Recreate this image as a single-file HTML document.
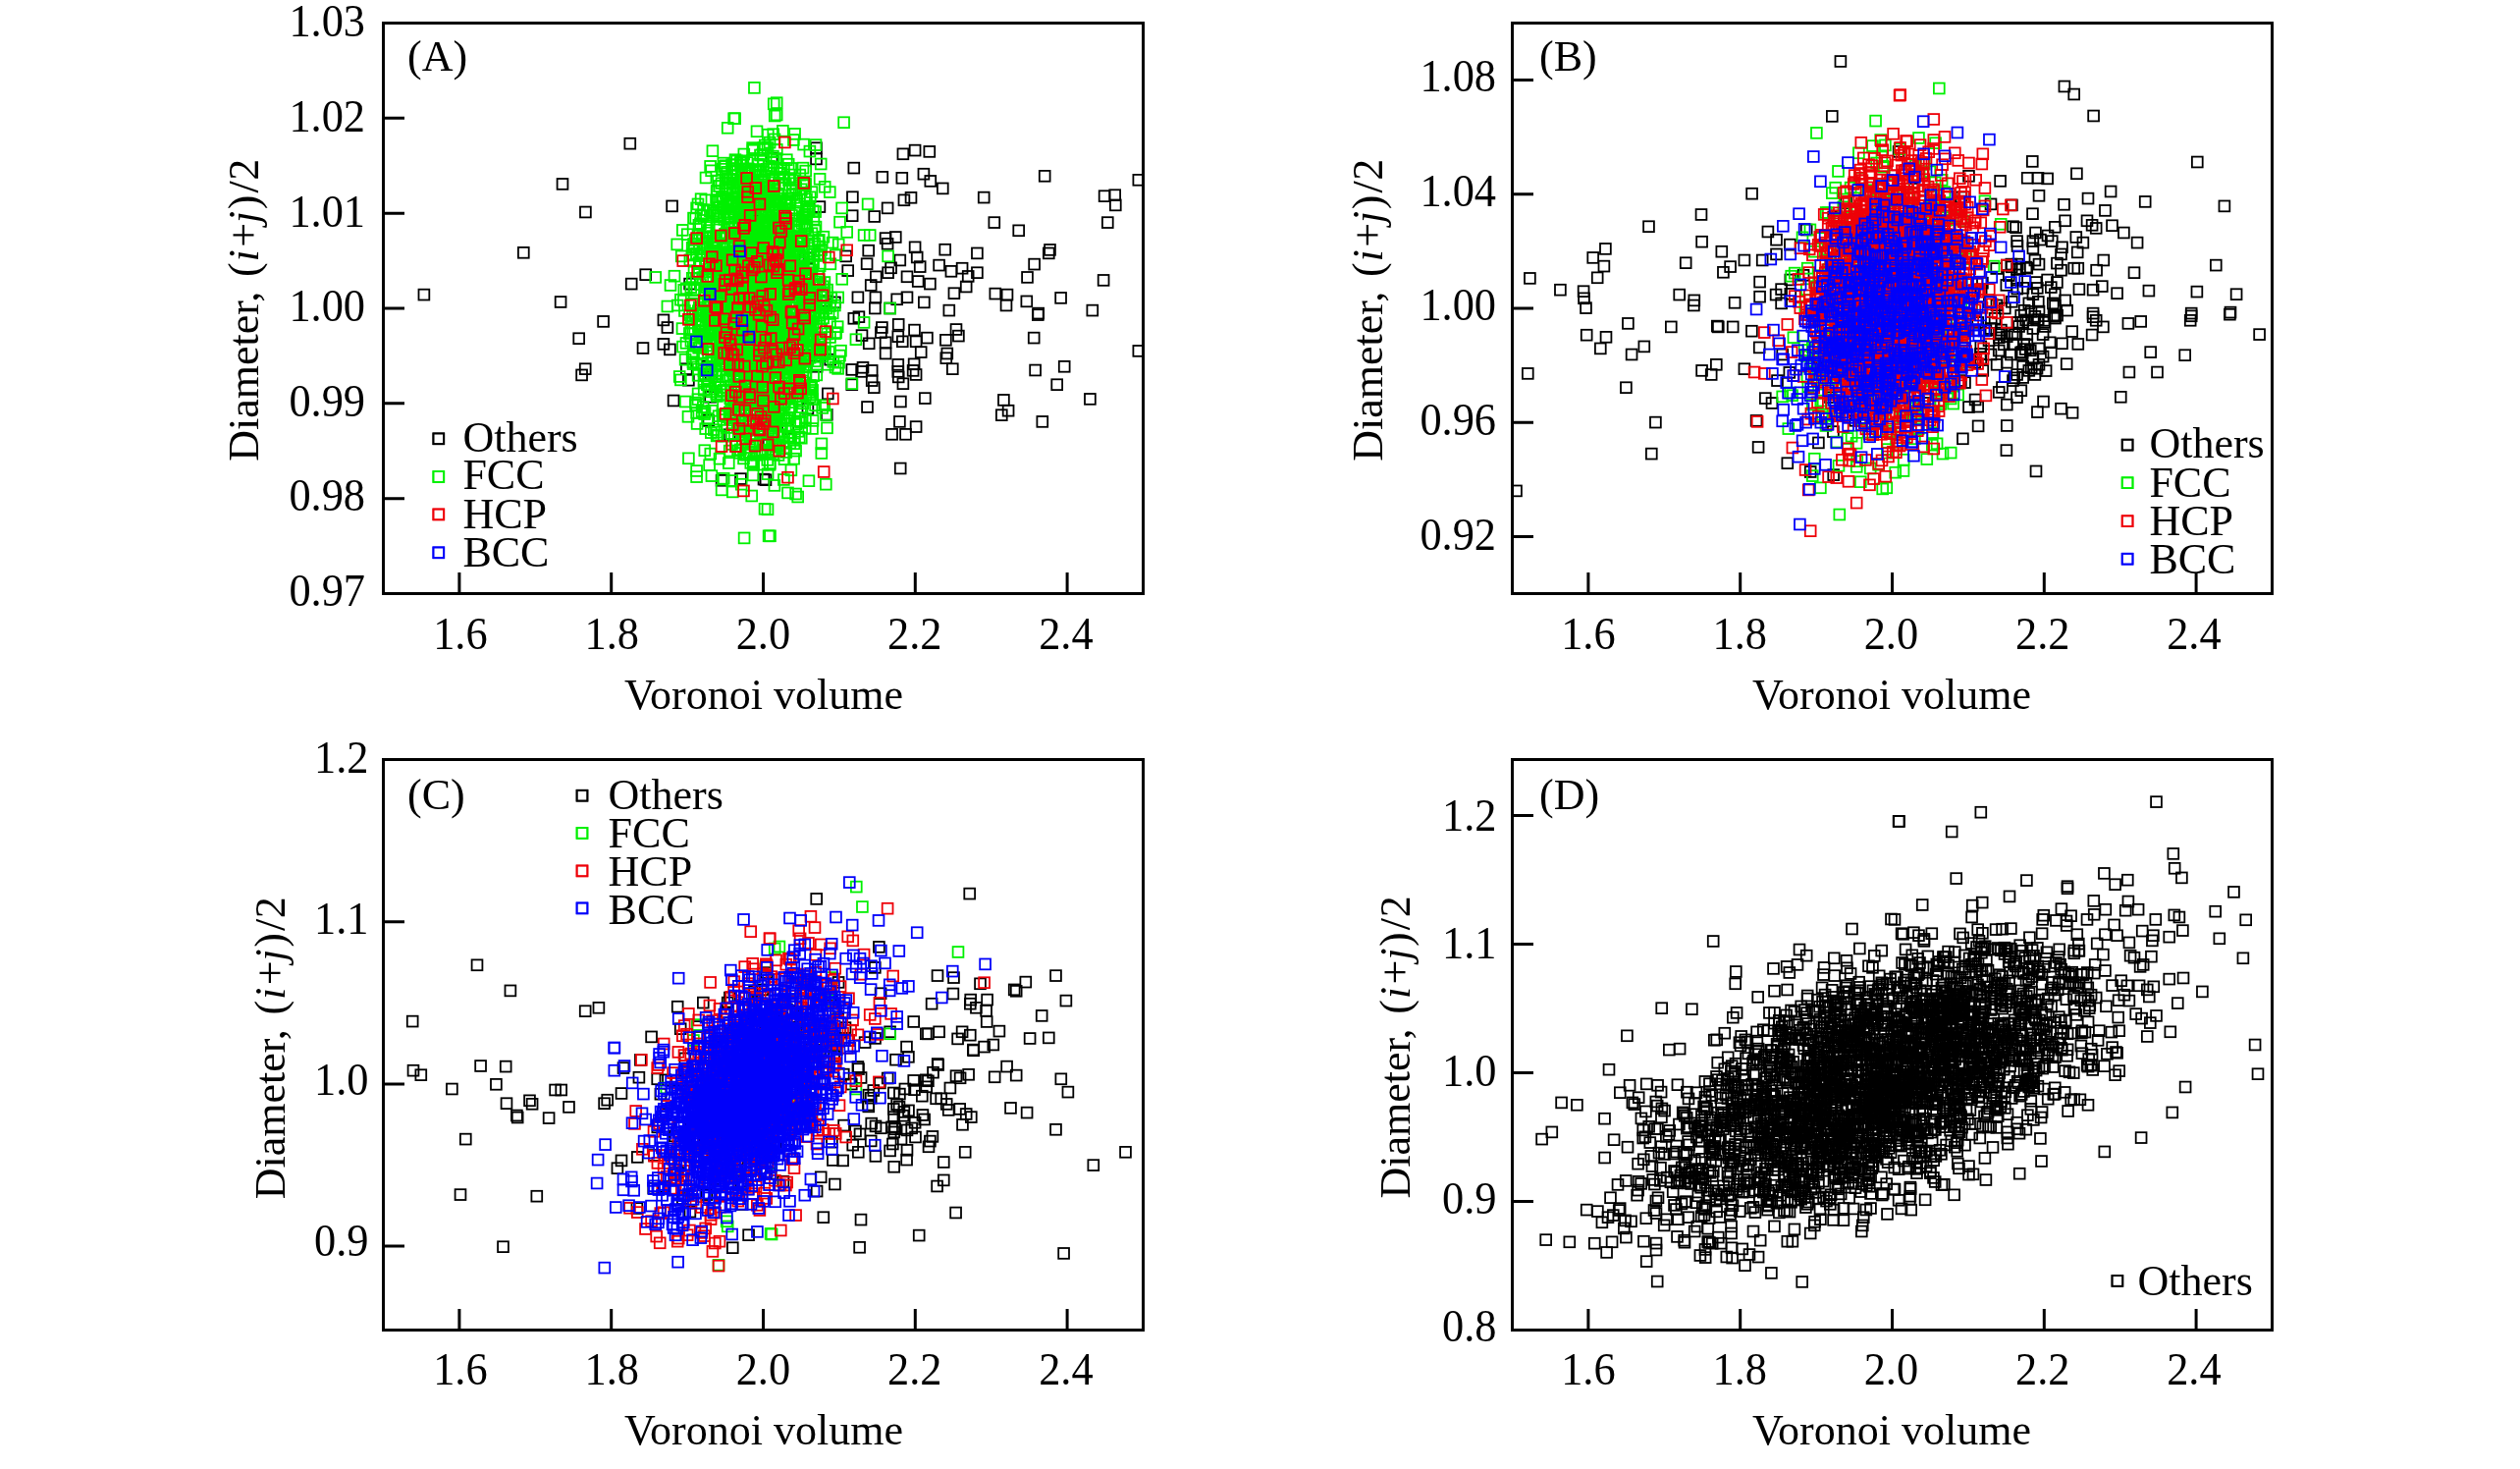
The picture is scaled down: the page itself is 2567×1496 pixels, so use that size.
<!DOCTYPE html>
<html lang="en">
<head>
<meta charset="utf-8">
<title>Diameter vs Voronoi volume</title>
<style>
html,body{margin:0;padding:0;background:#fff;}
body{width:2567px;height:1496px;overflow:hidden;}
svg{display:block;will-change:transform;}
svg text{font-family:"Liberation Serif", "Times New Roman", serif;font-size:44px;fill:#000;}
.s{fill:none;stroke:none;}
</style>
</head>
<body>
<svg width="2567" height="1496" viewBox="0 0 2567 1496">
<rect width="2567" height="1496" fill="#fff"/>
<defs><marker id="k" markerUnits="userSpaceOnUse" markerWidth="13.6" markerHeight="13.6" refX="6.8" refY="6.8" orient="0"><rect x="1.4" y="1.4" width="10.8" height="10.8" fill="none" stroke="#000000" stroke-width="1.8"/></marker><marker id="g" markerUnits="userSpaceOnUse" markerWidth="13.6" markerHeight="13.6" refX="6.8" refY="6.8" orient="0"><rect x="1.4" y="1.4" width="10.8" height="10.8" fill="none" stroke="#00f000" stroke-width="1.8"/></marker><marker id="r" markerUnits="userSpaceOnUse" markerWidth="13.6" markerHeight="13.6" refX="6.8" refY="6.8" orient="0"><rect x="1.4" y="1.4" width="10.8" height="10.8" fill="none" stroke="#ee0008" stroke-width="1.8"/></marker><marker id="b" markerUnits="userSpaceOnUse" markerWidth="13.6" markerHeight="13.6" refX="6.8" refY="6.8" orient="0"><rect x="1.4" y="1.4" width="10.8" height="10.8" fill="none" stroke="#0000fa" stroke-width="1.8"/></marker></defs>
<clipPath id="cA"><rect x="390.5" y="23.5" width="774.0" height="581.0"/></clipPath><g clip-path="url(#cA)">
<polyline class="s" marker-start="url(#k)" marker-mid="url(#k)" marker-end="url(#k)" points="817.3,344 739.8,264.9 723.6,404.3 780.1,253.7 797.2,322.9 806.6,283.5 802.3,255 749.2,334.3 734.6,312.6 834.9,210.6 779.4,216 808.9,259 724.2,381.1 760.6,318.2 727.5,267.3 747.5,330.4 812.4,361.3 720.2,373.3 756.8,363 783.8,366 751.6,348.9 767.7,225.2 768.9,376 793.7,245.3 760.8,281.7 788,303.2 779.7,378.1 793.9,349.4 786.2,161.1 841.7,306.3 751.8,272.3 823.9,262.6 761.9,232.2 740.4,332.4 824.4,361.3 760.5,318.6 641.8,146.2 573,187.4 596.4,216 684.6,209.9 533.3,257.3 657.7,279.7 643.2,289.1 702.6,289.1 431.9,300.1 571.1,307.5 831.5,150.7 831.5,161.9 869.8,171.1 919.9,156.8 932.1,153.1 946.8,154.4 898.8,180.3 918.8,181.3 940.9,177.2 947.8,184.4 960.3,191.9 1064.2,179.3 1159.8,183.3 868.4,200.7 920.9,203.8 928,201.3 1002.2,201.1 1125.1,199.7 1135.7,198.7 1136.3,208.9 904.1,211.9 868.2,219.7 890.7,220.5 1012.8,226.6 1037.7,234.8 1128.3,226.6 902.1,242.6 912.3,241.5 904.1,248.3 884.7,255.2 932.1,251.8 962.7,254.2 995.4,257.9 1069.5,254.4 1068.3,257.9 861.7,260.9 883.1,268.7 916.8,265 934.2,262 937.2,271.6 907.6,272.8 956.6,270.1 968.9,276.3 980.1,273.2 995.4,277.7 1053.6,269.1 1046.5,282.4 1124.1,285.4 863.7,275.6 892.3,281.8 904.6,277.7 924,281.8 935.2,286.5 947.4,289.1 986.2,281.4 984.2,292 887.2,290.5 971.9,298.7 1013.8,299.1 1026,300.1 1025,311 1045.8,306.9 1080.6,303.4 873.9,302.8 891.9,302.8 913.7,304.8 924,302.8 941.3,307.9 891.3,314 906.6,314 966.8,316.1 1057.7,319.1 1112.8,316.1 850.4,307.9 1057.3,320.6 869.8,324.3 874.9,322.7 898.4,333.5 897.4,338.6 915.2,330.4 931.5,336.1 974,335.5 976.4,342.1 944.4,344.1 1053.2,344.1 878,341.6 885.2,349.8 902.1,348.8 914.8,342.7 919.3,347.8 933.1,347.8 963.4,346.3 938.2,358.6 902.1,360 964.8,360 963.8,364.7 1159.8,357.4 845.7,366.2 832.1,373.3 867.8,376.4 879,374.3 877.6,378.4 888.2,377.4 914.8,371.3 914.8,378.4 931.1,370.8 930.1,377.4 933.1,381.5 970.3,375.7 1054.6,377 1084.2,373.3 915.2,383.9 888.2,387.6 890.3,394.7 919.9,390.7 867.8,391.7 1076.7,391.7 843.3,400.9 942.3,405.6 917.4,409 883.5,414.5 1022.4,407.4 1027.1,418.2 1020.3,422.7 1110.4,406.4 1061.8,429.4 916.4,429.4 933.1,434.6 908.6,442.3 922.5,442.3 822.9,416.2 842.3,422.3 802.5,436.6 917.2,477 780,488.7 783.1,452.9 614.6,327.4 589.7,344.7 655,354.5 675.9,325.9 679.9,333.5 675.9,350.4 682.4,355.9 596.2,375.7 592.6,381.9 699.3,375.7 701.4,387.2 686.1,408 735.1,489.3 754.5,487.6 778,488.1 721.8,428.4 743.2,442.7"/>
<polyline class="s" marker-start="url(#g)" marker-mid="url(#g)" marker-end="url(#g)" points="763.3,344.5 804.4,309.8 780.9,401.7 783.2,307.3 779.1,218.2 819.6,336.2 752.5,359.7 755.5,398.3 805.9,414.5 769.5,378.2 787.7,368.9 745.2,288 774.6,303.7 789.4,433.8 726.4,214.9 747,375.4 790.3,275.9 790.5,431.2 771.4,233.9 741.1,276.4 789.2,309.6 771.7,250.7 761,391.4 754.4,418.2 851.4,259.7 772.8,227.1 776.4,295.7 792,344.3 715.8,282.6 755.1,315.6 718.9,319.7 768.9,190.4 781.4,274 780.2,279.4 766,392.5 780.8,240.3 780.6,255.7 789.5,362.7 774.6,357.6 711.9,229.3 742,320 785.8,459.8 740.6,203.5 743,358.3 778.1,264 771.9,234.5 807.7,261.3 793.8,334.7 756.7,373.5 777.9,204.9 743.1,256.7 767.8,265.1 693.4,305.2 761.1,377.5 783.2,220.7 812.9,275 789.6,335 839.9,287.5 827.6,397.4 717.6,421.6 764.6,308.8 767.4,324.4 777.2,252.5 751.3,264.9 796.7,394.4 802.4,269.7 717.9,306.9 809.5,364.2 748.5,266.2 813.8,291.8 795.9,312.8 768.6,384.4 842.8,340 805.1,182.3 774.9,341 783.2,387.1 825.9,320.9 807.3,186.7 781.7,411.5 795.5,363 779.2,202.2 718.4,268.6 807.5,356.6 788.8,430.8 724.5,376.3 750.1,200.8 764.5,191.1 786.5,341.8 834.6,251 774.3,301.3 706.6,248.4 798.9,351.5 767,265.6 711.4,332.4 733.1,330 788.1,226 747.1,168 796,411 762.6,259.4 781,292.2 800.5,375.2 795,202.2 736,422.7 705.3,260 766.3,382.7 734.8,344.9 817.5,244.3 724.8,325.3 736.8,427.5 731.1,364.7 722.6,317.4 753.6,461.3 780.5,404 737.9,223.4 712.8,315.4 763.2,199.1 771.8,296.4 800.7,270.7 765.6,273.4 807.4,373.7 736.1,383.3 769.4,212 759.7,204 720.2,292.6 768.4,302.9 814.3,229.8 848.8,368.4 807.7,396.3 815.5,319.3 817.4,395.6 756,322.2 784.1,145.1 749.7,256.6 795.1,260.4 814.8,178.1 764,412 782.1,297.3 805.9,374.9 748.3,228.8 818.6,147.1 792.3,265.2 779.1,418.7 774.8,191.4 799.9,386.4 811.8,243.3 726.7,255.8 739.8,314.9 713.5,227.8 791.1,309.5 788.7,265.9 733.3,394.3 822.2,342.2 830.9,363.2 830.9,319.2 775.6,348.5 778.8,189.8 778.9,394.7 768.3,242.9 728.3,251.4 750.1,259.4 804.4,384.3 773.5,239.3 754.8,323 764.2,207.8 835.4,260.4 827.2,248.3 815.3,341.5 780.7,292.7 730,219.7 781.4,309.6 761.4,400.5 811.5,389 746.9,315 820.8,401.9 775.7,459.8 777.1,383.3 752,255.7 766.8,186.4 776.9,157.4 765.8,259.9 762.3,171.8 759.1,427 843.4,371.3 766.4,163.3 802.2,234.9 776.7,341.5 773.7,246.2 753.7,186 822.7,306.8 827.7,270.2 751.1,307.7 742.4,231.6 740.4,237.1 787.4,355 779.9,227.6 800.8,460.5 769.1,295 753.6,352.7 778,436.4 751.9,392.7 798.4,398.7 790.1,342.2 795.5,291.5 791.3,365.7 757.1,277.3 714,220 820.2,373.6 813.1,403.3 808.3,299.5 779.8,351.4 770.7,360.4 773.4,281.1 744.1,182.9 768.6,224.1 775.7,271.2 781.7,319.6 749.6,376.7 788.3,393.4 751,260.2 753.7,332.3 776.8,271.8 756,224.6 736.5,201.8 752.8,343.2 747.9,422.8 778.2,183.3 798.8,402.7 796.5,306.5 747.2,325.6 759.8,224.3 783.7,230.2 716,241.6 806.4,332.4 819.3,312.1 799.8,248.4 699,349.4 783.8,274.3 707.9,294.7 808.2,250.6 721.9,374.9 787.3,269 722.3,396.1 732.5,372.4 790.2,369.9 729.4,377.4 731.5,278.4 779.9,311.6 772.9,235.7 819.7,301.9 806.1,293.8 761.1,165.5 747.1,196.2 814,332.5 746.3,305.1 732.9,223.1 789.6,451 749.1,327.3 716.6,339.8 796,410.6 807.9,320.8 731.4,442.9 754.2,318 766.5,310.4 756.8,429.5 718,296.7 774.5,158 760,332.1 778.5,232.9 798.3,222.2 790.2,347.9 734.5,371.4 776.7,428.4 804.8,375.8 737.4,444.2 743,285.3 835.1,270.7 689.7,248.9 760.1,338.6 747.6,383.5 758,208.1 759,327.4 798.7,283.2 808.9,224.9 837.6,300.5 771.4,222.6 783.9,297.3 814.1,325.7 766.8,382.6 789.5,388.5 766.8,286.1 817.7,387.8 723.3,318.1 779.8,364.3 724.6,341.2 784.9,249.9 805.1,273.1 758.2,342.5 764.8,331.4 817.3,312.9 769.9,308.9 796.4,334.1 764.6,340.6 741,182.2 757.5,319.7 846.7,303.1 763.7,431 776.5,371.5 787.4,165.5 795.7,329.9 809,235.7 743.8,382.2 799.7,207.3 751,325 760.7,354.8 815.2,328.7 777,227 762.7,339 752.9,399.4 779.7,420.2 763.5,324.3 811.5,337.2 782.4,305.7 768.1,344.2 787,344.8 747.3,216.2 727.6,335.6 731.6,267.6 723.2,295 770.5,379 772.9,427.7 797.1,258.3 735.1,314.4 756.6,194.8 751.1,345.9 832.6,258.7 779.2,392.7 791.2,343.3 815.4,369.8 782.9,332.4 771.4,308.5 756.8,358.7 762.1,311.9 772.3,255.8 764.9,412.4 764.5,315.7 840.2,360.2 724.8,362.7 702.9,264.8 788.8,305.4 823.8,245.5 763.1,332.1 806.3,309.1 832.9,360.3 764.7,284.4 782.4,316.9 742.2,341.3 749.7,237.6 759.3,434.1 801.5,395.1 826.5,402 801,310.3 740.6,320.9 743.7,294.3 759.5,321.2 774.7,308.9 795.9,204.5 719.4,323.2 734.3,321.3 837.2,363 790.9,161.5 790.6,394.8 722.9,307.1 813.4,364.5 794.6,433.2 721.5,358.7 730.4,403.5 799.3,379.8 725.9,298.4 798.3,249.5 754,292.6 800.2,227.6 810.1,271.2 837.7,415.4 712.3,267.5 721,308.5 771,239 835.5,289.3 795.2,349.1 725.4,378.5 810.1,319.9 772,260.8 823,305.5 731.2,274.2 810.4,278.1 824.2,399.5 737.3,361.4 780,452.8 792.7,343.8 782.8,399.7 741.6,282.4 812.9,241.9 740.2,361.2 778.8,339.1 794.6,269.4 789.4,374 798.4,254.4 784.1,302.3 786.9,449.9 824.2,214.5 765.8,357.8 768.2,322.8 719.6,321.9 790.4,317.9 827.1,341.5 759.6,412.4 793,278.9 819.3,290.5 819.2,327.8 810.1,368.4 813.2,367.6 708.4,320.2 789.5,308.5 715.1,242.6 809,183.7 720.6,426.5 808.4,276.5 750.8,201.2 737,330.5 803.1,249.8 766.2,409 729.3,273.7 733,326.4 719,181 831.8,381.9 819.9,188.8 775.9,271.7 747.8,377.6 792.6,383.9 766.1,282.7 801.3,162.7 796.2,171.4 776.1,438.9 763,299.2 796.8,225 774.1,300 714.2,330.3 785.2,362.7 759.2,312.4 783.8,195.6 760.8,284.1 785,244.4 762.1,320.4 853.7,302.9 792.3,253.6 775.3,179.6 787,295.7 778.4,263.8 828.3,296.5 747.1,278.9 745.9,171.5 796.3,308.5 766.1,334.3 749.9,362.8 709.1,370.2 773.7,307.9 753.2,437.8 815,265.9 736.8,166.1 790.7,277.8 772.5,248.3 747.9,323 819.6,199.6 826.9,237.7 762.9,354.3 767.5,151.9 702.4,339.5 810.7,295.2 769.4,279 816.2,192.8 758.9,368.8 797.3,261 793.1,401.4 795.3,395.5 759.8,422.5 752.1,194.1 733.1,323.3 783.7,366.3 744.8,410.9 793.9,176.3 825.7,313.2 796.5,287 778.6,253.2 745.1,293 746.4,179.1 757.6,239.6 798.7,180.2 783.9,288.5 790.7,205.4 810.2,370.5 799.1,412.1 807.8,320.1 773.7,315.7 736.1,343.4 825.4,392.5 821.5,202.7 716,219.5 766.8,364.1 821.9,230.5 815.7,319.2 698.1,366.2 761.3,361.9 745.8,296.4 771.6,266.2 772.3,167.2 813.5,397.1 755.4,238.5 767.3,232.2 739.5,290 720.6,323.3 789.6,272.4 816.3,339.6 773.6,311.6 826.6,340.4 758,295.2 793,463.5 703.8,292.6 788.3,390.4 836.7,335.3 748.2,413 793.4,378.2 788.3,165.3 762.4,231.8 782.6,441.5 766.3,323.6 748.6,172.1 773.1,258.8 762.1,327.8 777.5,231.9 697.4,316.5 758.1,245.2 814.3,367.7 800.2,316.2 817.2,414.7 771.5,341.4 812.7,245.5 833.1,290 755.6,313.4 770.3,394.4 756.3,373.4 708,351.7 827.5,436.5 780.5,202.7 721.1,237.1 726.8,309.7 789.3,283.3 722.3,301.8 743.7,376.3 724.3,440.6 777.9,343.4 772.3,364.4 711.1,382.3 736.2,365.9 757.1,344.7 845.9,268.8 765.9,366.6 752.9,377.8 752.1,407.6 804.8,239.9 751.3,382.3 703.9,347.3 724.9,358.8 749.3,414.1 766.8,369.5 715,342.8 778.6,287.4 753.4,301.6 736.1,172.2 762,248.5 838.9,241.2 758.6,335.2 766.7,348.8 803.5,183.6 764.6,324 790.2,419.6 789,402.3 724.2,299.8 793.9,371.9 747.3,337.2 757.2,324.2 770.7,343.1 728.5,344.7 803.7,396.1 752.3,300.2 758.8,304.4 834.6,353.6 711.3,316.7 748.8,289.9 826.3,393.6 741,350.9 755,217 733,230.3 774.5,369.9 773.5,249.5 753.2,226.8 754.1,295.1 777.9,339.1 756.9,163.8 737.5,422.2 773.1,332.2 768.2,257.4 715.1,260.6 785,349 768.1,273 822.9,366.4 753.7,352.9 732,293.6 742.1,387.6 818.8,310.3 793.9,379.2 770.1,218.3 730.4,350.3 751.8,373.9 774.1,301.2 795.8,349.8 757.5,442 822.2,297.6 763.2,389.9 818.9,331.5 724.6,173.8 798.1,306.1 702.5,321.1 799.2,408.8 814,287 728.9,328.2 770.2,273.7 787,276.6 715,320.7 761.9,182.4 795.8,291.6 806.3,309.6 748.5,309.4 791.9,385.7 749.8,408.7 828.6,382.8 752,229.5 783,290.5 818.6,368.3 733.4,281.3 796.4,302 764.2,446.9 712.3,329.8 750.3,259.2 773.7,289.7 752,285.9 807.4,282.3 759.4,279.8 781.2,425.8 792.3,331.4 799.9,345.9 744.3,337.7 830.2,367.8 779.8,313.9 784.5,304.6 730,399.2 762.5,427.7 782.8,420.5 722.6,473.7 759.6,284.1 774.3,352.3 744.6,299.6 825,364.2 832.8,259.6 723.2,335.9 705.6,322 722,284.7 764.7,386.2 825.1,305.9 800.4,370.9 810.8,277.4 777.3,379.5 757,229.8 728.5,267.5 778.4,369.2 831.8,306.1 763.6,250.2 715.8,360.6 776.3,382.1 794.1,258.7 798.2,342.7 769.7,381.1 736.6,413 752.7,284.7 789.9,361.6 825.8,315.9 813.3,276 764.8,189.7 765.2,313.4 818.4,270.8 815,277.1 792.8,403.9 696.8,295.3 722,293.8 802.2,266.1 817.3,308.1 792.3,260.1 778.3,293 773.5,204.5 787.3,183.4 721.1,251.7 746.4,341.4 796.4,352.3 763.1,172.9 767.2,338.1 772.4,386.9 788,307.4 752.1,322.9 732.7,323.1 785.9,293 712.3,268.7 766.8,322.3 814.4,280.5 731.4,219.1 805.7,171.4 755.1,216.4 749.8,363.8 755.5,352.4 788.2,320.8 796.2,439 746.2,298.3 748.9,327.6 822.8,213.3 733.3,295.6 760.7,324.5 811.7,377 842.5,435.8 783.4,353.9 791.3,172.7 739.6,338.2 812.6,371.3 793.5,307.5 759.9,351.8 774.4,349.3 827.7,406.6 741.3,207.1 731.5,184.1 717.4,253.9 796.9,444.8 730.1,270.8 734.2,282.5 815.6,430.4 709,351.9 792.7,453.4 729.7,231.6 778.9,247.4 788.2,272.2 764,285.9 765.6,291.1 765.4,266.6 754.4,422.4 716.3,414.5 824.9,344.3 821.2,300.1 799.4,313.9 772.9,206.5 799,259 784.9,292 798.5,330.7 828.9,223.2 821.2,347.5 761.3,343 742,229.1 749,162.7 771.1,314.6 769.4,324.1 791.4,319.5 812.4,246.4 720.3,231.5 739.2,197.2 736.9,301.3 801.4,276.8 782.9,235.3 791.3,428.2 755.5,376.6 738.6,241.4 749.2,262.7 832.1,358.8 773.5,326.3 766.9,346 798.7,218.4 779,325 815.9,344.9 775.3,351.3 795.5,280.6 752.8,222.1 759.6,255.6 799.9,273.5 780.6,312.5 753.7,382.9 775,268.2 768.6,209.8 745.1,272.6 791.8,300 834.4,343.8 767.8,283.4 759.1,204.9 730.1,443.9 771,248.1 815.7,267.5 790.5,208.2 779.2,351 714.3,260.4 761.8,437.3 733.8,398.1 750.9,315.7 796.3,431.8 738.5,238.4 743.2,419.9 800,389.5 820.4,233.7 823.4,331 797.6,450.1 772.1,312.2 792.6,348.3 827.8,330.2 783.4,169.3 780.2,275 782.2,236.3 808.6,382.4 754.1,278.5 834.6,318.1 809.5,223 750.2,196.8 836.6,254.5 717.8,458.7 744.6,376.6 750.3,398.3 794.7,302.8 815.4,296.7 850.4,311 792,205.5 746.1,359 796.2,232.1 761,265.8 752.3,248.9 819.9,218.8 812.1,381.2 779.6,304.8 792.7,197.4 735.1,296.6 732.7,266 753.9,369.5 793.7,268.9 766.6,150.6 757.6,282.8 807.3,265.8 787.7,136.7 730.1,194.7 778.7,336.5 808.4,142.5 738.2,329.7 748.5,304.9 720.9,355.6 767.9,303.1 741.3,248.7 760.6,233.2 724.7,398.9 778.7,411.7 743,305 706.1,370.6 820.9,374.1 786.5,446.5 774.8,387.6 740.1,316 705.3,283.3 804.6,313.6 743.8,209.3 834.3,244.4 741.7,274.2 755.5,335.1 763.8,245.1 760.6,188 786.3,270.9 766.8,246.5 775.2,261.8 746.9,288.4 823.4,209.9 773.3,277.4 757.2,346.5 773.8,461.1 733.6,308.8 755.5,178.3 779.1,458.1 780.7,399.3 833.3,245.5 768.6,359.8 784.3,418.4 737.7,169.5 817.9,311.5 761.2,236.8 711.1,400.9 820.5,188.3 762.7,288.7 762.4,310.4 793.7,186.5 814.2,197 723.4,255.8 780.3,397.9 743.7,269.7 782.8,310.2 782.1,409.7 725.1,299 710.1,431.5 764.5,194.4 800.6,236.4 726.8,262.9 769.5,411.2 795.4,300.1 746.3,373.6 726.5,273.3 755.4,309.7 801.3,344.8 770.1,236.6 819.1,338.3 726.3,218.7 851.6,338.7 783.4,361 744.9,206.7 822.9,283.5 754.5,190 745,397.1 755.2,493.2 687,281.2 799.1,293 764.4,442.2 753,247.3 730.4,262.2 823.4,215.7 767.9,353.5 754.2,273.4 800.3,405.5 749.7,212.7 748.9,322.4 803.8,240.3 798.3,278.3 794.2,289.3 793.3,211.5 770.7,409.2 735.8,242 767.8,223.6 834.1,279.1 759.8,385.8 810.3,271.8 744.5,296.6 782.1,482.7 744.5,369.9 780,406.3 752.2,225.4 711.3,376 759.1,246.9 807.5,263.9 746.2,306.8 750.8,345 755.3,208 753.6,311.6 801.8,206.2 778,292 761.8,327.7 730,381.4 820.7,174.1 766.1,271.8 759.9,427.4 727.5,216.9 795,310.5 780.9,341.8 772.2,280.1 714.8,339.8 717,388.5 759.5,298.5 848.1,247.1 767.9,374.2 802.7,342.6 840.1,297.8 823.4,214.9 780.6,276.7 784,331.9 800.7,297.9 790.5,316.5 755.3,371.6 724.8,299 796.8,339.8 816.6,278.1 773.8,279.1 766.4,175.7 787,389.1 722.2,316 750.4,454.4 770.2,361.2 722,338 800.4,374.6 775.1,258.5 799,245 719.8,250.5 784.4,207.9 738.3,368.2 785.7,368.4 735.3,280 783.8,211.5 853.6,375.4 747.6,120.7 786.1,430.8 790.4,281.3 814.8,242.3 802.6,339.3 803.9,216.5 725.5,248.3 756.4,222.3 723.7,292.4 733.6,317.6 824.3,291.5 765.5,282.4 730.6,338.9 762.4,378.8 812,251.4 743.7,183.2 760.9,351.5 741,204.5 737.3,309.2 791.2,225.6 820.4,426.4 748.3,249.9 833,281.7 742.2,222.2 836.9,451.9 783.2,398.5 842.6,295.1 736.2,209.9 806.8,374.7 810.1,384.9 737.2,310.7 733.8,401.9 768,441.7 744.8,324.3 814.4,283.1 753.9,238.3 767,259.4 776.7,185.7 838.4,311.4 814.3,400.7 803.6,420.5 776.6,473.1 788.3,240.1 705.9,321.7 767.2,469.7 734.2,274.3 776.5,273.5 770.9,387.8 751.8,192.4 777.8,353.9 780.6,232.1 731.6,320.4 801.3,246.4 788.8,271.1 767.9,360.5 789.5,375.9 818.2,185.3 815.8,403.7 810.6,341.7 784.5,372 850.9,339.6 836.6,334.9 705.3,309.7 804.3,181.6 700.2,238.7 811.4,406.4 811.7,204.5 777.7,164.2 774.5,367.4 793.7,240.3 804.1,268.4 783.7,375.7 721.6,274.3 752,325.2 815.3,322.2 780.9,225.3 776.1,460.5 822.8,239.4 765,407.5 739.2,257.2 833.5,290.4 751.3,296.5 826.4,360.6 779.2,363.8 766.2,282.8 794.2,343.7 763.4,176.4 733.4,370.2 805.4,345.3 803.8,359.3 748.4,334.1 743.7,236.7 785.9,304.7 807.9,302.9 744.5,210.2 739,339.2 838.4,291.7 729.4,217 718.1,337.5 799.1,302.1 766.8,286 737.4,263.8 735.4,200.3 786.1,282.6 781.6,334 768.4,420.9 749,227.8 823.3,272.2 712.2,313.2 814.5,310 761.3,198.1 793.6,260.4 732,211.6 747.6,404.8 851,374.1 797.5,228.6 818.3,373.4 805.9,478.8 708.6,319.3 713,353.7 749.5,342.9 715.1,418.8 799.5,314.1 774.1,378.7 828.1,255.8 761.5,181.4 746.5,263.4 754.2,403.3 755.4,359.9 744.7,221.2 731.4,203.5 784.6,292.5 792.7,339.6 830.7,286.8 733.4,353.1 811.3,351.6 785.5,284.9 810.4,257.6 790.3,290.9 746.9,214.9 740.4,319.1 789.3,348.8 754.2,322.8 802.4,444.6 745.5,242.4 771.7,315.6 792.8,285.1 783.4,224.2 785,354.2 782,150.6 709.6,258.1 817.7,367.6 825.7,301.5 810.2,365.1 759.3,353.2 822.6,296.1 758.5,299.6 757.4,278.7 800.1,382.4 756,237.8 760.2,247 747.3,187.2 764.6,380.5 790.1,224.3 826.9,195.6 828,343.1 757,183.7 767.3,471.3 799.1,285.3 756.8,367.4 701,424.3 838.6,324 739.1,179.9 779.6,256.8 769.6,280.9 779.3,392.5 757.2,354.2 780,357.7 711.7,354.3 780.1,318.8 747.5,367.1 762.6,298.4 799,467.7 773.4,301.1 804.8,451.3 761.4,221.2 754.3,457.9 751,238.6 759.4,222.5 792,327.6 748.6,346.1 802.4,201.7 762,253.3 781.8,468.4 753.1,186.5 826.6,394.9 732.6,329.2 812.3,231.1 772,288.4 800.3,264.3 825.7,334.6 804.1,359.6 744.4,346.9 776.3,239.5 714.1,202.7 756.4,450.9 749,310.3 741.2,300.8 744,221 770,407.6 784.5,289.4 818.4,262.7 761,259.7 766,383.3 789,141.9 853.2,332.7 749.9,290.4 812.1,368.1 786.5,329.4 773.2,252 740.9,269.5 793.8,273 782.9,304.6 854.2,248.9 745.5,452.4 775.5,287.3 776.9,458.6 817.9,349.7 783.1,355.7 795.9,398.2 743.8,328.6 791.6,267.9 762.4,388.8 794.4,341.2 844.1,319.5 804,444.1 750.9,190 753.5,359.8 771.8,311.9 792.8,388.3 799.1,406.1 737.9,300.1 821.9,282 777.5,343.3 743.8,405.7 712.6,238.4 735.3,305.2 813.8,428.8 779,263.5 789.5,338.1 729.8,265.2 766.9,408.9 760.1,311.1 757.5,303.3 771.2,189.2 765.7,346 695.5,353.1 778.7,315.9 802,426.1 763.7,346.2 768.2,304 739.1,386.7 786.8,436.1 716.9,377.5 803.3,323.7 705.1,363.1 807.4,362 772.5,226.7 747.2,371.3 712.4,252.6 756.1,271.1 757.5,330.5 786.6,383.7 825.3,200.8 739.2,329.9 805,273.1 805.2,446 750.5,336.9 747.4,294.4 798,412.5 784.5,406.3 752.2,321.3 773.3,387.9 747.8,391.6 754.3,433.5 761.2,410.8 819.5,394 806.9,308.5 707.3,251 793.5,356.1 755,409.3 734.4,345.6 775.5,203.7 793.3,276.1 788.9,367.7 713.5,289.7 741.7,286.3 745.9,231.4 788.8,400.6 801.5,206.8 762.8,405.7 806.3,270.4 777.9,202.4 790.8,315 745.6,167.6 830.6,215.6 811.4,386.4 791,453.5 717.2,397.2 792.6,417.5 803.5,270 796.6,307.4 734.3,259.4 747.4,364.7 733.2,277.9 785,442.6 827,279.7 769.5,229.7 786,198.3 799.1,352.1 743.5,312.4 750.3,306 760.1,203.3 739.7,350.7 764.7,283.8 841.6,314 781.7,204.5 821.9,310.3 776.5,267.6 780.6,334.4 772.8,291.9 814.4,248.1 757.5,466.9 767.4,328.1 714.6,370.1 799.5,384 737.7,297.6 798.4,298.2 794.9,239.6 779.1,179.4 771.2,392.3 744.7,339.8 753.2,265 752.6,301.3 797.6,180.6 788,382.6 764.1,266.7 806.5,390.6 811.9,229.8 739.9,298.6 823.5,296.1 758.6,374.4 800.5,356.6 807.3,358.8 738.9,323.7 752.2,239 796.1,421.2 780.8,237.8 788.1,309.6 807,194.5 772.2,179.5 745.4,269.8 756.6,341.5 745.8,206.8 823.1,319.7 743.5,338.5 790.5,350.4 748.2,311.1 739.3,262.5 764.2,219.4 806.1,346.7 738.1,250.8 788.5,337.5 731.1,220.1 777.5,338.5 823.7,352.3 796.5,369.5 794,366.3 693.4,386.9 764.8,471.4 794.4,349.1 773.9,385.9 777.8,450.9 741.4,279.1 818.7,389.9 740.7,175.3 760.5,463.1 729.6,301.2 788.3,185.7 793.1,224.5 763.4,455.8 751.7,291.7 767,284.9 760.6,275.7 800.2,188.3 780.9,341.1 759.7,250.2 778.1,433.8 754,351.3 735.6,356.2 755.1,180.5 818,171.1 804.5,405.3 754.5,296.4 774,340.7 778.6,273.2 802.7,369.1 735.1,291.9 817.9,309.1 748.6,236.7 794.3,454.1 787.9,206.1 730,346 793.9,420.4 817.5,264.2 794.6,176.5 761,401.9 766.9,322.8 819.7,232.4 840.2,350.6 791.9,364.2 777.6,167.6 800.5,307.3 797,320.8 771.3,363 747.4,361 748,345.9 732.7,330.5 806,342.7 781.6,370.3 802.7,227.2 718,419.9 767.1,483.9 773.5,283.2 785.9,311 746,403 815.5,419 744,247.5 705.2,258.9 730,365.1 757.4,322.8 795.4,277.8 768.9,293.7 810,217.1 811.1,287.2 766.2,246.3 817,227.5 769.2,289.7 787.8,352.9 764.2,280.9 772.8,273.9 845.5,343.5 799.1,315.6 807.4,367.8 764.9,216.4 737.3,397.4 759.4,370.5 785.5,360 746.4,246.4 807.2,198.5 706.1,368.7 842,308.7 768.4,216.9 844.3,358.2 839.7,412.8 837.9,313.4 772.8,361.4 796.4,231.1 732.7,261 781.1,189.9 772.3,326.8 708.6,412.7 740,313.9 821.1,222.1 810.4,307.8 773.8,174.5 766.7,396.1 720.3,240.6 788.6,444.3 799.3,282.1 857.7,284.3 764.3,307.5 750.2,255.5 797.7,290.9 778,209.3 751.8,354.4 804.5,207 781.2,448.5 782.3,137.2 818.3,220.7 744.3,205.4 810.7,291.9 746.4,331.2 790.7,337.8 771.3,187.8 767.7,227.2 764.6,399.2 732.4,290.7 767.5,296.3 763.6,318.2 792.9,350 711,406.7 804.7,262.1 738.8,192.5 779.5,461.9 779.6,427.6 794.6,260.7 757.9,312 720.7,247.3 743.4,292.5 794.4,208.6 725.5,316.8 736.7,297.3 763.8,443.7 769.9,380.7 788.3,239.5 778.8,294.3 757.8,157 802.5,365.1 743.8,291.4 774,372.7 751.3,282.5 735.2,332.1 749.1,424.7 749.4,375 709.6,259.3 720.3,345.1 780.7,402.4 798.5,171.5 766.9,153.1 728.3,327.5 762.3,213.2 806.4,219.4 746.4,274.6 809.5,447.7 756.1,317.1 770.9,241.3 735.7,322.3 785.6,171.3 821.2,311.6 752.1,304.6 783.8,376.5 739.6,315.8 784.5,293.2 789.1,306.8 805,241.6 759.5,176.6 711,207.9 777.2,188 767.5,306 743.2,459.1 803.2,404.6 759.8,375.7 780.6,299.1 774,428.6 792.2,258.1 799.2,329.1 748.5,247.8 786,181.8 807.5,399.2 804.2,269.8 801.2,428.4 703.9,334.7 748.3,282.8 768.1,315.5 763.8,417.1 746.9,286.5 774.1,304.4 856.5,357.2 755,296.2 760.9,247.8 803.2,167.2 716,321.3 737.7,283.9 774.7,313.3 736.4,308.1 758.9,216.3 724.3,311.5 779.3,231.8 825,404.5 766.5,226.4 754.9,165 770,309.9 764.6,355 805.1,203.4 829.9,304.7 735,186.7 783.6,195.7 845.5,328.3 797.8,241.7 726.6,367.4 745.6,375 746.2,377.8 759.8,415.3 742.3,471.6 776.7,302.8 782.3,236.3 794.6,204.9 785.7,314.8 782,408.5 783.5,231.9 805.3,318.9 785.8,359.8 724.8,294.8 725.4,276.4 744.6,373.6 764.1,307.6 779.2,397.1 768.6,419.5 790.1,261.9 802.3,227 759.6,280.3 757,221.4 788.5,422.3 810.7,212.1 803.9,347.7 771.8,248 785.6,303 789.3,278.2 748.5,259.4 725.6,249.2 733.4,205.2 786.3,422.2 799.2,322.6 725.1,418.3 812.3,345.2 784.8,290.2 766.8,267.9 754.2,168.2 770.1,288.3 736.9,298 825.6,332.1 718.3,382.8 770.6,386.8 739.4,238.1 799.1,238.7 705.2,252.3 741.2,226.9 747.6,292.1 821.5,281.4 798.3,455.9 795.6,258.3 738.4,260.4 824,329.3 747.5,264.7 781.3,242.9 793.4,263.9 764,344.4 758.1,439.2 774,355.8 813.5,287.8 756.4,410.6 751.6,459 838.2,358 789.8,398.1 797.2,235.4 804.5,425.2 824.8,268.8 729.8,401.5 791.4,219.6 727.1,266.7 779.8,315.8 828.1,352.8 743.7,330.5 776.9,268.3 748.5,248.5 690.2,311 748,178.5 740.5,435.5 743.3,426.1 813,439.3 766.3,448.9 808.3,289.7 800.6,333.9 747.1,362.6 752.3,443 739.2,280.1 816.9,326.7 715.5,330.7 723,345 785.9,348.8 757,184.6 830,234.8 738.9,168.7 770,221 774.6,361.8 730.3,204.9 768.1,190 779.1,237.2 765,245.8 753.2,218.4 765.5,354.9 746.3,191.2 780.8,237.4 804.8,288.4 735,316.6 732.1,423.7 801.8,254.8 767.3,356.7 828.2,299.5 830.6,412.8 756.4,291.4 754.5,351 777.9,334.4 801.5,322.4 773,240 799.5,270.4 785.4,255.3 707.7,336.2 729.2,383.7 829.2,322.4 787,203.2 736.5,274.5 848.2,318.9 823.3,345.8 723.4,214.9 769,172.5 785.4,221.5 760.7,362.7 738.9,373 801.1,371 764.7,240.7 764.8,244.3 835.6,313.3 772.3,395.8 734.5,394.6 770.2,363.9 798,243.3 822.4,326.7 790.1,299.7 733.7,357.6 754.3,165.7 745.9,202.1 795.7,289.3 808.9,451.8 819.8,293.9 772.8,280.2 719.5,271.2 802.5,302.7 790.1,377.2 762.5,191.7 757.3,258.5 762.8,176 746.4,250.5 756.3,339.7 798.4,488.5 752.6,307.5 822.2,284.6 728.7,391.3 824.9,288 800.4,373.8 782.2,275 753,372.6 732.6,189.7 817.3,305 763.7,237.4 732.5,359.5 788.1,337.3 729.1,246.8 786.8,359.3 781.9,318.3 840.3,359 796.9,278.7 759.4,243.7 778,344.3 779.3,148 778.3,279.8 769.4,308.6 781.3,433.1 749.3,397.9 729.8,268.8 727,250.8 789.6,278.5 800.6,404.2 784.3,472 735.6,333.2 820.5,187 746.5,257.2 740.6,281.2 752.2,243.3 788.6,303.9 728.3,262.5 835.2,321.3 729.7,244.6 737.2,487.3 712.4,278 775.8,345.7 759.2,357.9 791.6,362.4 800.4,261.2 750.6,163.9 831,231.1 709.6,211.9 782.5,407 737.8,337.6 733.3,312 764.5,348.1 769.6,331.9 748.8,237.9 752.4,277.3 822,352.2 719.9,287.8 772,234.2 845.6,311.4 791.3,152.4 739.2,186.4 719,282.3 787.5,282 759.2,198.6 761.5,227.9 716.6,213.6 814.3,445.2 766.7,316.5 771.6,317.2 811,432.2 744.3,216.5 710.7,325.9 777.9,315.8 758.9,371.9 721.7,386.8 747.1,252.5 777.8,309.5 798.2,322.8 808.7,345.5 815.6,260 802.3,257.8 745.1,417.6 773.3,299.6 763,461.3 738.5,272.4 707,277 759.9,288 796.9,445.2 745.7,489.5 798.9,387.3 755,328.2 781.3,415.7 769.6,421.3 815.3,274.7 759.2,463 788,228.2 729.4,242 763.8,250.6 724.7,340.5 765.6,299.5 749.4,308.3 824.9,154.1 818.2,294.2 794.8,298.5 758.1,359.4 783,264.7 766.4,230.6 793.2,187.9 787.6,376.6 743.2,346.1 743.2,350.7 735.1,275 775.3,185.3 821,319.3 717.9,298.9 736.1,242.8 748.7,120.7 813.9,260.8 791.6,426.7 764.1,423.4 736,295.2 739.7,269.8 781.1,375.3 792.2,261.8 763.2,288.6 829.4,259 793.9,394.6 708.7,222.5 799.2,426.2 720.4,391.8 721.4,340.5 777.9,150.4 820.2,382.3 788.9,384.7 771.1,463.3 765.9,295.5 704.1,329.1 810.7,190.8 695,334.6 759.3,253.7 824,252.7 798.5,331.4 745.6,375.4 828.2,214.8 824.9,282 741.4,349.7 769.8,266.7 771.7,190.3 763.9,363.8 771,133.8 778.1,152.2 826.6,274.9 777.6,246.5 836,353.2 754.7,290.2 764.8,284.4 840.2,190.3 706.8,295.6 748.8,366.6 751.3,273.7 788.3,342.4 793,351.6 730.4,194.6 784,190.7 721.9,234.6 711.8,336.7 787.1,425.1 798.1,355.8 748.7,341.4 750.5,380.5 777.3,417.3 706.8,309.1 761.2,207.5 745.4,441.6 780.8,329 790.7,263.4 723.6,169.4 787.5,215.6 737.8,297.9 720,377.6 784.8,292.6 781.3,172.3 793.2,333.7 801,207 799.9,289.5 788,268.8 737.5,270.6 718.5,380.9 708.2,244.4 800.4,317.7 765.3,281.7 809.5,384.8 781.3,243 750.1,384.9 753.4,310.2 789.3,258.2 765.6,321.3 775.5,217.1 820.3,327.2 730.5,314 780.6,452 785.3,425.4 772,321 789.6,349.5 795.8,275.4 773,194.6 782.9,264.9 829.8,247.9 765.8,264.9 773.6,283.1 758.6,378.5 712.9,337.6 723.9,355.8 769.1,399.2 769.1,250.2 782.3,269.1 795.4,336.1 803.7,325.7 761.7,390.2 805,272.6 752.5,296.4 763.8,287 729.2,294.4 828.6,266.8 793,401.2 813.7,379.7 753.1,282 788.5,198.3 747.4,427.9 740.8,287.2 784.3,299.2 751.8,288.3 807,249.7 742.3,327.7 706.6,360.6 789.1,312.9 789.4,223.7 738,324.9 829.6,317.4 797.3,213.4 831.5,328.5 785.1,353.1 725.8,348.1 788.9,229.7 768.5,357.3 777.3,347.7 787.6,462.1 773,209.1 762.2,283.1 742,208.5 819,262.2 816.3,446.2 777.3,438.7 774.2,306.6 769.5,222.5 770.3,173.3 757.4,210.3 819.4,344.8 785,277.6 816,354.5 758.8,401.4 709.4,283.9 795.5,285.1 817.9,410.8 795.9,286.4 762.5,178.8 798.5,426.2 727.3,437.6 759,185.4 741.3,355.4 825.1,347.5 730,440.1 787.4,159.1 699.2,293.8 760.2,438.9 821.7,217.9 718.9,330.4 814.2,408.1 808.4,313.2 790.1,455.1 820.1,302.8 776.6,233.3 789.8,250.7 731,257.6 747.6,280.2 791.6,277.7 716.5,344.5 789.9,306.1 823.6,280.7 746.9,356.4 744.7,421.2 789.6,263.5 800.1,300.4 725.7,299.9 762.1,370.1 788.9,423 773.5,235.9 788.9,494.4 782,299.1 786.2,401.8 765.2,353.8 820.2,435.9 763.9,317.8 786.6,310.3 768.4,89.4 788.2,105.8 789.2,118 741.2,130.3 725.9,153.7 733,189.5 718.7,203.8 706.5,222.1 695.3,234.4 667.7,282.4 683,290.5 694.2,260.9 679.9,312 696.3,305.9 791.2,104.7 791.2,117 859.6,124.7 797.4,133.3 809.6,136.4 831,147.6 836.2,167 835.1,182.3 845.3,195.6 857.6,211.9 884.1,207.9 855.5,226.2 862.7,236.4 880.1,239.5 886.2,239.5 904.6,260.9 906.6,314 836.8,461.5 823.9,489.7 841.3,493.2 802.5,501.9 810.6,503 812.7,506 782,518.7 784.5,545.8 808.6,467.2 810.6,459.1 867.8,390.7 871.9,345.7 880.1,328.4 855.5,362.1 854.5,369.2 828,428.4 841.3,422.3 701.4,466.8 709.6,479.5 709.6,485.6 723.8,462.1 724.9,484.6 733,467.2 735.1,498.9 765.7,505 779,518.3 758.1,547.9 783.1,545.8 692.2,383.5 698.3,409 708.5,410.1 709.6,420.3 718.7,436.6 746.3,500.9 767.7,473.3 784.1,473.3"/>
<polyline class="s" marker-start="url(#r)" marker-mid="url(#r)" marker-end="url(#r)" points="792.6,274.3 738.4,343.6 813.8,292 816.2,245.5 790.8,360.9 752.9,383.4 751.2,285.9 729.4,270.6 747.1,361.5 760.6,181.4 812.4,400.1 793.2,368.9 769.5,315.5 791.5,277.7 788.3,414.3 764.1,219.4 728.4,326.4 784.7,299.4 722.5,268.8 739,285.7 734.3,239.9 777.7,252.6 775.1,424.6 799,400.6 809,359.7 737.4,324.8 775.4,282 763.9,404.8 753.1,250.5 794.3,247.1 790.7,265.6 795.4,406.2 784.7,323 793.6,394 749.3,399.2 787.8,258.5 796.6,354.3 799.5,220.2 804,296.4 807.6,350.7 813.7,286.1 814.8,389.4 745.2,360.5 773.6,357.2 776.7,301.2 763.3,401.7 819.7,324 792.4,257.5 803.1,285.1 824.8,303.4 800.7,366.8 740.1,338.7 764.4,312.5 756.8,281.2 758.8,229.4 750.8,356 745.2,402.8 769.1,454.1 725.3,261.7 746.1,264.8 807.1,328.7 745.7,294.4 795.8,235.3 765.6,257.6 753.2,404.2 789.9,384.6 753,436.5 728.6,312.6 816.4,294.7 776.8,394.3 786.9,357.4 824.7,310.8 787.7,271.1 763.2,303.6 721.2,355.4 751.6,313.4 747.6,329.5 775.9,332.4 769.8,191.5 766,274.9 743.3,346.3 756.1,336.1 787,256.5 758.9,418 771.3,266.3 750.1,322.8 751.8,371.1 800.5,222.2 756.2,428.2 758.4,373 800.5,227.5 804.5,353.8 762.4,270.6 748.5,274.9 759,393 771.4,383.1 780.5,370.1 810,294.5 753.4,303.8 734,301.7 804.8,270.8 809.1,340.7 772.7,437.2 787.3,368.3 780.9,316.1 777.3,408 810.6,293.3 787.3,325.7 778.2,311.2 743.5,285.1 773.1,320.2 793.4,232 761.8,195.3 757.7,303.9 755.7,277.6 774.1,438.1 717.4,306.2 771.9,307.5 790.1,264.3 737.7,359.4 812.3,356.5 768.4,272.3 835.5,356 836.1,346 750.8,283.9 783.9,269.8 819.2,321 756.5,293.2 779.2,428.5 785.2,344.5 746.2,432.5 778.2,354.2 776.5,373.2 803.5,395.8 813.1,335 803.2,299.6 763.8,345.7 741.1,359.5 777.4,431.7 770.5,430.8 814.3,387.3 773.5,361.7 820.5,278.7 805.9,318.1 806.8,317.1 779.9,346.2 730.5,313.7 787.3,439.9 709.6,242.6 695.7,265.6 710.6,276.3 720.8,281.4 738.1,289.5 703.4,311 761.6,200.7 773.9,207.9 757.5,232.4 748.3,237.5 799.4,145 818.8,186.4 862.7,254.8 844.3,262 834.1,284.4 838.2,300.8 788.2,189.5 848.4,406 793.9,459.1 839.2,480.5 802.5,486.2 840.8,337.6 815.7,395.8 819.8,365.1 735.1,454.6 749.4,454.6 757.5,499.9 782,452.9 759.6,446.8 739.2,421.3 752.4,417.2 771.8,421.3 767.7,428.4 744.3,350.8 743.2,371.3 701.4,325.3"/>
<polyline class="s" marker-start="url(#b)" marker-mid="url(#b)" marker-end="url(#b)" points="709.4,347.9 723.3,299.5 720.2,376.9 753.5,255.9 755.8,326.6 762.8,343.1"/>
</g>
<rect x="390.5" y="23.5" width="774.0" height="581.0" fill="none" stroke="#000" stroke-width="3"/>
<path d="M467.9 604.5v-21.5M622.7 604.5v-21.5M777.5 604.5v-21.5M932.3 604.5v-21.5M1087.1 604.5v-21.5M390.5 507.7h21.5M390.5 410.8h21.5M390.5 314.0h21.5M390.5 217.2h21.5M390.5 120.3h21.5" fill="none" stroke="#000" stroke-width="3"/>
<clipPath id="cB"><rect x="1540.5" y="23.5" width="774.0" height="581.0"/></clipPath><g clip-path="url(#cB)">
<polyline class="s" marker-start="url(#k)" marker-mid="url(#k)" marker-end="url(#k)" points="1964.5,293.8 1936.8,220.7 1864.5,404.7 1853.6,291.7 1852.8,363.8 1955.3,307.9 1892,223.3 1926.8,388.3 1932.8,301.7 1913.9,402.5 1895.4,339.5 1900.7,221.5 1937.8,285.6 1946.7,344 1880.3,331.5 1874.4,264.6 1914,315.5 1936.9,381.7 1930.7,386.5 1950,341.7 1980.7,241.8 1921.8,391.5 1990.8,296.5 1953.3,239 1929.3,263.4 1890.7,381.9 1973.2,247.7 1890.1,235 1963.7,328 1933.9,239.8 1973.5,401.4 1908.7,344.6 1874.2,331.7 1907.4,337.9 1956.7,314.4 1931.9,397.5 1923.3,342 1935.9,239 1867.4,439.6 1896.6,332 1975,269.5 1919.6,338.4 1980.9,365.5 1929.7,363.3 1930.6,348 1938.2,327 1927,252.7 1947.8,278 1951.1,311.4 1922.4,247 1872,345.1 1998,200.9 1929.4,212.9 1912.3,267.4 1932.7,327.6 1902.4,387.2 1974.1,238.3 1981.2,224.6 1915,212.1 1986.9,319.8 1928.9,308.1 1935.1,308.5 1910.6,251 1996.3,323.5 1880.2,412.6 1901.4,371.8 1920.3,401.1 1976.6,324.4 1952.8,277.8 1959.9,410.4 1874.9,250.6 1888.8,383.2 1971.8,383.8 1943.4,338.4 1920.1,273.8 1954.2,295.3 1939.6,413.5 1970.7,335.9 1918.3,227.3 1912.9,323.9 1949.8,181.6 1937.6,231.2 1896.7,289.7 1902.7,256.3 1933.8,270.7 1970.1,285 1960.7,348.2 1914.5,336.8 1861.8,300.9 1890.7,342.8 1953.1,322.3 1942.9,292.7 1947.1,303.2 1910.8,263.7 1931.5,270.5 1979.7,298.5 2018.2,294.8 1909.4,286.8 1959.1,298.4 1970.4,323.1 1907.6,336.7 1941.9,304 1866.2,359 1953.6,358 1897.1,335 1989.1,247.2 1889.8,428.3 1996.5,205.1 1916.2,380.8 1882.3,413.2 2046.3,280.6 2050.6,230.7 2055,328.4 2017.5,360.5 2038,339 2028.3,328.5 2039.5,394.5 2054.7,285.1 2095.6,321.2 2048.8,269.1 2060,358.5 2063.7,325.9 2019.4,288.2 2075.8,326 2051.8,384.8 2050.1,339.1 2086,240 2076.2,325.6 2061.7,350.6 2069,317.3 2060.9,293.3 2082.7,328.2 2033.7,273.5 2093.5,311.7 2063.2,355.6 2054.8,294.1 2033.9,310.9 2049.3,307.3 2093.5,324.1 2062.2,316.2 2038.4,336.1 2054.5,404.7 2064,272.1 2084.1,377.6 2058.7,321.2 2078.4,244.1 2026.3,307.6 2069.2,374.6 2076.3,307.4 2058.8,360.9 2055,250.5 2092,321.2 2057.5,273.7 2075.3,293.4 2049.2,271.8 2055.3,269.1 2043.8,290.4 2058.8,397.7 2085.6,285 2036.3,343.8 2068.3,356.8 1874.9,62.5 1866.3,118.4 1784.6,197.2 1733,218.5 1679.5,230.7 1733.6,246.2 1800.9,236 1809.5,244.2 1823.4,249.1 1840.2,234 1867.7,221.1 1753.8,256.2 1809.5,258.9 1776.9,265 1795.2,265 1717.2,267.7 1762.6,271.6 1755.4,277.3 1635.4,253.4 1622.7,262.4 1633.9,271.1 1627.2,282.8 1558.4,283.4 1589.4,295.2 1613.1,296.7 1613.5,303.8 1615.5,313.6 1710.7,300.1 1725.8,305.9 1725.4,311 1767.1,308.3 1792.6,287.1 1792.6,302.2 1809.1,300.1 1814.6,294.6 1814.6,308.9 1823.8,285 1837.1,280.3 1823.8,299.3 1880.6,206.8 1934.1,154.4 1658.4,329.4 1702.3,332.9 1749.3,332.1 1750.3,332.9 1765.2,332.9 1784.4,337.2 1616.2,341.2 1636,343.3 1630.3,354.9 1674.8,352.9 1662.1,361 1792.2,353.9 1748.3,371.3 1733.6,377.4 1743.2,381.5 1776.9,375.7 1556.3,380.4 1656.4,394.7 1798.3,405.6 1805,410.5 1822.8,379.4 1810.5,387.6 1686.4,430.1 1789.1,428.4 1791.1,455.4 1682.3,462.1 1820.8,471.7 1544.5,499.9 1815.7,361 1844.2,480.5 1867.7,483.6 1852.4,450.9 2102.9,88 2112.7,96 2132.6,118 2070.3,164.4 2238.3,165 2037.6,184.4 2065.2,181.3 2076,181.3 2085.6,181.9 2115.4,176.8 2150.1,195 2077,199.3 2127,202.1 2102.5,208.3 2185.2,205.4 2265.9,209.9 2144.4,214.4 2070.5,217.7 2103.6,224.8 2126,224.8 2131.1,229.3 2135.2,232.4 2151.5,229.7 2093.3,231.3 2053.5,231.7 2073.5,237 2163.4,237 2177.1,247.1 2114.8,241.5 2121.9,247.1 2090.3,245.6 2100.5,251.8 2054.6,245.6 2070.9,245.6 2070.9,252.8 2116.2,256.9 2099.5,258.9 2142.8,265 2072.9,265 2077,269.1 2095.4,268.1 2112.7,273.2 2116.8,273.2 2135.6,275.2 2174,277.7 2257.3,270.1 2064.8,273.2 2099.5,275.2 2054.6,274.2 2074,287.5 2095.4,287.5 2089.3,292.6 2117.9,294.6 2132.1,295.2 2141.3,291.6 2156.6,298.7 2188.9,296.1 2237.9,297.1 2278.1,299.7 2070.9,299.7 2093.3,299.7 2103.6,305.9 2066.8,308.9 2091.3,308.9 2077,317.1 2105.6,316.1 2132.1,319.1 2232.2,319.1 2272,318.1 2042.3,314 2028,207.9 2005.5,179.3 2049.4,208.9 2044.3,270.1 2132.1,322.7 2135.2,326.3 2142.4,332.9 2131.1,341 2110.7,337.6 2167.9,329.4 2180.7,327.4 2232.2,321.8 2231.2,326.3 2271.4,320.2 2301.6,340.6 2100.5,349.8 2116.8,350.4 2190.7,358.6 2225.7,361.7 2105.2,370.6 2168.9,379 2197.5,379 2160.3,404.3 2081.5,409 2075.4,419.6 2099.5,416.2 2111.1,420.3 2044.3,412.1 2036.2,399.4 2012.1,407 2005.5,414.5 2014.7,414.1 2015.1,433.9 2044.3,433.5 1999.4,446.8 2043.9,458.6 2074,479.9 2014.7,328.4 2032.1,324.3 2060.7,328.4 2072.9,322.3 2082.1,326.3 2093.3,322.3 2017.8,352.9 2028,361 2041.3,350.8 2052.5,340.6 2064.8,350.8 2077,354.9 2089.3,359 2044.3,369.2 2060.7,373.3 2075,375.3 2072.9,381.5 2060.7,384.5 2050.5,387.6 2019.8,377.4 2001.5,389.6 1997.4,387.6 2017.8,365.1 2036.2,340.6 2048.4,361 2064.8,340.6 2081.1,340.6 2088.2,348.8 2054.6,381.5 2077,371.3 2022.9,336.5 2056.6,332.5 2070.9,334.5 2044.3,342.7 2026,346.8 2058.6,359 2070.9,365.1 2034.1,371.3 2011.7,369.2 2083.1,332.5 2050.5,350.8 2066.8,377.4 2081.1,363.1 2036.2,357 2028,334.5"/>
<polyline class="s" marker-start="url(#g)" marker-mid="url(#g)" marker-end="url(#g)" points="1915.1,308.9 1949.1,325.8 1946.3,281.7 1903.2,322.5 1931.4,220.5 1897.3,256.7 1902.6,193.7 1949.1,197.1 1933.9,285.3 1959.5,334.4 1895.8,405.6 1884.6,317.4 1938.8,316 1906.3,213 1963.1,377.1 1940.3,278.6 1910.1,362.4 1944.6,360.2 1874.1,373 1937.2,261.3 1937,291.4 1897.7,360 1904,307.4 1952.3,347.5 1922.6,303.7 1919.9,374.4 1968.1,388.1 1874.3,224 1969.4,291.3 1940.4,313 1937.3,317.7 1976,338.4 1879.1,353.4 1915.4,274.5 1823.6,400 1905.4,187.7 1917.1,370.2 1893.6,233.1 1927.4,350.2 1894.2,300.7 1928.4,312 1949.8,296.5 1928.8,314 1939.4,342.6 1873.1,314.2 1978.1,183.3 1931.4,343.8 1897.8,418 1903.1,440.2 1908.3,406.6 1939,479.5 1958,267.3 1975.8,256.6 1952.1,286 1949.8,418.5 1878.2,334.2 1926.6,304.4 1998.3,285.5 1911.7,240.3 1894.5,283.9 1899.6,310.9 1893.5,237.8 1976.4,252.2 1899.6,287.3 1895.5,352.3 1914.3,188.1 1978,294.5 1940.6,414.2 1928.2,294.8 1911.8,293.5 1846.5,368 1932.3,286.1 1906.6,256.5 1956.4,268.3 1903.6,260 1870.7,308.7 1824.7,281.2 1922.7,199.4 1882.9,379.5 1944.2,224.2 1873.2,324.5 1868.9,423.5 1896.6,314.6 1939.7,265.7 1917.6,419.6 1894.7,426.8 1947.5,284.2 1943.4,373.4 1909.5,300.3 1970.1,384 1917.5,366.8 1937.3,377.9 1866.6,305.8 1992,309.4 1944.4,368 1917.8,169.3 1958,290.3 1897.7,376.3 1923.5,360.7 1946.2,380.4 1963,216.2 1989,393.3 1961.5,327.3 1870.4,243.5 1855.2,408.1 1856.1,424.7 1898.4,300 1870.1,245.3 1969.4,379.8 1869.2,371 1993.1,256.3 1886.4,329.3 1926.7,330.9 1848.3,378.4 1974.2,272.8 1922.4,461.2 1964.9,230.3 1955.2,375.6 1934.1,267 1982.3,365.1 1929,222.1 1940.6,230.4 1914.3,352.3 1850.5,293.4 1841.8,393.8 1899.1,272.9 1919.6,249.7 1883,414.2 1882.1,446.5 1874.2,286.6 1975.1,409.1 1914.7,418.1 1865.5,395.9 1864.2,384.4 1923.7,281.8 1892.1,247.2 1883.7,292.7 1846.3,354 1917.4,312.5 1973.9,298.1 1905.7,346.4 1893.5,232 1950.2,393.1 1910.1,218.1 1862.1,254.1 1930.7,481.2 1909.6,208 1920.8,304.6 1867.7,285.8 1925.1,381.3 1920.2,231.8 1920.4,147.9 1915.6,255.2 1919.3,170.1 1952.5,341.3 1931.8,323.5 1962.8,467.6 1838.9,312 1942.2,387.1 1938.1,396 1951.6,311.2 1871.8,339.1 1881.7,379.3 1859.7,362.3 1992.9,221.4 1885.6,330.4 1942.5,260.6 1945.8,380.9 1897.8,339.5 1913.5,346.1 1887,226 1906.1,371.4 1999.7,225.1 1855.2,341.8 1924.4,250.5 1930.5,391.7 1877.6,360.9 1944.3,202.2 1912.2,239.6 1970,412.2 1881.9,234.4 1889,259 1977.1,277.2 1986.7,263.2 1920.7,319.4 1953.2,237 1887.9,335.5 1888.2,353 1892.6,283.8 1922.8,457.6 1901,418.1 1842,356.5 1933.7,296.1 1947.9,262 1846.3,412 1969,211.9 1911.2,246.5 1894.1,321.5 1951.1,421.8 1952.5,332.7 1912,340.8 1957.9,339.3 1886.1,444.2 1915.4,213.1 1999.2,342.8 1904.6,355.4 1860,433.5 1937.8,412.5 1973.1,451.8 1877.6,349.2 1905,288 1908.2,338.8 1980.4,357.4 1897.2,369.9 1950.1,306.3 1970.6,277 1877.9,357.6 1933.9,348.2 1877.2,298.8 1925.3,324.3 1869,336.3 1956.6,420.8 1879.6,261 1975.2,366.4 1872.5,174.4 1928,359.2 1956.3,357.1 1909.4,365.5 1929.9,256.6 1976.4,327.9 1913.2,378.3 1958.7,287.4 1828.2,278.1 1946.5,210.1 1981,195.7 1901.4,331.2 1856.2,391.1 1857,359.2 1854.8,411.1 1919.3,365 1942.9,320 1985.7,223.9 1914.1,192.3 1934.6,321.8 1952.3,263.6 1949.8,189.9 1949.6,410.3 1928.6,387.9 1935.8,298.2 1940.3,367.7 1876.3,297.4 1918.4,382.4 1959.9,329.9 1859.8,310.8 1862.3,216.8 1916.1,324.2 1900.6,278.1 1971.8,326.8 1922,198.3 1912.7,363.1 1867.6,291.8 1840.3,294.7 1871.6,386.2 1929.6,389 1983.8,305 1986.1,254.7 1901.4,388.9 1934.2,304.4 1906.6,301.9 1973.8,347.1 1954.4,320 1905.7,383.9 1984.6,311 1872.1,305 1933.9,231.6 1948.5,322.3 1836,241.8 1937.5,424.9 1978.5,289.6 1921.7,368.8 1872,254.2 1944.9,286.5 1885.6,334.2 1928.7,197.7 1968.3,453.2 1913.1,264.6 1982.9,210.8 1951.6,355.5 1965.4,339.2 1948.9,329.1 1955.2,329.2 1922,229 1956.1,387.5 1912.2,354.2 1922.4,286.1 1871.3,240.6 1960.3,352.3 1977.6,329.8 1858.3,333.8 1873.6,417.9 1876.9,272.3 1967.9,277.3 1948.9,281.8 1928.5,312.3 1913.5,260.8 1870.9,450.1 1927.4,322.2 1973.8,209.5 1916.5,285.5 1968.3,246.3 1954.1,413 1972.5,309.9 1839.9,362.5 1841,384 1976.9,411.4 1876,363 1930.6,327 1902.1,220.8 1913.7,397.5 1970.2,299.2 1952.9,314.5 1934,279.9 1960,288.6 1866,347.8 1937.4,348.7 1965.6,237.9 1852.7,280.9 1917.6,300.9 1989.9,371.5 1953,213.6 1954.2,436.9 1862.8,274.3 1922.8,203.7 1944.5,303.1 1929.2,233.2 1872.6,286.5 1860.3,294.7 1951.4,168.6 1960.5,327.4 1921.8,349.2 1969.8,261.3 1870.2,302.6 1975.1,307 1971.2,185.8 1904.1,221.9 1933.2,265.4 1954.6,276.7 1878.5,345.4 1878,385.1 1924.8,366 1967.5,199.4 1838.1,352.3 1878.7,340.4 1919.4,406.8 1825.7,402.7 1875.6,348.4 1919.4,390.1 1911.6,246.1 1926.4,412.5 1918.2,235.8 1995.1,357.6 1891.8,469.7 1924.1,312.1 1968.3,324.2 1944.3,266.2 1896.8,394.6 1931,290.7 1980.7,209.4 1954,220.4 1958.5,256 1888.8,201.7 1928.5,394.8 1993.7,327.1 1913.9,387.8 1934.5,209.7 1934.2,344.4 1950.3,291.6 1908.2,351.4 1869.7,191.2 1916.2,438.3 1896.7,328.7 1968.8,260.2 1873.9,382.4 1914.7,315.1 1965.9,174.7 1913.6,406.8 1881.4,391.1 1896.8,408.9 1904.9,349.3 1916.9,159.8 1907.6,282.4 1980,393.4 1996.6,369.4 1944,281.1 1988.3,278.2 1896.7,344.7 1976.4,338.9 1889.2,263.9 1937.4,330 1896.6,309.7 1924.9,284.7 1894.9,327.7 1966.3,200.2 1923.4,228.8 1949.7,177.9 1959.1,374.6 1860.1,312.9 1896,371 1989.7,411.1 1938.7,383 1918.9,327.3 1901.6,351.7 1961.3,317.2 1916.3,289.9 1910.9,346.1 1895.2,295.4 1913.4,323.1 2004.3,249.7 1852.6,385.8 1882.1,314.6 1846.8,318.9 1927.7,187.8 1919.7,383.8 1946.9,226.3 1883.2,242.8 1981.4,306.7 1898,337.1 1863.4,366.4 1953.6,423.9 1946.7,247 1958.7,343.7 1900.9,402.5 1954.4,335.1 1872.9,329.4 1858.5,321.7 2003,263.8 1851.3,303.4 1948.5,362.2 1898.3,289 1925,323.6 1891.1,451.3 1924.9,439 1877.8,210.8 1843.9,233.9 1856.3,422.1 1899.5,390.1 1922.3,407.4 1862.5,321.6 1849.9,291.7 1947.9,219 1881.2,216.2 1974.4,234.7 1879.2,203 2008.6,313.9 1905.8,391.2 1962.4,337.9 1884.2,342.7 1947,246.6 1933.3,360.9 1896,237.8 1926.5,441 1870.4,354.1 1921.6,320.7 1960.3,167.2 1871.3,363.6 1978,257.6 1938.8,287.6 1942,387 1969.4,431.3 1994.9,265.3 1930.3,204.9 1913.6,270.8 1920.7,248.5 1989.5,334.8 1861.2,353.3 1897.9,307.8 1894.3,335 1929,421.2 1874.2,259.6 1901.9,325.1 1931.7,365.1 1961.6,355.6 1901.9,298.8 1994.6,402 1895.7,305.9 1999,303.2 1915.5,205 1937.1,380.6 1931.1,265.4 1999.1,318.5 1874.9,365.7 1978.7,254.8 1898,383.7 1853.6,281 1848.4,256.2 1948,415.7 1932.6,323.7 1962.3,262.4 1909.4,383.1 1905.3,291.9 1977.8,266.5 1932.6,342 1926.1,349.6 1945.2,334.2 1902.2,372.6 1989.5,290.3 1905.2,477 1884,333.2 1873,474.3 1948.5,278.3 1890.8,346.8 1882.3,375.8 1873.4,337.2 1977.7,354.7 1903.1,382.8 1931.6,450.3 1969.1,249.2 1904.1,273.7 1967,229.4 1896.1,352.5 1902.5,354 1909.2,295.3 1957.6,323.5 1875,264.5 1893.4,155.8 1971.8,270.5 1919.1,327 1885.4,282.3 1972.7,330.5 1901.3,266.1 1952.5,302.3 1934,259.9 1884.2,337.2 1883,291.8 1945.3,227.6 1930.8,235.6 1877.3,312.1 1901.5,382.8 1930,281.1 1980.2,292.9 1860.2,216.5 1884,293.5 1929.5,309.6 1919.8,337.1 1864.9,269.5 1993.4,308.6 1971.6,145.7 1892.2,298.3 1910.6,123.1 1850.4,135.4 1915.7,142.5 1866.3,196.6 1894.3,181.3 1885.1,191.1 1907.5,148.6 1911.6,166 1841.2,273.2 1854.4,242.6 1826.9,343.7 1815.7,403.9 1821.8,436.6 1848.3,467.2 1854.4,496.8 1895.3,490.7 1917.7,497.9 1921.8,496.8 1873.8,524 1891.2,475.4 1913.7,473.3 1846.3,484.6 1975.3,90 1954.5,140.5 2021.9,204.8 2038.2,228.3 2031.1,271.1 1935.1,151.7 1987.2,406 1968.8,440.7 1979,462.1 1987.2,461.1 1939.2,468.2 1970.8,395.8 1950.4,446.8"/>
<polyline class="s" marker-start="url(#r)" marker-mid="url(#r)" marker-end="url(#r)" points="1994.4,250.5 1947.2,170.9 1935.3,309.3 1930.6,282 1944.4,253 1955,335.6 1865.6,410.3 1990.8,320.1 1892.3,226.5 1912.7,385.9 1928.3,252.8 1990.8,336 1946.7,316.8 1947.9,212 1874.8,269.6 1975.4,319.3 1982.9,215.4 1945.3,202 1882.4,317.8 1943.9,339.7 1949.6,297 1966.1,427.8 1949.1,348.9 1978.6,167.7 1909.4,299.4 1953.8,232 1963.9,237.9 1952.9,358.5 1884.8,234 1837.3,383.5 1973.3,382.8 1978.6,368.9 1965.6,340.6 1869.1,295.3 1974.7,413.7 1974.9,332.6 1927,317.4 1875.8,381.3 1971.3,281.9 1917.2,310 1971.2,391 2002.7,357.7 1932.5,168 1863.7,302 1998.1,213.8 1882.9,205.2 2002.3,256.2 1897.4,332 1880.5,285.1 1925.9,251.1 1970.2,367.8 1928.6,136.3 1928.8,250.8 2008.3,258.9 1954.2,252.4 1973.6,276.3 1996.8,233.6 1933.7,275.1 1893.3,227.4 1928.5,389.1 2001,245.9 1982.6,286.7 1963.3,280.8 1995.6,286.8 2012.2,224.6 1925.3,338.6 1896.9,244.4 1942.1,288.9 1952.9,261 1882.2,361.9 1905.6,277.2 1915.1,221.2 1880.8,306.9 1893.9,300.2 1941.2,260 1905,254.6 1935.9,206.8 1884.7,336.2 1849.3,324.6 1977.8,304.4 1879.5,298.2 1923.8,335.4 1939.6,174.5 1947.2,349.8 1888.6,367.9 1900.9,378.3 1969.7,151.4 1867.4,278.9 1931.9,304.6 2000.4,200.4 1893.5,333 1924.6,326.6 1928.1,292.4 1884.8,398.6 1911.1,287.3 1917.3,336.4 1983,389.4 1985.8,275.3 1941.7,237.4 1923.3,396.9 1963.5,232.3 1925.5,361.9 1996.3,181.7 1958.6,235 1920.2,386.4 1903.7,315.2 1926.3,251 1975.7,219.3 1905.9,252.8 1890.1,213.1 1941.7,304.1 1895.8,145.3 1890.1,368.1 1961.5,366.1 1968.3,320.6 1939.9,239.9 1916.1,399.5 1900,229.3 1883.8,220.5 1974.8,396.7 1867.1,279.4 1910.7,283.1 1938.7,322.9 1962.5,243.3 1932.6,283.8 1936.9,254.3 1856.3,282.1 1931.8,388.3 1885.4,393.4 1944.5,379.9 1933.6,232.8 1984.4,200.9 1968,320.5 1910.4,357.7 1985.5,403.6 1854.2,303.5 1956.1,258.1 1935.5,250.7 1920.7,402 1862.2,230.2 1904.1,304.2 1878.2,265.7 1895.9,338.8 1848.5,319.9 1933.4,226.1 1899.2,363 1838.4,324.7 1852.2,249.3 1914.1,358.3 1941.7,226 1979.3,328.5 1963.8,223 1950.4,221.8 2001.6,195.9 1984.9,228.1 1983.1,335.4 2001.6,208.1 1992.3,308.3 1917.4,439.5 1877.2,299.8 1984.1,186.8 1928.7,345.1 1934.9,297.1 1893.7,251.7 1969.8,376.6 1944.8,334.1 1946.6,425.2 1935.8,413.9 1903.8,231 1953.4,328.1 1960.9,407.1 1920.7,325.8 1909.8,366.8 1913.5,286.8 1862.3,222.2 1997.4,283.5 1974.6,308.3 1938,411.1 1884.3,285.6 1951.7,268 1879.7,290.2 1856.2,283.5 1929.2,376.2 1988.5,272.5 1907.9,298.8 1925.1,378.1 1989.8,308.2 1939.3,227.1 1893.4,347.3 1911.8,331.4 1932.1,225 1903.6,264.5 1882.6,394.9 1998.4,352.3 1896,181.1 1933.4,362.5 1879.9,369.5 1925.6,222.9 1896.6,380.2 1973.9,225.8 1902.8,337.3 1988.4,285.8 1924.5,235.2 1940.5,230.5 1865.7,282.3 1992,373.3 1982.2,215.9 1927.8,294.7 1911.2,315.9 1886.7,354.1 1971.2,209.4 1912.4,277.7 1866.4,272.4 1920.1,415.9 1876.3,393.3 1919.4,272.5 1937.5,338.3 1956.4,358.2 1865.6,325.5 1942.9,306.8 1928.2,248.8 1949.2,201.4 1964.1,190.2 1905.6,311.1 1942.7,144 1854.7,304.9 1857.7,376.8 1967.6,259.1 1935.6,329.6 1955.7,212.3 1980,317.9 1869.9,336.5 1877.5,367.5 1899.9,418.3 1939,326.7 1949.6,236.8 1939,322 1900.6,225.9 1915.7,274.9 1953.7,281.3 1888.9,205.2 1934.3,203.2 1889.2,236.3 1979.1,348.1 1884.8,369.7 1864.3,339.4 1911.9,251.9 1901.4,332.7 1894.2,255.9 1920.6,328.9 1904.1,392.4 1906.5,378.6 1958.8,194.1 1873.9,269.9 1871.3,423.8 1908.3,359.1 1884,262.3 1888.6,244.3 1991.3,212.4 1930.4,288.5 1906,259.7 1897.6,243.8 1935.7,257.2 1997.6,196.4 1911.4,260.7 1996.6,213.6 1964.1,277.6 1955.7,381 1896.1,306.6 1956,243.2 1913.7,299.3 1911.6,264 1971.4,233.7 1833.8,313.6 1866,232.3 1956.1,147.6 1936.1,269.7 1914.8,291.4 1931.3,336.4 1864.4,342.2 1929.5,382.9 1933.2,267 1966.7,349.4 1906.1,264.9 1871.6,308.7 1922.3,450.9 1906,200.9 1956.6,356.1 1947.1,224.8 1988.4,261.4 1860.9,303.3 1928.2,321.8 1888.2,187.4 1940.4,253.6 1953,292 1929.6,360.9 1929.4,334.3 1925.4,369.7 1944.9,301.8 1941.4,173.3 1895.1,177.4 1900.3,327.8 1968.7,348.5 1903.6,356.9 1856.8,307.9 1898.4,369.6 1978.6,291.9 1859.2,247.2 1907.5,271.2 1935.4,362.1 1976.2,299.6 1960.8,274.5 2020.6,354.9 1888.5,323.9 1895.1,173.1 2002.7,278.7 1962.7,231.1 1918.8,290.4 1872.9,314.1 1981.7,367.2 1850.7,292.9 1911.2,343.9 1938.7,251.4 1998.9,347.2 1924.5,350.3 1907.2,347.6 1904.6,240.7 1961,269.6 1904.8,298 2010.4,249.3 1901.9,304.4 2004,371.6 1894.4,331.3 1979.1,327.6 1957.1,165.6 1908,302.3 1894,340 1902.4,219.7 1871.3,275.1 1928.8,350.8 1896.3,372.6 1905.4,195 1900.5,468.4 1880.9,194.8 1855.4,239.4 1960.2,369.6 1969.8,290 1912,262.2 1855,368.8 1925.3,262.4 1908.5,300.4 1913,305.2 1895.4,347.4 1970.8,367.1 1905.3,365.4 1955.6,301.9 1878.8,340.9 1958.7,418.7 1870.6,219.7 1944.1,237 1948.4,381.3 2004.2,221.8 1927.9,298.3 1881.9,322 1877.5,410.5 1967.4,336.5 1970.8,308.5 1932.1,354.8 1930.7,252.2 1887,395 1953,311.4 1962.4,307.4 1852.4,424.1 1941.6,143.5 1877.9,314 1945.8,247.6 1936.6,251.7 1927.8,345.2 1902.2,281.7 1991.1,268.2 1909.2,386.4 2005.8,261.6 1938.5,224.8 1932.4,244.2 1927,400.7 1884.6,251.5 1906.8,168.7 1876.3,231.6 1953.2,330.3 1947.7,296.3 1950.4,402.3 1902.9,293 1959.1,375.3 1913.9,281 1889.1,316.5 1915.4,201.2 2020.4,255.9 1874.1,284.5 1889,253.9 1924.4,288.5 1932.1,286.9 1923.9,365 1889,375.5 1891.8,280.8 1861.6,358 1948.5,217.7 1892.9,395.3 1933.4,296.5 1945.8,341.1 1917.4,239.3 1935.5,305.9 1892.5,376.9 1902.6,240 1862.3,316 1887.4,416.8 1949.5,365.7 1962.3,342 1840.4,320.6 1869.3,360.3 1982.2,362.2 1880.5,279.8 1939.4,275.2 1934.7,430.5 2009.7,327.3 1843.8,310.4 1879.2,275.2 1963.3,391.4 1937.5,351.8 1954.6,189.5 1942.4,282.4 1898.9,219.1 1962,161.4 1910.5,346.7 1900.8,383.8 1953.2,289.2 1930.4,274.4 1996,205.1 1921.8,357.7 1881,266.6 1986.3,233.2 1945.2,240.6 1885,394 1953,377.6 1956,276.2 1902.6,275.6 1887.9,233 1933.5,292.6 1925.7,254.4 1892.7,305.1 1920.3,292 1903.1,348.8 1946.5,315.2 1969.8,194.8 1984.9,305.3 1956.3,310.1 1929.4,307.4 1913.6,310.7 1946.2,352.8 1903.1,421.8 1942.1,257.7 1936.1,439.8 1981.6,352.9 1901.1,300.8 1925.6,308.9 1887.8,231.7 1903.2,294.4 1991.6,271.9 1996,334.4 1982.8,251.9 1919,326.3 1907.4,230.8 1965.5,258.8 1927,390.8 1851.7,327.2 1908.7,250.4 1981.4,358.9 2035,318.9 1955.5,209.5 1915.4,387.1 1898.7,253.3 1963.6,286.8 1952,282.2 1923.7,357.3 1927.1,315.6 1848.6,287.7 1926.3,383.4 1935.9,260.9 1911.3,215.3 1919.6,207.3 1973.1,250.3 1968.5,419.6 1968.8,238.1 1920,165.7 1949.2,333.8 1901.5,382.7 1928.2,326.2 1920.5,305.5 1926.3,393.6 1984.6,279.1 1876,239.2 1926.9,309.2 1857.5,381.6 1868.5,225.2 1923.9,432.6 1954.4,178 1862.8,308.7 1929,323.7 1921.4,261.7 1917.6,379.9 1934.9,418.2 2005,320.6 1908.1,337.6 1939.5,232.9 1910.5,287.5 2011.3,295.5 1909.9,365.5 1967.7,219 1932.2,445.7 1896.5,293.3 2019.6,263.5 1899,305.5 1958.3,247.7 1879.9,323.2 1933,452.8 1950.1,353.9 1991.8,208 1872.7,312.2 1950.3,319 2022,209.9 1967,287.7 1914.1,339.6 1940.5,374 1967,196.4 1886.9,239.1 1999.4,184.5 1912.2,377.4 2000.7,339.7 1959.8,344.7 1938.8,178 1969.3,358.2 1887.4,331.4 1926.6,283 1952.6,244.9 1887.9,225.4 1911.5,224.2 1918.9,378.5 1868.8,238.9 1879.7,281.8 1993.6,341.9 1910.5,197.2 2002.4,285.3 1953.3,438.7 1949,302 1897,284.8 1934.3,257.3 1981.9,273.7 1884.8,337.6 1992.8,241.3 1922.3,288.4 1921.6,313.9 1922.6,163.9 1967.4,374.2 1945.9,381.6 1909.4,302.5 1980.8,232.3 1965.6,271.9 1999.7,334.8 1924.2,251.9 1952.1,434.2 1939.4,294.6 1993.8,265.5 1984.3,358.6 1905.2,395.5 1932.8,317.6 1937.1,303 1874.9,346.1 1920.1,327 1977.2,178.5 1961.4,220.8 1939.3,385.9 1884.5,290.2 1954.4,293 1921.2,277.4 1904.2,336.5 1885.3,377.7 1978.8,338.2 1949.6,299.8 1926.6,326.7 1909.1,236.1 1986.5,379.8 1896.4,362.4 1963.6,325.9 1914.3,187.2 1897.8,208.7 1943.3,238.8 1898.4,308.2 1916.6,245.1 1889.2,178.6 1854.8,319.5 1956.8,243.6 1902.9,411.1 1934.9,325.8 1862.7,336.3 1938.7,237.8 1882.7,329.6 1873.7,382 1900.5,377.5 1952.4,331.5 1903.6,334.6 1905.4,356.1 1850.2,338.1 1905.7,269 1951.8,334.5 1953.2,275.3 1970.4,206 1929.1,302.6 1902.9,315.5 1859.6,306.1 1963.9,274.3 1892.2,366 1881.2,344.1 1893.2,282.5 1896.1,207.4 1923.4,265.6 1990.1,240.9 1950.4,358.7 1850.6,321.4 1931.4,460.8 1945.4,167.3 1923.5,465 1974.5,289.8 2009.6,231.7 1940.1,315.1 1911.1,210.3 1938.5,275.6 1975.6,377.2 1931.1,362.2 1916.7,247.4 1920.5,295.8 2011.5,227 1905.1,333 1940.5,279.3 1926.5,362.4 1925.5,207.2 1938.6,343.7 1988.1,306.3 1962.5,237.4 1935.9,237.8 1937.7,283.4 1954,276.5 1869.9,270.9 1853.2,323.6 1861,288.6 1917.6,331.2 1945.2,230.8 1895.7,384 1947.4,301.3 1955.3,393.6 1945.6,364 1970.2,424.5 1920.2,293.2 1864.4,239.6 2000.2,278 1940.5,440.5 1964.7,154.7 1943,201.2 1918.7,368 1942.6,184.7 1972.6,286.6 1858.2,218.4 1893.8,319.7 1978.6,270.1 1871.6,287.2 1913.2,230.9 1859.1,342.6 1876.8,281.7 1943.5,224.1 1916.1,428.8 1883.7,469.2 2016.6,294.6 1876.3,357 1901,321.2 1897.6,366.2 1946.2,340.8 1989.5,305.4 1958.7,416.8 1933.6,299.8 1894.4,176.5 1975.2,341.7 1874.3,369.7 1867.2,253.9 1846.4,259.8 1881,294.8 1971.5,307.7 1963.3,271.8 1947.7,233.2 1931,269.3 1960.4,222.8 1927.4,252.2 1978,257.6 2014.1,269.1 1894.8,365.9 1883.5,462.2 1926.6,360.8 1868.4,251.7 1974.4,209.4 1906.8,249.4 1916.1,183.1 1935.4,315.2 1931.1,334.7 2019,313.4 1923.2,213.9 1938.5,342.8 1950.2,235.1 1946.9,280.3 1897,383.5 1933.9,309.9 1882.4,335.4 2001.5,338.3 1915.3,364.3 1955.3,283.8 1906.3,255.7 1989.2,241.3 1933.1,361 1961.6,287.9 1953.5,244.1 1955.1,364.9 1951,412.6 1940.4,332.4 1959.8,182.7 1970.4,245.3 1859.6,266.4 1968,282.8 1896.6,215 1966.7,299.9 1980.1,234.9 1909,295.1 1930.8,320.8 1935.9,294.9 1955.8,353.2 1958.5,338.9 1960.2,319.3 1909.4,282.3 1907.1,436.7 1886.7,408.9 1928.4,211.8 1965.1,209.3 1951.2,345.7 1962.4,318 1926.8,408.9 1911.1,252.6 1896.8,312.6 1953,232.9 1859.4,370 1910.2,407.9 1957.1,339.4 1900.1,253.2 1925.3,441.7 1955.1,384.8 1851.5,409.8 1883.8,373.6 1845.6,309.9 1896.5,331 1876.4,468.3 1951.9,246.9 1972.6,272.9 1893.5,228.5 2022.4,245.7 1884.5,296 1923.1,202.1 1993.8,220 1964.6,251.3 1993.4,300.3 1908.4,200.2 1878.2,196.3 1868.5,348.7 1980.4,349.7 1913.2,191.3 1945,324.4 1957.4,314 1928.7,393.9 2020.2,213.9 1938.1,294.8 1909.9,352.3 1973.7,348.9 1851.5,342.6 1955.6,375.8 1859.4,340.4 1908.4,329.5 1877.3,276.3 1975.3,257.8 1908.2,302.6 1886.2,283.2 1940.2,220.3 2017.7,226.8 1884.8,212.9 1967.5,369.2 1981.4,320.3 1939,240.2 1934.2,404.8 1934.3,233.4 1940.9,245.5 2003.8,311.9 1874,229.9 1922,301.8 1967.8,245.2 1880.3,339.7 1901.9,250.9 1891.4,335.9 1920,359.2 1949.3,356.9 1898.5,347.1 1951.9,216.9 1917,179.7 1906.5,321.7 1915.6,296.6 1981.6,241.3 1972.8,333.5 1981.6,261.9 1882.6,297.6 1975.9,384.9 1923.2,341.9 1881.5,251.2 1922.8,383.4 1912.6,301.8 2002.7,362 1922.7,183.4 1964.2,336 1898.1,334.6 1899.5,261.8 1885.8,226.6 1976.4,292 1930.7,328.5 1922.2,293.6 1864.7,266.3 1916.9,239 1886.8,301 1900.2,390.9 1853.1,317.2 1946.4,253.4 1996.6,299 1923.2,271.9 1920.3,318.3 2029.2,309.8 1899,399.5 1881,344.5 1868,354.3 1888,355.9 1949.6,278.7 1896.2,311.4 1903.2,367.4 1906.5,339.1 1900.5,374.2 1986.8,249.6 1974.5,269 1907.8,317.3 1904.4,329.7 1957.4,292.5 1979,320.1 1895.6,297.6 1893.9,310.8 1941.4,322.3 1858.2,355 1963.7,318.7 1955.6,259.6 1940.3,335.3 1945.8,401.4 1971.7,371.5 1873.9,362 1985.2,244.2 1969.6,362 1876.6,335.5 1899.8,350.8 2006.7,273.9 1873.9,359.3 1973.1,353.3 1904.2,176.1 1984.8,244.7 1972.3,206.9 1955.1,209.6 1973,198.7 1906.4,187.5 1973.2,355.9 1913.7,279 1876.1,275.7 1921.5,305 1963.3,298 1949.3,280.1 1998.3,257.4 2012.1,296.1 1936.2,247.8 1901.6,329.5 1886.1,288.4 1981.4,270.3 1908.4,294.8 1891.5,305.4 1887.3,261.6 1939.2,413 1885.8,383.1 1867.7,349.2 1901.6,330.8 1953.1,337.4 1939.5,352.6 2006.7,256.2 1964.4,223.8 1941.8,345.4 1960.5,291.9 1910.3,322.2 1842.8,277.6 1864.3,401.8 1946.4,264.6 1931.3,421.2 1967,251.5 1936.3,259.5 1978.9,323.5 1865,320.6 1924.8,203.4 1937.2,229 1992.2,214 1896.9,352 1874.1,334.7 1885.7,305.6 1961.5,254.8 1898.4,223.3 1882.7,334.1 1937.7,181.6 1938.6,298.5 1916.5,267 1953,284 1924.1,265.5 1853.4,349.7 1828.3,301.6 1953.4,361.3 1902.1,300.1 1963.7,402.9 1880.6,369.7 1939.1,202.4 1866.8,389 1919,322.8 1931.7,198.1 1946.5,439.2 1897.2,351.1 1913.7,227.9 1914.6,328 1918.2,417.7 1921.1,247.5 1959,316 1931.7,310 1979,319.2 1959.5,309.3 1952.6,310.4 1995.9,246.8 1850.9,300.5 2005.8,311 1904.9,186.3 1840.4,312.8 1984.4,306.9 1976.9,289.2 1921.2,349.4 1912.4,323.7 1934.5,188.7 1997.8,381.9 1930.4,211.4 1944.8,288.8 1886.8,282.1 1921.6,275.6 1912.2,268.8 1932.1,394.6 1894.1,300.2 1896.6,386.2 1878.8,269.4 1981.7,293.3 1920.5,222.9 1947.9,289.6 1908.2,345.8 1966.4,285.8 1940.1,387.2 2016.4,276.8 1947,331 1968.4,424.4 1947.2,270.4 1936.4,215.2 1989.6,329.7 1910.3,430.5 1921.6,366.8 1920.5,360.1 1908.2,239.9 1869.9,322.8 1931.7,335.6 1935.3,187.1 1873.2,216.8 1950.7,394.2 1880.5,386.3 1951.4,354.6 1892.3,344.5 1954.3,302.6 1905.7,199.8 1878.6,311.9 1985.5,300.3 1922.5,332.8 1940.5,297.4 1912,349.2 1945.3,320.4 1962.1,259.9 1850.9,310.8 1937.6,384.8 1860.4,352.7 1918,219 1918.3,227.8 1909.7,244.8 1922.6,308.9 1953.6,308.2 1959,288.5 1878.4,316.4 1870.8,344.9 1868,378 1951.1,298.8 1983.7,351.5 1932.6,259.3 1852,304.1 1924.8,295.9 1892.7,289.9 1900.4,237.6 1935.6,150.4 1900.7,222.6 1905.1,314.4 2001.4,343.8 1962.1,295.8 1979.3,310 1879.6,212.7 1877.5,244.9 1902.5,358 1988.8,306.7 1879.1,289.7 1916.3,143.5 1957.8,299.8 1957,340.8 1827.2,382.5 1867.8,349.5 1913.7,358.9 1961.4,359.9 1936.5,318.6 1880.8,343.5 1945.8,276.9 1969.5,313 1881.4,308.8 1907.3,336.4 1970.9,384.5 1981.7,302.6 1853.9,343 1908.2,277.4 1897.5,277.1 1929.3,318.9 1969.4,192.9 1872.1,331.8 1855.4,250.5 1898.3,279.4 1916.4,442.3 1861.1,257.7 1938.5,424.3 1918.5,331.3 1876.1,275.8 1893.7,386.3 1902.9,305.2 1893.6,268.5 1886.1,252.4 1940.5,242.8 1959.5,394.6 1881.8,329.8 1867.5,234.7 1916.6,219.9 1956.4,308.4 1899.1,401.8 1905.7,237.2 1957.2,268.5 1905.3,318.5 1880.1,304.2 1934.4,310.3 1849.6,301.9 1905.3,227.1 1960.3,296.6 1965,252.4 1901,195.6 1933.4,437.4 1926,378.8 1932.1,403.2 1916.3,404.2 1905.2,175.5 1955.8,242.6 1886.6,357.2 1914.7,288.7 1941.9,384.7 1915,413 2020,365.3 1981.5,161.8 1910.8,301.5 1920.6,229.8 1935.9,195 1904.2,240 1939.7,187.7 1911.6,200.7 2003.7,335.4 1904,226.5 1897,183.7 1883.3,341.1 2001.1,299.5 1925,209.7 1986.7,401.1 1915.4,261.2 1859.7,369.1 1890.1,310.7 1971.9,379.4 1997.8,336.1 1972,312.5 1931.4,284.1 1931.3,258.5 1905.5,266.3 1944.9,346.2 1942,353.8 1871.2,249.1 1894.2,418.5 1915.6,289.8 1941.5,235.4 1986.7,346.2 1994.6,389.4 1956,393.3 1929,287.7 1932.2,344.9 1925.3,222.7 2000.2,225.8 1911.7,260.6 1929.8,178.7 1934.1,407.3 1973.4,358.9 1922.6,436.9 1943.8,240.9 1913.7,387.1 1925.7,184.5 1911.1,356.7 1980.6,279.8 1853.8,241.4 1983.5,378 1868.1,373.5 1946.1,345.9 1973,325.3 1876.9,351 1953.1,218.1 1899.8,222.2 1924.1,353.2 1932.4,296.1 1901,345.6 1895.4,260.4 1911.1,277.1 1964,381.2 1900.8,271.5 1981.8,216.9 1928.7,325 1966,290.1 1963.9,346.9 1939.3,303.3 1947.4,211.7 1978.6,356.7 1920.3,365.1 1959.3,166.2 1865.9,325 1973.9,298.6 1967.4,263 1942.5,250.5 1883.8,329.3 1905.9,354.3 1883.8,254.1 1913.9,333.4 1882.6,366.1 1910.8,304.9 1913,320.8 1968.5,434.7 1961,348.4 1971.1,322.6 1954.1,418.6 1998.9,335.9 1951.8,303.1 1881.8,247.3 1973.7,332.9 1877.6,348.1 1923.4,295.8 1935.3,434.1 1987.7,252.8 1925.8,329.8 1887.6,254.1 1914.3,346.9 1889.6,216.1 1952.9,277.2 1907.6,288.6 1950.3,220.7 1980.5,238.3 1921.7,248.9 1963.3,287.4 1965.9,256.5 1885.2,339 1913.6,294.8 1953.5,214 1866.8,285.1 1890.6,261.4 1927.4,232.5 1863.3,342.4 1923.7,213.4 1977.6,368.2 1825.1,358.6 1953,355.6 1865,391.5 1871.1,222 1928.6,342.5 1950,202 1922.5,349.6 1965.7,266.8 1930.4,227.8 1909.5,161.3 1936.3,297.4 1916.3,220.3 1938,323.8 1955.3,378.2 2016.7,312.9 1980,277.4 1941.3,386.7 1901.1,303.9 2011.8,315.7 1965.4,242.3 1912.9,414.4 1941.6,427.7 1870.6,232.5 1967.6,349.3 1919.7,226.2 1969,214.5 1928.9,339.6 1942.2,361 1985.3,197.3 1908.8,235.9 1954.5,258.2 1931.9,288.7 2018.5,266.5 1936.9,362.1 1993.8,248.6 1882.3,376.4 1922.7,278.1 1920.5,325.6 1924.6,316.5 1939.8,296.2 1950.3,398.4 1906.6,219.8 1940.1,293.8 2014.6,370.5 1942.9,199.1 1864.8,301.1 1939.4,306.2 1921.7,392.2 1984.2,337.1 1927.1,267.9 1958,312.7 1972.1,309 1917.4,426.2 1971.7,207.4 1888.9,185.6 1882.8,402.4 1939.1,363 1964,287.7 1936.3,311.6 1891.9,255.7 1915.7,226.7 1895.2,416.7 1981.8,366.6 1920.6,228.4 1976.9,278.9 1953.6,377.8 1961.6,275.4 1928,245.3 1917,468.9 1906.2,339.7 1908.8,323.9 1871.2,225.4 1895,301.6 1963.3,276.7 1996.4,390.2 1882.3,405.4 1928.6,237 1966,316.2 1949.1,197.8 2003.6,299.9 1983.7,303.1 1923.9,374.1 1950.1,308.1 1882.4,456.7 1913.5,309.8 1915.2,222.3 1924.7,275.1 1880.5,406.8 1910.6,232.1 1884,303 1877.3,434.5 1870,316.9 1910.4,267 2012.9,366.4 1865.3,339.7 1996.2,292.9 1924.8,353.3 1884.5,337.9 1946.1,228.2 1880.9,370.3 1954.8,338.7 1943.6,333.1 1913.2,342.7 1933.7,403.8 1952.5,179.1 1919.8,377 1934.8,335.8 1868.9,420.3 1841.8,427 1929.6,319.7 1886.7,241.4 1929.1,260.7 1900.8,240.8 1950.5,389.4 1880,356.7 1936.3,297.6 1963.7,213.4 1953.2,278.8 1904.8,283.4 1894.3,252.1 1977.9,279.7 1912.4,266.1 1914.2,291.1 1933.1,307.5 1911.8,265.9 1875.6,269.8 1952,364.9 1842.7,361.5 1914.2,261.9 1933.9,301.4 1962,362.5 1933,430.3 1881.3,226.6 1900,335.2 1944.3,290.1 1973.9,276.8 1939.8,244.6 1915.1,421.3 1969.8,330.7 1987.4,214.2 1934.5,197 1952,327 1944.9,293.7 1980,306.8 1888.3,419.6 1949.9,409.5 1896.3,432.6 1901.4,320.8 1902.1,208.5 1941.3,312.9 1946.3,371.3 1963.3,342 1880.2,214.5 1869.8,263.1 1925.6,327.5 1927,310.2 1970.8,355.3 1947.2,339.3 1894.6,295.5 1986.5,249.2 1880.6,361.3 1893.4,268.5 2009.7,299.6 1950.1,239.4 1947,295 1934.7,389.9 1955.5,283.4 1869,298.3 1911.9,427.3 1863.6,340.1 1909.7,223.6 1928.1,304 1867,296.2 1918.9,271 1982.1,238.7 1916.4,249.9 1851.2,387.5 1937.4,173.7 1953.9,399.7 1894.1,384.9 1953.3,277.1 1956.1,388.1 1844.9,421.1 1891.2,222.4 1907.8,442.7 1957.5,334.3 1918.5,225.7 1916.5,224.3 1924.3,411.4 1900.9,436.8 1917.2,291.4 1996.5,373.4 1945.8,262.5 1976,385.9 2011,366 1942.4,263.3 1894.2,275.2 1944.2,296.4 1915.3,355.5 1928.5,389 1885.2,227.8 1916.7,225.9 1960.9,276.4 1911.5,413.2 1865.4,274.9 1879.4,378.5 1905.8,330 1925,232 1932,344.1 1927.5,237.9 1976.9,309.8 1928.2,334.2 1917,405.3 1931.3,271.2 1855.5,319.6 1898,237.7 1980.2,231.5 1982.9,311.1 1905.7,291.2 1995.5,212.8 1911.1,357 1878.7,370 1930.8,378.7 1989.6,355.4 1895.2,428.7 1882.1,309.6 1969.6,276.2 1893.1,413.8 2002.4,228.9 1971.6,353.3 1918.9,396.6 1913.9,250.1 1940.1,155.7 1934.3,188.9 1881.5,261.4 1925.6,302.5 1980.4,316.5 1928.9,209.2 1898,340.3 1905.3,310.8 1944.6,377.7 1953,304.7 1887.7,385.2 1967.1,419.5 1903.8,368.1 1956.9,337 1912.4,380.7 1896.4,299.3 1946.3,324.7 1955.8,257.4 1957.3,250 1977,354 2005.5,269.1 1880.6,281.9 1867.4,294.4 1969.4,411.7 1916.9,294 1958.4,178 1937.5,341.5 1868.3,276.1 1871.9,295.7 1970.4,331.7 1982.2,377 1923.2,278.6 1948.1,280.3 1860.4,310.1 1967.6,377.2 1901.5,285.1 1977.7,400.9 1861.7,274.7 1938.1,252.1 1927.7,322.8 1939.4,155.3 1945.1,305 1917.1,246.9 1947.4,452.6 1975.1,418.6 1973.3,341.7 1959.5,310 1904.3,359.6 1940.9,353.5 1890.4,393.8 1915.6,310.7 1861.6,352.8 1971.6,215.6 1979.5,388.9 1939.6,364.7 1895.3,373.1 2028.7,317.4 1862.8,372.2 1882.1,233.1 1885.4,215.6 1934.2,339.4 1901.9,261.5 1940.9,261.3 1989.3,349.2 1936,221.4 1947.5,163.6 1880.9,336.7 1955.2,250.5 1942.4,445.4 1995.3,388.8 1871.9,243.8 2026.7,249.7 1991,345.3 1960,264.9 1945.7,229.3 1948.4,221 1980.7,297.9 1931.7,419.1 1959.6,370 1930.9,357.9 1957.4,326.3 1932.3,223.3 1968.5,379 1939.9,411.4 1934.1,258.8 1989.7,287.1 1911.3,378.6 1982.4,252.1 1935.3,418.9 1934.2,298 1887.2,386.3 1952.1,235.6 1926.4,398 1948.9,354.5 1884.7,255.8 1963.8,345.9 1890.3,321.9 1931.1,386.3 1995.8,216.4 1954.4,163.6 1949.1,382.9 1910.5,267.4 1893.5,278.9 1899.7,328.5 1908.9,242 1855.4,400.2 1959.1,194.3 1943.4,315.5 1969.6,362.4 1956.2,275.9 1919.2,259.8 1885.2,352 1936,389.8 1936.8,306 1906.8,415.5 1952.2,294.8 1898.2,282.8 1935.9,303.1 1972.1,312.6 1951.5,285.3 2026.3,294.6 1952.8,351.3 1988,317.8 1905,363.4 1892,282.2 1962.9,392 2013.7,289 1958.7,384.8 1936,209.4 1890,380.5 1924.5,260.3 1895.1,209.7 1924.9,185.9 1988.9,385.1 2005.9,368.4 1921.6,198.3 1865.3,384.6 1953.7,283.1 1992.9,300.8 1967.9,212.7 1966,337.4 1978.3,228.9 1885.5,342.5 1919.2,299.4 1954.2,242.3 1908.5,415.8 1859.3,278.2 1854,288.2 1984.6,352.1 1918.5,192 1944.6,357.4 1945,269.7 1946.9,372.5 1904,334.9 1940.2,305.3 1985.6,339.5 1908.3,277.1 1904.2,442 1911.5,219.7 1933.7,184.9 1997.9,244.2 1898.6,385.5 1885.8,322.6 1898.3,313.8 1937.8,196 1915.7,283.1 1995.8,294.4 1870.4,332.1 2002.2,367.1 1883.3,385.6 1949.5,277.3 1942.2,298.9 1903.6,167.7 1981.7,242.8 1929.1,279.8 1905.7,348.5 1968,380.5 1949.7,356.2 1932.5,333.3 1895.2,319.9 1919.3,239.2 1979.9,301.8 1959.1,176.3 2014.7,297.3 1944.4,297.1 1899.7,276.4 1984,200.3 1867.4,278.5 1904.2,331.3 1913.4,308.7 1861.9,431.8 1843.9,305.8 1959.8,356.4 1904.3,340.6 1950.5,367.1 1928.4,220.9 1918.4,309.6 1953.5,399.9 1921.5,376.2 1968.6,375.5 1883,382.7 1891.9,397.1 1887.4,365.1 1914.1,277.8 2004.2,211.1 1849.8,381.5 1994.7,163.4 1971.1,292.8 1896.3,396.1 1909.3,307.1 1954.6,291.9 1889.2,204 1932.3,194.9 1883,293.8 1999.2,319.9 1964.8,287.2 1926.6,361.5 1945.5,326.7 1902.3,369.2 1901.8,267.4 1999.1,299.5 1898.7,404.3 1901.6,284.4 1858.7,368 1920.6,297.8 1873.6,402.8 1909.7,283.3 1974.6,402.1 1916,317.2 1994.1,251.1 1970.2,229.8 1940.7,289.5 1932.1,334.6 1931.1,336.7 1909.4,337 1982.5,263.8 1919.3,222.8 1869.8,303.2 1898.2,214.1 1982,244.6 1944.1,261.7 1962.7,335 1890.6,242.9 1949,371.9 1956.6,233.3 1847.7,395 1934.7,259.5 1872.9,254 1994.7,313 1878,345.6 1981.8,209 1955.5,369.8 1843.2,300.9 1956.3,319.8 1950.3,173.6 1941.4,279 1884.9,331.7 2007,320.4 1897.7,278.5 1907.3,235.2 1959.7,302.9 1967.8,269.2 1907.6,311.6 1970.1,389.6 1933.1,369.1 1904.9,378.2 1923.4,310.1 1899.5,291.9 1925,286.1 1945.4,409.8 1998.2,336.5 1944.3,277.5 1937.1,347.4 1893.3,329.1 1987.1,245.2 1959.3,331.1 1968.3,246.4 1994.5,286 1961.5,241.4 1969.9,258.5 1891.1,285.8 1882.3,244.2 1890.4,299.7 1890,298.5 1916.1,262.3 1890.4,331.1 1942.1,435.2 1990.8,212.6 1875.9,382.1 1934,330.8 1855.2,344.4 1900.8,335.2 1976,298.7 1871.1,291.5 1967.5,225 1956.7,357.9 1947.8,206.5 1950.3,240.2 1943.9,156.9 1832.5,307.3 1940.6,242 1951.3,309.1 1922.7,206.9 1934.7,336.8 1966,357.9 2027.6,240.4 1903.3,389.6 1924.1,315.7 1988.9,340.9 1971.3,395.7 1864.5,252.8 1997.7,222.5 1975,277 1936.3,402 1843.1,320.7 1920.6,308.8 1970.5,260.5 1937,158.1 1861.9,314.1 1921.8,342.2 1894.5,383.1 1938.6,267.9 1952.2,257.4 1977.3,259.7 1900.2,218.1 1907.3,378.7 1958.7,264.9 2011.7,267.8 1998.9,261.9 1912.6,211.8 1906.7,219.6 1964.5,293.7 1975.7,204.4 1889.6,255.5 1981.8,304.4 1911.5,386.8 1928.2,460.2 1952.1,298.6 1916.7,332.3 1916.4,206.4 1958.9,193.3 1884.9,381.4 1905.1,180.1 1921.4,322.8 1994.2,296.6 1970.1,311.6 2004.9,366.5 1937.6,259.5 1865.3,283.7 1873.9,422.2 1972.6,229.5 1913.1,334.5 1909.8,395.9 1916.1,228 1970.3,279.1 1916.6,349.5 1900.7,262 1918,271.4 1884.8,386.6 1870.4,402.1 1913.3,333.5 1900.6,210.3 1917.8,256.8 1950,196.2 1996.8,223.4 1935.9,292.3 1935.1,97.2 1898.3,160.9 1917.7,152.7 1834,252.8 1843.2,253.8 1832,284.4 1860.6,256.9 1797.3,338.6 1820.8,330.4 1811.6,346.8 1787.1,379 1797.3,380.4 1790.1,429.4 1825.9,456 1839.1,478.5 1862.6,485.6 1870.8,486.6 1883,490.3 1904.5,493.8 1908.6,487.6 1920.8,485.2 1891.2,512.1 1844.2,540.7 1842.2,498.9 1913.7,472.3 1885.1,463.1 1935.7,96.6 1969.8,121.5 1969.8,142.5 1981,139.4 1991.3,155.8 2019.8,156.8 2005.5,166 2018.8,167 2021.9,191.5 2048.4,208.9 2040.3,213 2037.2,231.3 2044.3,270.1 2036.2,305.9 2012.7,183.3 2044.3,328.4 2026,339.6 2018.8,386.6 2022.9,402.9 1935.1,454 1959.6,455 1969.8,457 1945.3,380.4 1944.3,401.9"/>
<polyline class="s" marker-start="url(#b)" marker-mid="url(#b)" marker-end="url(#b)" points="1954.6,408.5 1930.5,401 1847.9,326.4 1916.9,316.9 1895.2,339.9 1959.5,365.1 1979.1,358 1908.9,324.7 1938,375.1 1868.3,363.8 1981.1,394.3 1879.6,364.7 1967.8,354.2 1958.3,324.7 1947.5,307.5 1870.2,418.6 1834.1,289.9 1958.4,299.4 1912.7,393.9 1885.4,355 1948,364.8 1946,334.7 1900.3,306.1 1851.9,310.4 1894.8,276.1 1912.3,462.4 1875.2,373.9 1948.6,372.8 1973,267.3 1997.5,323.5 1895.2,257.2 1969.3,258.9 1969.1,362.4 1860.1,384.8 1863.4,352.9 1921.6,402.1 1962.1,333.3 1925.9,408.3 1941.5,372.3 1974.9,238.2 1879.3,236.5 1916.4,354.4 1896.2,295.1 1912.7,373.9 1930.4,275.1 1973.4,235.7 1955.9,291.9 1907.9,308.6 1967.9,273.9 1881.1,319.2 1912,309.1 1918.2,327.2 1909.3,281.9 1955,309.1 2002.7,361.7 2015.9,336.2 2001.7,346.1 1948.1,389.2 1972.1,348.7 1964.4,284.6 1864.2,317.6 1862.5,397.9 1950.8,403 1942.8,360.1 1899.3,430.8 1892.8,193.5 1903.6,396.3 1899.7,352.3 2028.8,282.4 1925.3,388.1 1908.9,289.1 1972.9,256.8 1876.2,277.2 1895,350.1 1957.7,321.1 1975.9,300.6 1877.1,369.3 2000.8,354.5 1928.2,183.5 1906.8,296 1851.2,370.6 1911.3,378.6 1966.9,208.8 1947.3,390.8 1908,327.1 2005.9,313.2 1987.3,391 1962.8,271.6 1883.7,413.6 1955.5,290.6 1972.4,340.4 1924.9,337.7 1976.1,214.2 1972.2,242.5 1921,307.8 1999.6,363.5 2021.1,337 1864.2,295.5 1829.5,376.2 1935.4,302.4 1898,317.6 1913.5,306.7 1998,329.7 1870.2,350.1 1922.8,379 1996.7,329.6 1865,328.2 1952.7,302.5 1910.2,223.7 1884.2,349.2 1905.7,303.4 1900.8,323.4 1925.2,310.2 1831,432.3 1963.2,237.2 1904.7,273.4 1903.4,276.6 1868,407.5 1994.6,268.1 1889.3,355.8 1923.1,394.9 1844.1,402.8 1984.8,337.1 1870.2,349.1 1903.7,281.4 1929.7,306.3 1839.1,327 1976.4,321.8 1842,328.4 1866.9,270.3 1882.6,433.3 1908.6,306.8 1985.7,229.9 1942.2,248.7 1921.1,370 2000.7,307.5 1892.5,282.4 1921.4,375.7 2008.7,242.3 1873.9,287.3 1955.1,222.3 1889.3,412.7 1902.8,232.1 1932.1,332.3 1915.6,271.2 1985.4,352.8 1932.3,255.5 1909.1,249.6 1903.8,378.6 2012.5,341.9 1868.7,277.2 1948.9,320.2 2000.8,363 1847.7,369.5 1940.2,299.9 1948.1,216.4 1942.9,321.5 1942.4,332.8 1954.2,432.6 2014.3,289 1944.8,171.9 2004.7,287.6 1972.6,332.7 1858.9,307.8 1844.7,396.1 1939.2,374.2 1890.6,377.4 1956.1,363.2 1922.3,323.4 2008.7,303.3 1964.8,332.7 2013.5,268.4 1896.9,245 1947.3,311.2 1953.3,308.1 1899.7,410.8 1860.2,354.6 1892.5,398.6 1898.1,425.5 1869.8,410.7 1947.4,329.6 1922.5,301.9 1939,247.6 1920.1,316.5 1938.7,248.5 1847.4,392.3 1961.3,235.1 1893.7,352.8 1925.2,379.9 1947.8,357.1 1884.4,332.3 1977.8,360.5 1856.6,377.6 1899.8,227.9 1904.3,330.5 1969.6,335.5 1900,282.6 1976.9,311.2 1876.1,278.2 1937.8,273.6 1873.4,337.2 2002.2,333.5 1880.9,399.1 1874.5,415.4 1989.4,341.8 1910.4,385.2 1961.6,365.2 1860.1,342.6 1863.5,339.7 1916.1,260.4 1902.6,393.6 1866.7,354.2 1913.6,295.8 1883.7,297.5 1913.7,403.4 1946.6,387.6 1933.3,373.2 1995.1,318.2 1969.9,431.4 1866.8,321.3 1896.9,401.6 1940,361.3 1965.6,288.8 1957.3,267.8 1902.3,349.7 1903.2,258.9 1917,389.3 1900.8,391.4 1826.7,382.7 1865.5,322.2 1905.7,345.4 1987.3,310.9 1872.7,319.4 1950.6,342.3 1919.2,208.9 1983.5,306.7 1952,323.3 1954.2,427.1 1921.7,329.7 1891.7,360.6 1937.5,405.1 1892.1,352.5 1909.7,262.2 1992.1,266.2 1866,349.2 1961.3,296.2 1960.8,247 1927.5,259.6 1957.5,329.6 1988.7,279.7 1852,351.8 1973.9,307.5 1925.9,270 1978.2,290.4 1957.8,446.2 1974.6,334.7 1955.7,360 1894.9,320.6 1972.8,325.7 1950.6,304.5 1939.4,328.9 1922.6,341 1925.3,253 1932.2,255 1896.7,234.9 1936.4,357 1925.4,327.3 1935.4,299.3 1917.5,389 1997.8,327.2 1869.9,242.7 1942,298.6 1875.6,354.2 1830.8,406.5 1891.5,363 1942.9,369.2 1840.8,370.9 1872.2,351.8 1950.4,180.2 1940.1,285.9 1935.7,320.7 1952.1,280.6 2004.2,247.4 1931.8,289.8 1883.5,315.6 1917.4,334.3 1938.7,275.5 1947.2,308 1898.3,267.9 1963.1,246.5 1920.8,376.6 1934.5,326.6 1955.6,316.3 1899.7,314.1 1920.1,270.7 1895.1,413.6 1845.9,399.3 1957.8,339.2 1946.2,273.5 1970.1,255.7 1885.1,297.2 2010.5,299.2 1930.9,359.7 1888.4,331.9 1919.4,274 1923.9,361.6 1936.8,303.9 1942.1,269.7 1960.1,371.7 1914.6,426.8 1973.2,268.4 1896.1,465.7 1918.5,238 1871,238.8 1876.9,333.5 1883.2,290.7 1815.7,365.8 1923.3,319.7 1869.8,389.6 1867.4,353.4 1967.2,373.8 1948.5,291.8 1894.6,296.3 1860.5,426.4 1912.8,336.5 1872.4,378.4 1911.9,313 1947.2,289.7 1960,339.5 1902.8,291.9 1988.8,348.2 1899.1,277.6 1938.1,448.7 1996,305.5 1951.3,412.4 1927.8,278.9 1870.6,343.7 1931.8,339.4 1878.3,312.5 1982.1,330.5 1948.3,350.2 1951.2,239.1 1847.2,358.5 1903.6,361.8 1845.3,316.6 1906.3,308.7 1873.5,404.7 1947.2,389.6 1941.8,287.4 1956,290 1973.6,282.2 1912.4,361.3 1882.7,326.8 1942.3,310.1 1957.1,249.4 1955.7,363.8 1861.2,307.2 1906.1,306.9 1857.1,312.7 1954.9,343.1 1869.9,283 1914.5,291.7 1965.2,307.9 1930.7,331.7 1940.6,252.1 1924.1,242.4 1950.8,370.2 1961.7,212.5 1868.3,256 1998.1,289.1 1914.2,274.9 1845.7,319.4 1881.5,333.5 1912.7,382 1938.1,260.3 1969.8,277.6 2019.2,212.8 1939.1,357.5 1893.4,332.6 1888.4,344 1969.4,368.4 1864.4,353.6 1963.8,354.8 1874.7,302.7 1939.2,263 1846.6,446.9 1964.6,249.5 1959,321.7 1926.6,281.5 1866.2,304.1 1908,341.3 1872.2,350.4 1978.5,280 1993.6,243.5 1952.2,374.4 1900.3,242 1845.2,381 1862.6,310.2 1942.8,278.4 1859.7,368.1 1909.9,318.9 1940.6,278.1 1876.5,422.8 1876.8,409 1916.5,314 1982.2,242.7 1996.5,268.9 1908.1,423.6 1962.6,344.8 1902.7,397.8 1946.1,236.7 1891.4,337.7 1859.1,239.9 1866.6,318.3 1909.4,270.2 1874.7,355.6 1972.5,356 1962.5,295.4 1943.2,297.9 1895.3,311.6 1943.7,267 1872.2,273.4 1962.2,348.2 1870.9,315.2 1868,294.4 1906,267.9 1915.4,414 1932.4,279.2 1903,277.9 1848.5,426 1880.8,243.9 1902.4,387.8 1896.1,244 1876,327.5 1990.9,388.6 1937.8,289 1895.7,344.7 1869.2,363.8 1904.4,284.6 1942.9,379.5 1936.8,319.8 1883,425.4 1839.6,430.2 1941.8,223 1974.4,228.6 1861.9,432.4 1964.1,305.1 1838.5,361.5 1883.2,408.7 1914.8,375.8 1932.3,203.2 1966.8,316.8 1948.3,236 1980,369.1 1965.3,357.7 1903.3,340.7 1845.8,332.6 1960.6,329.6 1907.7,342 1899.1,389.2 2027.4,238.1 1882.7,306.2 1972.1,321 1956.6,228.5 1905.9,379.3 1915.5,286.8 1891.8,282.4 1923.6,320.3 1869.9,298.6 1999,359.8 1959.1,319.5 1927.7,398.5 1892.7,259 1890,391.9 1923,387.6 1928.6,231.7 1904.3,303.4 1972.2,287.8 1991.2,367.4 1962.9,378.4 1910.4,439.7 1961,270.3 1879.1,357.7 2018,242.3 1941.6,423.7 2005.7,309.2 2012.9,324.7 1972.3,402.2 1940.7,307.8 1889.1,337.8 1903.6,366 1904.4,319.7 1816.7,366 1886.3,287.3 1889,330.2 1959.5,271.5 1871.8,376.2 1891,362.6 1947.4,449.9 1932,368.7 1975.8,327.8 1951.3,359.6 1929.6,242.1 1950,299.8 1897.4,294.4 1969.8,323.4 1921.5,415 1923.6,343 1836.7,342.1 1912,260.1 1904.6,444.8 1922.4,407.1 1895.6,277.1 1932.4,301.8 1946.3,366.1 1987.2,360.7 1955.8,263.9 1888.5,320.7 1976.1,316.5 1911.1,296.8 2014.2,312.5 1962.1,378.4 1925.4,375.2 1907.4,226.2 1917.1,414.7 1923.4,319 1911.4,389.2 1889,350.4 1939.8,345.7 1877.5,325.1 1982.1,267.9 1894.8,331.4 1893.8,373.9 1918,411.5 1942.5,381.5 1892.4,266 1837.7,250.2 1978.5,255 1882.4,302.1 1843.9,375.6 1944.7,326.3 1886.3,364 1929.7,356 1866.2,351.9 1987.9,326.5 1922.5,331.8 1912.9,303 1854.6,336.6 1876.2,420 1989.2,373.8 1929.1,280.3 1905.6,407.3 1962.6,328.3 1893.6,338.7 1928.7,281.3 1874.8,359 1966.2,253.7 1953.1,235.4 1883.8,252.9 1913.2,278.8 1990.7,305.9 1901.6,316.7 1918.1,259.9 1941.5,390.1 1890.6,289.8 1939,301.1 1915.6,378.9 1961.7,254.3 1909.8,348 1933.9,338.6 1991.1,254 1861.5,290.3 1876.6,343.3 1928.2,396.3 1970.8,373.9 1929.8,322.9 1913,272.7 1831.3,356.8 2016.3,276.3 1928.9,313.9 1858,322.1 1930.8,250.7 1924,220.8 1942.2,281.8 1911.3,242.4 1941.5,332.3 1926.5,312.4 1895.2,388.2 1849,353.8 1930,361.7 1821.6,400.2 1885.8,295.6 1912.7,326.1 1911.3,309.3 1948.5,247.5 1993.3,239.6 1905,292.5 1925.2,336.1 1865.5,375.2 1849.9,309.4 1972.3,292.6 1961.1,275.6 1900.6,357 1973.9,380.6 1882.3,313.2 1902.5,392.2 2003.9,360.9 1958.3,246.1 1917.5,216 1929.4,221.1 1863.7,356.1 1946.7,318.7 1862.3,371.7 1920.5,414.6 1854.5,331.6 1889.7,356 1910.8,213.2 1949.9,384.9 1857.4,286.4 1981,353.3 1907.8,285.3 1872.3,270.4 1911.3,303.2 1876.8,327.9 1995.8,273.7 1907.8,230 1946.5,300.1 1944.3,215.1 1942.9,275.5 1889.4,289.4 1940,278 1956.2,341.7 1857.6,374 1923.9,336.2 1908.2,407.6 1970.1,256.8 1963.8,270.1 1891.2,319.2 1894,332.7 1925.9,371.6 1823.9,306.6 1927.8,280.4 1997.1,373.3 1957.6,306.8 1900.5,269.8 1976.2,326 1875.9,323.4 1896.7,410.6 1877.5,357 1868,384.6 1948.1,320.1 1870.9,276.8 2017.2,321.1 1973.6,433.1 1896.2,433.1 1903.4,388.1 1936.3,312.9 1922.6,348 1872.9,359.2 1856.2,291.8 1834.8,372 1977.5,364.1 1920.6,390.8 2010.7,336.9 1983.8,285.4 1853.7,380.9 1899.4,344.3 1954.6,268.7 1910.4,351.5 1933.8,307 1914.3,240.6 1942.7,378.8 1982.9,260.8 1962.4,285.4 1852.1,365.5 1891.9,247.8 1899.2,360.6 1905.4,331.8 1877.4,347.9 1932.8,224 1880.6,423.1 1907.2,311.5 1964.3,358.8 1923,238.6 1885.2,357.1 1887.3,382.1 1881.7,311.6 1895.8,295.9 1914.2,307.1 1931.3,278.2 1926.7,245.5 1925.5,262.2 1841.1,369.4 1923.5,363.6 1858.7,348.8 1884.3,288.4 1939.9,336.5 1881.7,358.6 1851.2,372.5 1895.2,256.4 1932.8,309.3 1942.4,364.5 1950.1,270.2 1986.7,316.4 1865,372.4 1957.4,275.2 1890.5,328 1900.1,333.2 1887.3,370.1 1876.6,377 1905.3,329.8 1899.8,256.1 1950.5,316 1934.1,288 1920.1,383.5 1893.4,405.6 1877.5,246.9 1955.3,258.6 1932.2,400.7 1937,301.3 1959,330.2 1928.6,288 1964.9,380.3 1934.6,392.3 1901,295 1854.7,270.4 1880.3,273.6 1923.5,293.4 1985.6,327.6 1944.9,337.3 1955.7,291.4 1902.6,238 1891.7,421.8 1848.3,336.8 1854.8,430.2 1947.9,450.4 2027.7,307.8 1964,406.1 1946.3,371.2 1885.1,380.4 1933.4,364.2 1898.3,326.3 1847.3,159.5 1882.4,165.6 1854.4,184.8 1832.6,217.7 1816.3,230.3 1838.1,233.4 1823.8,258.9 1803.8,264 1789.1,315 1869.1,211.9 1910.6,207.9 1916.7,189.5 1806.5,336.1 1812.6,349.8 1802.4,361 1805.4,380.4 1819.7,389.6 1834,399.8 1816.7,417.2 1815.7,428.8 1837.1,416.2 1828.9,433.5 1836.1,448.8 1832,465.2 1848.3,477.4 1859.6,473.3 1843.2,498.3 1833.4,534 1870.8,450.9 1922.8,434.6 1959.2,123.7 1993.9,135 2026.4,142.1 1959.6,156.8 1981,158.8 1972.9,173.1 2006.6,205.8 2038.2,251.8 2056.6,260.9 2062.7,286.5 2051.5,302.8 2048.4,287.5 1983.1,197.6 1966.8,198.7 2015.8,341.6 1998.4,374.3 2008.6,377.4 1990.2,377.4 2042.3,383.5 1990.2,401.9 1941.2,433.5 1963.7,432.5 1949.4,464.2 1963.7,420.3 2004.5,319.2"/>
</g>
<rect x="1540.5" y="23.5" width="774.0" height="581.0" fill="none" stroke="#000" stroke-width="3"/>
<path d="M1617.9 604.5v-21.5M1772.7 604.5v-21.5M1927.5 604.5v-21.5M2082.3 604.5v-21.5M2237.1 604.5v-21.5M1540.5 546.4h21.5M1540.5 430.2h21.5M1540.5 314.0h21.5M1540.5 197.8h21.5M1540.5 81.6h21.5" fill="none" stroke="#000" stroke-width="3"/>
<clipPath id="cC"><rect x="390.5" y="773.5" width="774.0" height="581.0"/></clipPath><g clip-path="url(#cC)">
<polyline class="s" marker-start="url(#k)" marker-mid="url(#k)" marker-end="url(#k)" points="793.7,1074.5 697.9,1077.9 897.1,1011.7 711.8,1055.6 687.4,1156.9 809,1052.4 750.4,1163 797.6,1142.2 881.1,1061.6 849.6,1075.5 765.4,1187.2 764.1,1095.5 766.5,1120.6 778.2,1160 732.5,1147.2 788.4,1029.2 734.3,1195.9 805.8,1127.8 755.6,1166 773.4,1099.1 758.9,1118.1 729.7,1153.6 729.3,1132 811,1052.6 891.5,1057.4 867.3,1104.1 773.8,1145.2 764.5,1069.1 710.7,1045.5 690,1194.2 688.3,1196.2 801.4,1027.9 793.1,1122 852.2,1068.8 785.4,1178.4 776.1,1095.7 770,1163.5 749.2,1039.3 815.2,1146.7 769.7,1047.8 750.7,1191 797.9,1203.2 720.5,1101.5 736.1,1160.2 831,1091.7 736.4,1066.2 861,1046.6 846.7,1013.4 757.8,1063.3 766.2,1142.1 770.8,1181 771.5,1131.9 835,1069.1 853.7,1037.6 806.7,1019.7 758,1108.7 692.3,1183.9 818.2,1106 762.4,1179.2 859.3,1094.1 695.3,1220.5 796.2,1099.7 739.6,1030.9 768.3,1033 802.5,1160.6 791.3,1046.9 735.1,1104.7 669.8,1147.9 781.7,1175.9 792.9,1068.9 666.5,1176.5 785.3,1195.1 786.5,1134.9 790.3,1163.4 689.4,1100.5 828.1,1052.7 758.8,1119.3 864.7,1059.6 756.1,1226.5 808.6,1075 825.5,1011.6 769.4,1076.6 854.1,1000.4 839.4,1082 808.8,1088 766.8,1074.3 702.9,1234.1 763.8,1111.2 736.6,1102.9 744.5,1052.6 754.7,1203.4 717.1,1085.3 726.4,1178.3 757.4,1143.9 761.1,1107.3 785,1119.7 735.2,1126.6 756.6,1145.5 826.5,1069.4 827,1134.8 855.9,1051.6 751.1,1051.9 781.1,1052.6 719.8,1216.6 776.8,1007.9 765,1116.4 780.2,1045.9 813.6,1084.8 676,1208.3 693.4,1143.1 747.9,1113.4 678.4,1134.4 807.6,1029.9 728.1,1200.5 780,1194.7 672.9,1114.2 665.7,1210.1 739.6,1095.9 815.9,1026.1 717.5,1165.9 768.5,1009.6 743.4,1016 813.4,1046.2 751.5,1072.8 778.7,1129.7 810.8,1031.8 709.6,1162.4 812.9,1089.3 780.9,990.6 699.6,1100.5 804.2,1150.6 877.1,1097.5 785.6,1121.6 822.6,1042.2 711.2,1188.1 753.5,1117.2 818.5,1050 910.3,1113 904.2,1098 874.5,1088.6 941.6,1140 925.5,1130.9 909.4,1165 892,1146.9 884.8,1126.9 910.6,1137.6 911.1,1147.3 918,1160.1 950.5,1092.2 928.7,1148.9 884.9,1115.2 871.5,1151.9 912.5,1079.2 919.9,1136.2 920.9,1132.4 932.5,1158 923.6,1181.1 887.7,1144.1 916,1127.2 889.8,1110.5 946,1167.8 964.2,1124.4 859.6,1146.1 931.5,1109.7 913.6,1124.7 887.2,1161.9 884.5,1125.2 943.7,1106.8 910.7,1188.3 868.7,1166.1 486,982.8 519.9,1008.9 420.2,1040.1 596.2,1029.7 609.9,1026.3 690.2,1025.2 716.3,1021.1 741.2,1021.1 663.6,1055.9 693.2,1047.7 421,1090.2 428.8,1094.7 489.6,1085.5 515.2,1086.1 505.4,1104.3 460.4,1109 565.6,1110 571.7,1110 516,1123.7 539.5,1120.8 542.1,1124.3 526.4,1136 527.2,1138 559.1,1138.6 579.5,1127.4 615.6,1123.7 618.7,1120.2 633,1113.5 650.9,1097.2 635,1087.6 652.4,1079.4 474.3,1160.1 633,1181.9 628.9,1189.7 649.3,1178.4 469,1216.6 546.8,1218.2 648.9,1230.5 512.5,1269.7 746.3,1270.7 762.6,1257.7 669.7,1098.8 677.9,1099.8 831.7,915.4 987.7,910.1 895.4,964.4 955,993.6 971.5,995.6 1075.5,993.6 1044.8,1000.1 998.5,1001.8 1033.2,1007.9 1035.2,1009.3 970.9,1012 988.7,1018.1 1005.6,1018.1 949.1,1022.2 988.3,1022.2 994.4,1026.3 1004.6,1029.3 1085.9,1019.1 1061.2,1034.4 1005.2,1040.5 930.7,1040.5 956.6,1050.8 943.3,1052.8 945.4,1052.8 980.1,1050.8 988.3,1054.2 1017.9,1050.1 975.6,1057.9 1049.1,1057.5 1068.3,1056.9 1011.8,1064 991.3,1069.1 923.5,1066.1 1002.6,1066.1 891.3,985.4 906.6,1050.8 991.7,1069.8 925.4,1076.3 955.2,1083.5 955.6,1084.5 1025.6,1086.1 1013.2,1096.8 1035.2,1095.1 986.6,1094.3 974,1095.7 978.1,1097.8 1080.8,1098.8 1087.9,1112.1 930.7,1100.4 943.3,1099.8 945.4,1100.8 967.9,1108 921.9,1109 916.4,1114.1 939.3,1116.2 953.6,1118.8 958.7,1118.8 887.2,1118.2 910.3,1129.4 966.2,1130.4 977.7,1129.4 984.2,1134.5 989.3,1137.6 1029.5,1128.4 1046.1,1133.1 939.9,1135.5 932.1,1143.3 980.5,1145.3 1075.5,1150.3 897.4,1148.8 908.6,1147.8 910.7,1152.9 924,1150.9 876,1154.9 949.9,1157.4 947.4,1162.1 906.6,1171.9 924,1171.3 874.3,1173.3 891.9,1177.4 983.2,1173.3 848.4,1181.5 858.6,1181.9 961.3,1183.5 1146.5,1173.3 1113.8,1186.6 836.2,1198.8 850.4,1206 961.3,1201.9 954.6,1208 832.1,1213.1 973.6,1235 838.8,1239.7 877,1242.1 936.2,1258.1 875.6,1270.3 1083.6,1276.4 911.7,1149.8 847.4,1163.1 873.9,1086.5 896.4,1102.9"/>
<polyline class="s" marker-start="url(#g)" marker-mid="url(#g)" marker-end="url(#g)" points="770,1081.2 782,1060.5 785.5,1185.1 732.7,1071.5 769.3,1165.8 772.6,1073.5 780.4,1143.3 843.6,1018.7 707.7,1177.5 831.1,1114.6 832.4,1086.1 706.4,1059.5 814.9,1140.1 780,1120.1 808.5,1085.2 773.4,1155.9 706.2,1144.6 847.6,995.6 813.1,1124.6 815.7,1110 782.8,1065.4 793.6,1114.4 789.2,966 710.6,1043.6 780,984.4 732,1288.3 740.2,1243.8 741.2,1248.9 785.1,1256.4 678.9,1108 872.3,903.1 878.4,923.5 793.9,964 976,969.5 906.6,1052.8 786.1,1257 871.9,1109"/>
<polyline class="s" marker-start="url(#r)" marker-mid="url(#r)" marker-end="url(#r)" points="805.6,1058.7 754.1,1086.7 794.6,1137.7 738.4,1155.7 739.6,1110.5 719.1,1153.4 707.5,1115.8 776.4,1124 721.6,1097.7 718.9,1077.2 802.2,1063.6 705.5,1085.1 741.7,1114.5 790.5,1129.2 827.1,1094.3 819.6,1128.8 828,1108.7 763.6,1078.2 787.6,1119.1 801.2,1145.3 765.2,1129.2 710.9,1062.9 752.5,1009.9 818.6,1096.4 778.3,1193.9 797.7,1118.9 837.9,1100.1 745.4,1027.5 770.9,1114.3 786,1086.6 765,1111.4 784.1,1036.6 758.7,984.6 794.2,1042.8 745.6,1101 739.9,1060.6 855,1125.7 731.5,1144.4 676.2,1063 786.1,1124.8 788.3,1027.4 777.4,1086.2 799.6,1100.4 825.5,1048.1 782.4,1015.4 797.1,1043.6 785.8,1066.6 722.5,1075 751.7,1142.4 742.4,1100.7 792.9,1082.3 835.5,1051.7 763.7,1039.9 758.3,1105.1 698.1,1116.3 808.5,1096.7 783.7,1133.3 764.7,1167.6 729,1188.6 810.4,1117.7 738.6,1104.8 781.8,1073.5 822.2,998.8 730.8,1139.8 830.6,1123.1 773.6,1181.8 805.5,1149.8 783.1,1079.5 770.7,1081.6 754,1108.9 748.5,1053.7 744.8,1015.3 770.8,1064.5 817.9,1121.2 756.3,1062 699.9,1115 767.3,1140.3 849.8,1084.3 832,1165 739.5,1183.9 724.1,1241.6 823.1,1134.5 794.8,1206.9 763.5,1026.2 725.7,1039.5 777.2,991.6 789.4,1202.3 716.7,1082.9 840.1,1090.8 831,999.5 794.3,1119 743.7,1115.5 712.5,1118.4 686,1180.7 843.1,1052.3 676.1,1234.7 769.6,1016.4 812.7,1155.2 683.4,1210.3 690.7,1147.6 807,1003.5 771.3,1062.7 722.4,1113.6 826.6,1137.3 708.9,1225.4 789.6,1054.9 780.7,1220.4 724.5,1143.1 816.8,1026.9 842.8,1003.2 734.5,1196 704.9,1098.9 730,1160.4 721.8,1135 706.7,1177.5 722.9,1024 778.4,1022.8 817.1,1131.2 791,1103.7 716.4,1195.7 768.4,1192.1 775.6,1120.3 851.3,1082.8 753.4,1087.7 790.6,977.9 694.5,1096.7 773.5,1074.5 752.2,1035.6 671.8,1144.4 792.3,1036.6 819.8,1008.7 813.2,1085.6 847.8,1043 786.3,1075.1 724,1237.3 828.5,1046.7 747.8,1080.9 753.4,1162.1 747,1172.9 721.5,1141.9 742.1,1079.7 694.9,1197.6 697.2,1044.6 825.7,1075.2 759.4,1016.6 778.9,1106.7 714.1,1099.5 798.7,1097.2 782.7,1041.4 744.8,1164.6 866.6,1049.2 820.4,1059.1 718.9,1117 787.4,1135.3 727.3,1095.3 812.8,992 777.3,1095.2 773,1135.1 833.4,1145.1 772.3,1178 761.4,1119.4 806.7,1180.7 775.3,1136.3 751.3,1068 700.2,1257.7 790.8,1086.1 766.3,1046.9 826.8,1086.3 735.6,1096.1 769.6,1017.9 705.9,1163 767.8,1165.3 776.4,1048.3 729.6,1081.7 765.4,1156.4 801.2,1039.2 792.5,1105.3 708.6,1144.1 690.8,1169.6 708.2,1169.8 755.9,1162 767.7,1078.2 697,1074.6 794.8,1035.8 741.7,1047.9 805.3,977.1 827.5,1146 801.8,1125.7 747.8,1132.1 763.6,1176.1 778.7,1075 745.9,1188.7 804.5,1144.8 800.6,1080.3 725.9,1090 763.1,1004 817.4,1102 832.6,1151.3 767.5,1070.6 775.7,1071.3 781.1,1148.1 796.4,1095.7 742.5,1161.2 703.6,1099.3 895.9,1021.4 747.6,1008.1 717.5,1079.2 713.7,1133.3 788.3,1085.4 742.9,1106.7 778.8,1215.1 730.9,1042.6 776.5,1057.1 781.1,1128.7 698.4,1207.7 708.4,1126.3 757.8,1146.5 741.7,1117 641.5,1230.3 741,1107.2 808.3,1097.3 750.1,1056.5 794.2,1031.3 735.6,1216.6 763.4,1175.4 726.5,1117.6 828.9,1086.6 793.6,1095.6 733.7,1195 720.5,1071.7 808.6,1059.6 778.2,1137.7 786,1110.7 819.9,1055.7 765.7,1134.9 833.5,1047.7 728.7,1235.1 821.6,1147.6 849.3,1151.3 711.4,1187.5 730.5,1082.5 853.1,1048.3 791.7,1097.4 731.2,1124.2 779,1080.2 770,1208.5 666,1152.3 746.3,1149.7 776.3,1160.6 752.4,1175.3 703.9,1224.3 786.4,1070.2 748.2,1152.7 703.2,1112.8 848.4,1086.8 772.7,1115.9 784.1,1034.5 732.6,1118.9 750.5,1089.2 719.6,1167.3 847.9,1030.9 773.4,1089.4 701.7,1115.6 824.5,1132.5 743.3,1173.4 841.9,1056.4 840.6,1090.4 748.7,1196.3 807.9,1055.7 771.6,1132.7 791.5,1143.1 758.2,1208.6 711.6,1071.3 721.5,1167.5 740.9,1062.7 776.5,1133.4 876.9,992.2 778.2,1012.6 749.9,1087.1 776.7,1053.3 748.7,1120 701.2,1089.8 676.1,1189.9 709.3,1112.4 717.4,1258.6 712.8,1095.6 803.8,1145.4 771.1,1132.2 761.1,1135.5 750.1,1137.1 829.7,1051 750.2,1041.5 776.5,1184.4 751.7,1223.1 783.5,1119.9 823.5,960.4 804.7,1135.4 787.4,1140.4 853.4,1039.5 842.8,1090.7 680.2,1184.5 767.4,986.7 851,1062.8 751.2,1158 758.8,1112.3 774.6,1159.1 817.8,1019.9 710.8,1086.6 781.2,983.5 784.7,1199.5 747.4,1110.3 759.6,1121.7 823.9,1100 807.5,994.6 724.8,1116 738.9,1100.8 730.1,1099.6 725.8,1168.6 778.6,1090 821.6,993.8 699.6,1053.2 736.3,1192.2 839.8,1099.8 734.2,1063.3 748.3,1034.9 779.1,1115.2 679.2,1198.1 833.8,1059.3 705.9,1122.7 784.2,1114.3 789.3,1097.3 795.2,1055.8 646.5,1144.4 817.2,1075.9 754.3,1196.3 720.5,1118.1 778,1096.2 747.2,1079.7 712.3,1145 827.4,1103.2 734.1,1216.7 765.5,1114.1 815.4,1016 791.6,1155.3 769.4,1029.5 722.8,1106.3 842.5,1082.4 771.3,1227.3 864.6,1059.4 734.8,1090.7 740.4,1166.4 780.4,1174.5 780.4,981.8 747.8,1100.4 825.7,1022.2 685.6,1092.6 691,1163.1 699,1210.8 761.7,1082.3 753.6,1078 844.6,1154.4 716.4,1163.5 816.6,1000.5 762.2,1210.8 746.3,1072.1 815.6,1121.9 732.7,1206.9 856.2,1106.9 838.1,1150.5 791.3,1146.1 700.6,1153.9 765.6,1057.5 709.7,1119.3 788,1157.5 690.9,1071.4 851.9,1030.5 777.4,1095.6 796.3,1099.9 779.5,1087.6 787.4,1150.8 740.3,1127.2 704.8,1217.6 772.7,1149.8 766.5,1215.7 800.3,1127.7 818,1133.8 767.7,1088.6 785.1,1023.6 718.7,1105.6 760.5,1095.3 853.5,1060.8 789.6,997.3 756,1053.2 676.7,1176.5 756.9,1163.3 774.3,1011.9 781.4,1165.7 741.8,1208.5 766.5,1123.6 776.3,1084.2 754.2,1123 731.2,1053.6 730.4,1133.9 723.8,1147.1 844.5,1014.3 820.5,1108.7 775.9,1180.3 832.4,1074.7 720.9,1056.6 841.9,1062.3 783.6,1161.7 748.3,1063.8 735,1179.6 724.2,1110.1 733.3,1134.8 793.4,1112.5 670.9,1084.5 743.3,1116.5 793.3,1065.3 785.6,1055.7 722.1,1175.5 701,1175.1 789.8,1137.1 761,1133.8 831.5,1039 786.9,1128.6 791.3,1116.2 777.4,1057.9 766.4,1116.7 733.5,1229.2 785.9,994.6 744.6,1071.4 787.3,1058.4 819.2,1002.8 766.6,1024.3 799.8,1019.8 717.2,1111.6 679.7,1126.4 864.5,1016.7 821.3,1157.6 733.1,1168.7 815.4,1117.7 772.8,1147.4 731.5,1195.9 714.8,1255.4 824.7,1041.7 784.4,1112.4 735.3,1190.2 863.1,1067.3 804.8,1057.9 810.3,1145 666.5,1177.3 785,1090.9 754,1111.5 806.9,1064.9 783.6,1074.5 792.7,1132.3 735.2,1119.5 756,1171.1 763.8,1189.4 755,1097 696.5,1192.4 730.2,1086.3 753.2,1132.2 723.6,1000.4 851.2,1154.4 811.8,1078.2 849.6,1061.3 741.7,1160.9 710.5,1102.3 795.1,1046.3 776.9,1183.4 747.2,1136.1 835.3,1015.1 831.5,1013.6 750,1046.8 727.9,1102 893.8,1053.4 701.5,1170.1 734,1136.6 776.6,1089.1 746,1173.4 716.2,1106.1 804.9,1055.1 729.5,1057.6 845.7,965.8 743.1,1152.2 737,1071.5 738.3,1115.8 780.6,1167.6 795.8,996.8 819.4,1119.4 831.5,1093 850.4,1101.9 788.3,1130.3 776,1078.7 846.9,1004.3 809,1189.6 797.3,1095.6 782.4,1085.4 802.1,1033.1 744.9,1156.9 775,1108.2 804.4,1031.2 784.5,1140.3 732.2,1116.7 737.1,1128.3 765,1137.4 773.2,1078.1 711.8,1038.9 778,1147.3 744.3,1148.9 799.6,1014.9 729.4,1079.6 727.2,1155.3 783.4,1155.4 794.1,1061.3 796.5,1062.2 747.8,1123.3 688.5,1199.8 701.6,1197.4 697.6,1175.8 761.2,1036.9 821.5,1119.3 744.4,1185.9 789.1,1054.9 850.7,986.2 741.7,1173.8 778.5,1071.6 770.4,1168.5 823.5,1022.9 784.6,1115.4 787.8,1085.4 774.4,1089.1 831,972.4 801.7,1204 796.4,1078.3 773.2,1122.8 739.2,1116.8 809.6,1037.9 783.9,1126.3 722.5,1145.2 796.2,1051.8 729.6,1135.7 777,1153.8 783.3,1070.7 781.4,1174.9 788.9,1121.2 734.3,1090.8 849.4,998.2 663.6,1243.6 759.3,1167.1 777.8,1166.2 754.9,1142 720.5,1203.9 688.8,1103 674.7,1210.2 823.9,993.8 764.2,1134.1 723.4,1163.5 756.7,1062.8 732,1100 824.6,1092.4 782.5,1039.8 823.9,1042.6 669.9,1184.4 806.2,1065.6 821,1018.5 816.6,1071.1 799.3,1137.9 741.1,1073.5 773.2,1099.5 799.1,1012.5 752.8,1069.5 771.5,1055 737.2,1186.8 797.4,1082.3 714.2,1179.3 807.3,1144.6 709.5,1183.6 858.6,1052.2 805.8,1020.4 705.8,1146.9 800.8,982.2 868.6,1038.9 794.9,1049.8 810.5,992.6 722,1056.1 753.3,1165.9 734.4,1144.2 751.5,1145.7 757.3,1023 761.4,1104.7 687.6,1193.8 799.2,1067.3 830.8,990.3 744.2,1120.7 793.4,1036.7 764.4,1069.1 703.7,1073 696.4,1197.4 741.2,1120 770.9,1083.6 778.1,1111.6 806.2,1092.2 747.8,999.6 744.8,1123.1 760.7,1069.9 788.4,1086 804.8,1152.7 759.1,1056.4 746.2,1099.1 704.9,1089.2 713,1160.6 740.8,1033.8 781.3,1148.4 800.8,1031.6 790.7,1048.3 768.8,1077 745.6,1108.8 727.1,1179.4 757.2,1112.4 837.2,1060 731.9,1074.7 725.9,1096.4 823.4,1030 736.1,1091.6 758.6,1165.2 729.2,1071 709.1,1142.6 785.6,1063.1 728.8,1181.5 856.1,1004.6 702.2,1178.1 762.1,1001.6 701,1092.5 821,1006.4 798.4,1135 796.4,1106.9 760,1186.8 728.3,1266 844.3,1057.7 708.5,1119.6 691.3,1176.6 781.7,1182.9 735.5,1080.5 739.5,1123.4 843.3,1006.3 764.7,948.7 784.1,955.8 766.7,981.3 701.4,1032.4 695.3,1054.8 733,1027.3 653.4,1079.4 647.7,1131.5 654.4,1170.3 649.3,1234.6 672.8,1235.6 657.5,1251.5 668.7,1259.1 672.2,1265.8 691.2,1261.1 690.2,1264.2 733,1264.2 725.9,1274.4 732,1289.1 714.7,1229.5 718.7,1250.9 702.4,1253 773.9,1232.5 669.7,1087.6 904.1,925.2 825.9,933.3 830,944.6 813.7,947.6 815.1,955.8 784.1,955.8 863.7,953.8 868.8,957.9 836.2,961.9 803.5,976.2 880.1,972.1 909.7,994 1002.6,1000.7 907.6,1032.4 891.3,1037.5 886.2,1033.4 873.9,1053.8 895.4,1101.9 871.9,1100.8 861.7,1158 810.6,1237.6 795.3,1253 835.1,1135.5 800.4,1207"/>
<polyline class="s" marker-start="url(#b)" marker-mid="url(#b)" marker-end="url(#b)" points="780.6,1040 847.7,1119.4 760,1048.7 710.2,1068.2 833.4,1031.6 750.3,1048.4 809.2,1108.3 665.4,1202.4 738.1,1174.2 763.3,1118.3 779.5,1146.8 771.9,1164.8 810.8,1025.4 779.5,1069.4 820,1033.6 812,1042.3 690.7,1239.2 796.3,1080.6 785.5,1111.8 708.7,1150.5 836.1,1044.7 761.3,1039.9 663.5,1228.1 743.7,1132.3 707.9,1215.1 720.7,1085.7 795.4,1165.1 827.9,1030.6 734.5,1126.1 832.9,1169.9 733.5,1213.8 753.2,1220.7 734.8,1190.1 727.3,1123.3 848.9,1055.4 820.9,1130.2 710.8,1172.6 772.9,1058.3 730.9,1099.1 695.7,1234.7 719.1,1093.2 807.8,974.7 746,1088.5 687.6,1089.2 778.3,1055.9 691.2,1226.7 713,1118.3 822.7,986.7 741,1128.6 705.6,1262.7 783.2,1068 751.3,1122.8 734.6,1174.6 795.4,1008.9 774.9,1080.9 677.5,1209.5 789.6,1070.1 833.6,984.5 730.4,1161.8 770.5,1088.4 782.5,1123.2 699.8,1185.9 764.9,1065.5 756.6,1205.5 751.8,1061.5 707.8,1075.3 806.2,1075 835.2,1128.2 800.7,1068.8 730.7,1140.6 754.1,1176.9 722.5,1100.2 737.9,1141.9 701.2,1096.9 788.5,1097.5 764.5,1096.7 643.5,1203 861.9,1018.6 689.8,1251.4 806.5,1130 702,1056.6 753.8,1192.4 836.2,1073.4 800.2,1105.9 760.5,1048 720.9,1141.1 684.3,1133.5 748.2,1139.4 748,1157.1 687.3,1183.3 801.8,1093.5 708.8,1129.6 741.9,1056.9 788.9,1117 754.9,1071.6 820,1105.1 773.2,1095.7 789.7,1223.8 783.8,1129.5 815,1132 816.4,1147.8 823.9,1129.9 754.4,1054.4 751.8,1047.4 797.7,1017.1 735.5,1121.8 815.5,1127.9 760.5,1142.5 726.3,1145 734.1,1209 764.7,1036 734.2,1173.8 803.7,1164.5 751.8,1136.9 777.2,1050.5 803.6,1166.1 817,1089.5 836,1112.3 823.6,998.1 860.5,1031.8 797,1097 725.7,1162.4 761.6,1202.3 844.7,1081.1 832.1,1091.9 661.8,1161.6 760,1078.2 753.7,1071.7 824.1,1120.4 835.6,1018.9 759.6,1053.7 821,1066.6 679.4,1221.7 847.6,1021 696,1156.2 834.1,1036.2 712.1,1065.4 778.9,1195 721.9,1125.2 860.1,1026 736.1,1154.2 725.3,1137.3 830.6,977.1 767.3,1131.9 688,1257.8 670.9,1211.6 741.2,1148.4 683.6,1101.2 766.6,1150.9 789,1131.2 869.7,1065.2 785,1145.7 830,1082.4 869.2,1031.2 778.5,1113.2 693.5,1114 773.7,1107.4 772.7,1148 795,1044.3 817,1095.3 728,1043.2 765.4,1061.2 775.7,1050.5 743.7,1066.3 756,1080.8 755.2,1139.5 775,1086.1 784.6,1094.1 822,1038.1 724.5,1126.1 729.4,1168.7 841.3,1086.9 757,1135.6 676.2,1136.5 644,1143.7 848.4,1115.6 764.4,1124.3 810.7,1064.8 719.6,1159.4 795.4,1117 804.5,1057.2 758.4,1145.1 674.6,1217.3 686.5,1239.3 720.3,1077.7 798,1119.8 826.9,1146.4 823.6,1100.8 733.8,1152.4 810.2,1062.6 726.7,1100.6 698.6,1165 782.9,1105.9 796.2,1078.3 745.5,1151.6 814.1,1069.7 761.8,1095.1 810.8,1132.9 715.4,1104.2 760.5,1133.2 756.1,1217.4 781.7,1002.2 756,1226.2 818.4,1050.7 741.5,1190 701.1,1109.4 773.3,1151.9 706,1161.3 838.9,981.2 678.6,1130.6 850.1,1015.5 711.7,1065 671.2,1140.8 722.6,1215.1 682.3,1175.9 754.1,1145.2 845.8,1009.7 741.7,1199.1 768.3,1164.5 722.3,1116.4 712.2,1117 837.7,1033.4 670.3,1199.5 747.9,1188.7 718,1152.7 866.4,1076 815.7,1009.2 830.4,1110.8 675.1,1133.4 765.7,1183.1 777.2,1141.9 834.6,1034.6 852,1059.4 791.5,1072.9 836.8,1103.9 707.5,1148.2 720.3,1174.8 719.3,1190.6 774,1128 808.9,1162.6 780.7,1098.2 725,1110.3 729.6,1141.5 772.8,1120 769.1,1088.4 745.2,1124.2 828.3,1121.3 806.9,1068.7 707.3,1178.3 802.4,1073.2 788.4,1068.4 834.4,1043.8 798.8,995.4 835.9,984.2 751.9,1118.5 817.1,1130.8 809.8,1139.4 793.5,1128.4 765,1226.4 696.9,1137.4 732,1057.4 887.1,1007.6 835.4,1109.3 762.5,1061.1 750,1125.2 689.8,1111.8 720.4,1156.3 732.9,1197.7 690.9,1132.8 775.2,1176.4 776.6,1163.4 790.4,1084.6 782.7,997.9 835.4,1049 690.2,1227.9 719.6,1123.2 696.7,1127.4 718.2,1204.7 764.2,1190.6 753.9,1084 826.7,1119.2 804.7,995 819.8,1126.5 797.5,1097.9 728.7,1220.3 751.4,1043.9 780.3,1168.6 742.6,1165.6 704.9,1131.6 720.8,1152 830.3,1003.9 772.2,1111.6 724.1,1169.6 754.5,1185.6 710.3,1137.4 802.2,1134.9 780.6,1097.6 708,1111.3 794.4,1124.3 755.5,1073.3 678.9,1150 838.4,1062 697.6,1123.3 757.6,1059.8 736.9,1077.9 841.5,1066.1 768.8,1120.4 690.2,1112.3 692.4,1176.9 762.5,1062.8 731.3,1168.5 787.2,1095.4 704.1,1134.7 735.9,1138.6 776.1,1102 710.6,1214.4 761.7,1123.4 706.4,1085.6 706,1162.4 837.6,1060.5 851.7,1110.7 825.4,1143.2 756.5,1124.8 779.4,1095.5 727.5,1219.3 830.3,1084 719.2,1173.5 751.5,1082.2 724.2,1152.2 758.5,1152.6 734.9,1131.3 755.3,1097.1 776.3,1021.7 776.7,1161.8 697.6,1155 830.8,1000.2 767.1,1120.3 775.6,1150.6 753.3,1075.7 786,1032.4 819.3,1062.5 828.5,1009.8 772.8,1106.4 785,1077.7 674.4,1169 777.4,1223.4 743.3,1070.5 777.4,1097.3 659.1,1244.4 795.3,1111.7 733.6,1208.5 726.2,1129.8 781.7,967.4 723.7,1065.4 794.5,1072 721.2,1232.5 683,1233 771.8,1138.5 741,1170.6 847.2,1022.3 707.8,1139.7 718.4,1109.4 694.5,1148.5 816.7,1037.3 721.7,1044.2 714.5,1133.9 780.1,1038.2 818,1123.6 719,1143.6 722,1219.8 800,1150.3 811.9,1032.2 776.5,1116.5 660.8,1174.1 759.1,1124.7 713.7,1076.4 773.5,1123 776.6,1189.4 716.3,1194.3 799.7,1055.7 781.2,1069.1 770.1,1048.8 708.5,1148.1 775.4,1059.9 751.1,1127.9 755.5,1014.5 731.4,1123.3 695.6,1212.4 805.8,1038.3 836.4,1042.2 739.7,1026.9 777.8,1091.4 750.6,1098.4 745.6,1064.8 868.1,991.9 727.6,1060.3 704.3,1199.9 762.2,1145.8 793.5,1176.4 869.3,972.9 798.7,1085.9 749.7,1117.9 706.6,1068 795.3,1127.6 791.2,1061.2 728.8,1207.1 793.2,1207 750.8,1170.7 746.6,1210.6 852.2,1078 773.4,1160 791.4,1154.8 674.6,1158.2 699.8,1118.9 777.6,1090.6 680.2,1232.3 775.1,1004.1 752.7,1057.1 732.2,1115.6 805.9,1111.4 785.8,1187 786.9,1112.5 786.5,1149.2 737.5,1135.3 824,1061.1 727.1,1079.6 757.5,1171.9 779.5,1096.9 808.7,1071 702.1,1122.6 803.5,1131.5 849.3,1004.1 806.9,995.6 739.2,1149.3 833.1,1174.7 753.1,1198.4 853.5,1108.1 790.7,1128.5 815.9,1011.3 732.8,1136.1 755,1072.4 758,1056.6 787.8,1177.2 750.5,1094.4 783.1,1172.6 836.6,1055.1 769.4,1055.6 828.2,1123.3 754.3,1100.3 708,1094.4 740.4,1240.1 765,1083.3 746.8,1160.7 739.3,1145.3 810.6,1006.6 803.8,1155.9 719.7,1189.9 773.3,1124.8 795.8,1109.3 838.5,1128.8 879.4,981 807.6,1083.3 745.7,1257 721.3,1152.4 700.2,1087.9 768.9,1038.5 760.6,1067.7 782.8,1101.3 780.5,1133.1 786.8,1165.7 765.2,1136.3 784.8,1076.1 814.9,962.6 843.1,1134.6 731.9,1101.5 798.8,1083.7 832.2,1071.9 780.6,1055.3 758.8,1056.3 820.8,1064.3 770.8,1100.5 766.2,1095.4 692.1,1123.3 682.2,1190.3 771.2,1113.9 865.1,1098.1 786.1,1123.1 746.4,1144.4 670.9,1240.9 735.4,1158.4 747.2,1125.2 752,1129.3 763.5,1159.9 810.7,1076.3 750.2,1114.7 791.7,1135.3 645.7,1212.3 773.9,1142.7 833.6,1017.4 813.3,1093.7 801.5,1092.7 797.1,1108.7 787.6,1119.3 763.2,1142.5 826.2,1010.9 708.5,1235.9 691.3,1222.3 786.8,1049.2 760.5,1195.3 759.5,1041.3 752.7,1187.7 760.1,1107.2 792.2,1152.6 757.7,1087.2 685.1,1135.8 807.8,1086.2 708.7,1140.5 826.6,1081.5 769.5,1179.5 810.4,1119.8 838.6,1102.5 783.5,1109.4 683.5,1174 795.7,1096.3 737.9,1033 746,1162.9 809.9,1118.8 691.2,1153.3 766.2,1165.3 713.3,1140.2 738.8,1141.7 767.7,1053.6 838.8,1052.7 792.7,1067.1 695.1,1247.8 819.7,1136.1 701.4,1216.4 722,1040.9 722.6,1112.8 776.6,1048 746,1151.4 705,1150.4 807.2,1074.3 775.4,1135.7 745.3,1088.1 697.1,1152.2 808.3,1071.7 832,1102 750.7,1176.8 695.7,1111.7 792.9,1154.4 778.4,1091 817.3,1030.2 744.5,1090.6 786.6,1098.3 774.1,1157.1 744.8,1101 781.3,985.3 747.5,1062.4 763.7,1123.2 798,1137.3 782.1,1048 787.3,1148.5 854,1024.9 725.3,1137 721.3,1154.3 706.5,1134.3 678.3,1154.3 713.9,1260.6 774.5,1135.1 798.8,1085 738.4,1084.4 831.2,1024.1 706.1,1221.4 768.4,1132.5 771.7,1044.7 752.6,1067.4 818.1,1081.1 765.8,1103.3 800.6,1029.1 791.9,1011.5 758.3,1016.1 812.7,1098.1 745.4,1051.6 733,1171.8 838.6,1038.8 640.6,1227.7 754.5,1106.7 749.8,1088.7 838.6,1079.9 776,1024.5 772,1044.5 854,1041.6 745.4,1054.4 734.7,1215.6 761.6,1174 673.6,1111 814,1072.7 805.8,1120.3 817.8,1056.7 805.7,1151.6 812.1,1172.6 818,1074.8 790.8,1110 744,1227.9 824.6,1039.4 832.6,1055.8 783.1,1060.1 684.9,1131.3 812,1100 755.7,1139.7 688.6,1127.1 772,1070.3 796.9,1102.2 811.7,1000.7 850.2,1045.1 826.3,1107.6 799.4,1008.6 797.1,1024.5 817.1,1100.6 705.2,1143.4 786.2,1127.6 786.5,1174.1 725.2,1150.5 748.6,1184.5 722.3,1106.9 830.8,1070.1 819.6,983 799.9,1166.7 768.2,1086.1 703.8,1221.3 768.7,1179.5 678.9,1171.8 756.7,1159.1 729.3,1113.6 851.4,1027.7 747.5,1040 787.6,1146.3 683.8,1128.3 732.7,1205.7 774.8,1137.6 748.2,1120.3 772.5,1092.1 749.3,1106.3 735.4,1066.4 772.3,1061.4 797.3,1128.5 728.7,1151.2 757,1161 860.1,1021.5 817.4,1030.5 730.8,1144.9 724.8,1115.7 821.9,1022.2 782.9,1053.7 721.2,1068.7 700.9,1118.6 851.6,1068.9 748,1041.2 769.3,1076.4 729,1123.8 761,1148.4 791.8,1050 792.9,1143.6 746.9,1078.6 766.3,1083.1 710.6,1181.4 750.5,1191.7 666.6,1207.7 818.2,1081.4 790.5,1055.6 687.6,1191.1 758.8,1143.6 720.4,1156.7 726.9,1090.8 756.8,1133.4 779.7,1115.2 770.5,1134.9 748.3,1134.7 776.7,1107.5 740.4,1060.3 750.9,1137.4 675.3,1169.3 778.5,1077.9 717.7,1128.8 672.8,1082 753.8,1166.1 771.2,1034.2 686.5,1196.3 753.2,1053.9 805.2,1172.1 794.7,1157.5 808.2,1071.4 752.3,1119.5 775.7,1089.6 657.7,1140 727.4,1202.3 746.3,1152.4 752.6,1027.2 758.3,1083.2 715.8,1114.4 738.7,1227.1 676.3,1129.3 786.3,1038 752.4,1194.7 654,1133.8 771.9,1201.6 809.6,1149.2 763.6,1164.2 775.5,1038.8 694.9,1235.9 719.2,1116.5 770.5,1169.6 809.8,1109.9 725.1,1104.8 686.1,1250.5 790.7,1073.9 686.1,1142.3 775.9,1078.8 676.5,1108.2 742.2,1159 833.1,1031.7 782.9,1061.7 830.3,1147.8 797.8,1100.6 860.5,1059.2 670,1145.7 762.3,994.5 804.3,1172.4 876.2,995.7 735.4,1161.7 847.2,961.3 775.9,1107.4 836.2,1001 847.5,992.9 720.6,1126.1 809.3,1179.8 751.9,1139.6 792.3,1112.4 770.2,1196.7 805.6,1147.8 764.7,1192.7 865.8,1067.3 747.1,1089.7 832.8,1028.7 814.5,1147.1 775,1195.5 795.4,1102 739.9,1067.9 787,1099.4 840.7,1040 711.2,1095.2 751.8,1158.5 798.6,1214.7 799.7,1017.9 698.2,1136.6 758.7,1078.2 809.3,967.7 721.2,1110.2 729.2,1060 771.2,1168.1 730.6,1077.4 823.3,1118.1 793.4,1110.6 795.8,1108 871.7,1117.4 754.5,1156.2 698.2,1128.1 635,1211.8 697.2,1217.7 822.7,1092.7 784.6,1147.8 749.2,1199 828.6,1077.1 887.5,983.7 745.7,1225.9 825.2,1066.5 758.3,1061.3 744.7,1143.8 785.2,1131.8 872.1,984.6 656.1,1162.1 728.8,1198.1 760.7,1047.5 760.1,1111.7 719.1,1158.4 730.1,1088.4 673.1,1132.1 733.1,1171.8 715.4,1103 772.4,1102.6 838.1,1064.1 719,1136.9 772.6,1140 826.2,1102.2 798.8,1148.6 720.1,1197 763.9,1171.2 700,1159 763.6,997.7 777.6,1096.9 848.3,1052.9 792.9,1168.1 815.6,1107.4 756.9,1151 778.7,1100 787.4,1101.3 835.5,1140.6 756.4,1118.6 747.4,1089 740.5,1174.4 684.4,1107 821.4,1088.1 840.3,1102.9 734.7,1116.1 725.1,1061.8 772,1156.6 780.9,1135.6 701.4,1169.5 711.2,1128 773.5,1024.2 706,1145.6 669.8,1210.7 784.7,1110.4 794,1082.7 666.1,1210.7 750.2,1213.9 735.4,1202.2 727.1,1224.9 693.4,1187.4 802.5,1031.3 705.8,1119.4 783.4,1067.5 735.7,1099.7 804.6,1086.4 818.8,1129.3 782.7,1068.2 670.4,1244.9 836.2,994.9 728.4,1193.9 787.4,1117.6 780.1,1025 783.5,1102.9 799.3,1097.8 731.1,1172.2 844.6,1162.9 790.7,1058.7 705.4,1146.9 807.9,1012.1 803.5,1050 755.4,1143.2 768.1,1031 734.6,1190.2 803,999.3 752.5,1122.1 743.2,1041.2 791.6,1036.4 732.8,1205.4 756.9,1026.6 708.7,1138.8 702.7,1163.4 774.2,1118.5 808.1,991.2 789,1173.9 797,1155.6 754.3,1121.8 789.8,1094.4 671.6,1073.5 841.2,1001.7 800.9,1056.8 796,1128.3 717,1150.2 741,1186.5 825.1,1036.5 719.1,1036.3 818.9,1079.5 820,1128.5 760.7,1108.9 768,1139.7 765.3,1046.7 735.7,1133.7 703,1106.5 775.8,1118.9 804,1072.5 694.2,1146.7 787.9,1163.2 720.4,1077.5 752.3,1138.4 719.7,1102.9 732,1174.3 753.2,1122.1 797.3,1142 817.6,1059.1 682.9,1200.8 716.9,1152.9 750.5,1137 769.6,1095.5 746.4,1156 739.4,1166.9 781.7,1124.1 686.2,1212.3 722.1,1204.1 701.4,1159.4 756,1147.9 768.6,1068 712.6,1192.9 745.3,1200.4 749.4,1138.4 778.6,1168 746.6,1075.2 732.9,1059.7 703.8,1172.4 770.6,1070.4 828.9,1045.4 795.3,1013.4 783.9,1050.2 734.1,1104.6 733.2,1120.1 712.7,1124.4 805.4,1129.1 780,1094.7 780.1,1075.7 765.8,1046.6 722.6,1131.8 798.4,1115.5 783.6,1048.7 727.2,1162.9 822,1000.1 738,1081.7 733.4,1098.1 733.2,1188.4 762.3,1022.4 799.3,1107.6 752.5,1129.8 718.2,1177.5 805.1,1046.9 735.8,1134.9 740,1146.6 759.7,1097 759.5,1024.7 809.8,1082.7 732.4,1181.4 767.6,1141.8 698,1169.7 778.9,1155.5 770.3,1118.9 740.9,1115.6 757.4,1120.2 777.7,1104.7 726,1133.7 795.6,1117 787.8,1152.8 742.3,1099 714.1,1189.3 780.7,1058.2 721.7,1131.6 788.1,1155.1 732,1072.2 800,1045.9 766.6,1141.1 751.9,1077.5 703,1142.7 790.9,1058.8 758.3,1105.8 776.2,1062.3 715,1202.7 795,1146.2 750.1,1119 755.7,1111.3 763.7,1011.5 802.1,1057.1 738.6,1123.3 763.9,1127.6 713.1,1055.6 809.5,1105.8 829,1043.6 818.8,996.9 702.6,1207.7 784,1134.2 763.4,1107.3 783.7,1088 760.5,1176.1 841.5,1114.8 812.4,1138.7 769.4,1018.6 741.9,1116.9 745.9,1101 772.1,1091.9 824.1,1083.8 730.9,1207.9 732.9,1134.2 774,1117.4 762.9,1118.4 764.3,1157.7 716.9,1119.2 780.4,1035.6 762,1117.4 790.2,1038.4 774.1,1099.4 783.3,1064.4 770.9,1088.2 784.2,1125.6 761.8,1102.1 713.9,1147.2 789.1,1045.2 765.2,1094.6 755.4,1152.2 801.2,1067.7 740.7,1144 781.3,1026.1 796.3,1116 755.6,1083.2 756.1,1085.9 733.7,1132.6 808,1062.9 747.4,1126 761.1,1125.8 764.2,1053.3 762.3,1211.3 831.5,1114.6 823.7,1076.8 855.3,1018.5 796.3,1050.5 854.3,1093.2 847.9,1017.6 812.6,1098.3 821.7,1092.4 810.7,1078.4 744.5,1061.6 821.2,1102.7 734.6,1126.9 781.2,1193.1 802.2,1068.2 712.6,1202 795.9,1049.7 766.2,1155 732.9,1134 756.1,1134.2 739,1195.1 771.9,1073.7 825.6,1062.6 771.8,1153.6 709.8,1093.3 766.5,1110.7 782.4,1175.2 791.8,1117.9 738.4,1116.2 753.8,1091.9 690.8,1116 735.8,1085.6 766.4,1136.8 792.8,1135.5 718.3,1152.5 720.7,1057.7 739.5,1084.6 813,1139.9 823.5,1136.9 761.8,1136.4 733,1156.3 775.6,1123.9 793.3,1152.4 800.7,1122.3 699.9,1134 751.8,1131.2 764,1093.1 712.4,1169.6 771,1118.5 784.3,1134.2 773.2,1150.6 769.2,1152.7 762.6,1057 794.3,1105.4 801.6,1053.2 694.4,1103.8 717.4,1183.4 772.6,1135 757.9,1116.4 792,1180.2 786.7,1031.1 811.9,1145.7 733.3,1144.7 797.7,1081.4 723.2,1134.7 776.9,998.7 746.2,1177.8 683.3,1202.5 807.8,1040.6 788.7,1121.5 723.3,1121 744.3,1108 791.6,1095.1 764.9,1186.9 755.3,1109.9 799.4,1132.6 787.4,1068.1 778.6,1123.7 698.8,1201.4 774.2,1100.5 744.9,1158.6 766.4,1107.3 822.2,997.8 779.3,1176.9 779.3,1028.5 807.4,1011 783.7,1114.8 748.1,1206.2 778.9,1045 825.5,991.4 749.4,1157.4 785.1,1113.8 745,1123.5 736.1,1148.9 772.4,1063.9 806.1,1091 785,1107.3 738.4,1124.5 781.2,1085.3 789.1,1111.9 781.3,1034.3 758.8,1116.1 809.8,1164.5 789,1120.3 717,1206.9 834.7,1024.5 774.5,1063.8 751.2,1038.3 719.6,1145.1 728.7,1085.2 760.1,1090.3 806.2,985.6 807.1,1076.7 756.8,1155.5 817,1103.7 762.5,1130.6 795.8,1138.4 779.9,1117.7 811.7,1112.9 743.8,1083.5 730.1,1095.2 763.2,1059.7 789.9,1094.1 806,1047.9 763.3,1095.8 737.1,1150.1 784.9,1033.1 799,1041.1 828.9,1002.4 792,1115.8 757.8,1047.8 754.1,1075.6 754.4,1075.7 762.9,1074.2 746,1168.9 835,1101.4 740.8,1093.6 758.6,1123.5 689.7,1225.5 840.5,1015.6 804.3,1104.1 752.7,1077.7 797.5,1127.1 783,1093.8 771.4,1097.3 718.4,1150.1 747.8,1139.2 721.6,1193.9 733.9,1087.9 788.4,1136.1 749.7,1140.3 763.3,1101.5 754.8,1039.3 783.5,1206.6 744.8,1072.5 743.8,1111.9 714,1151.1 748.8,1177.1 807.1,1020.9 774,1084.8 732.7,1096.5 727.3,1069.5 764.6,1126.3 761.3,1108.4 794.5,1186.4 782.4,1085.7 719.1,1199.5 810.8,1014 817.6,1072.3 809.8,1097.7 725.8,1160.2 780.3,1065.2 756.7,1141.9 819.7,1137.7 782,1115.1 726.9,1234.7 786.2,1081.3 769.9,1090.2 790.1,1068.6 715.4,1113.5 763,1134.8 749.3,1136.4 792.5,1086 758.2,1166.9 807.6,1085.8 784.2,1109.3 765.2,1075.5 725.2,1092.9 693.9,1165.1 751.8,1154.9 694.3,1094.8 795.9,1035.1 808.3,1108.2 746.2,1125.5 789.2,1069.3 774.9,1028.5 810.5,1120.4 785,1051.1 809.3,1072.4 775.9,1177.5 738.4,1133.4 753.1,1070.8 765.6,1053.8 727,1122.7 783.7,1051.2 735.3,1077 780.7,1091 766.3,1142.6 727.4,1109.4 797.4,1050.3 770.9,1132 780.2,1123.9 784.1,1119 739.8,1107.7 761.8,1098.3 726,1129.8 818.3,1089 760.9,1159.9 765.7,1207.6 761.3,1122.8 747.6,1175.9 754.6,1056 814.2,1078.4 710,1089.5 743.4,1073.1 708,1187.2 787.1,1104.5 793.8,1125.5 780.9,1059.4 740.7,1156.5 756.3,1157.2 734.4,1189.6 780.8,1166.3 728,1176.5 772.8,1130.1 770,1086.8 755.9,1131.1 681.3,1150.6 767.9,1149 779.3,1025.4 774.6,1148 728,1177.2 784.6,1096.8 712.1,1127.9 770.9,1043.4 739.3,1180.3 750.9,1143.1 785.4,1168.9 788.9,1113.8 775.2,1179.8 754.7,1105.4 725.8,1141.9 773.5,1036.6 807.6,1179.7 758.5,1058.4 784.6,1133.3 836.3,1013.6 701.3,1142.2 806.3,1076.1 794.6,1144.7 838.2,1088.7 757.4,1111.1 766.4,1080.6 790.2,1037.4 731.6,1127 748.2,1152.5 675.6,1173.2 782.7,1062.6 721.9,1137.8 761.6,1078.7 768.6,994.8 747.9,1126.6 832.2,1064.1 747.7,1162.9 785.5,1127.6 757.6,1055.4 805.4,1101.5 800.7,999.2 741,1142.8 753.5,1083.9 753.1,1108.4 675.3,1147 712.3,1110.1 758.9,1104.6 830.8,1075.8 739.9,1089.9 775.7,1134.9 785.3,1024.1 716.6,1151 763.3,1087.6 723,1104.9 783.7,1057.4 724.8,1118.5 798.8,1115.8 798.3,1020.6 761.1,1127.3 718.6,1096 725.5,1126.3 704.2,1175 752.3,1063.8 721.5,1192.1 776.5,1159.6 714.5,1122.8 825.4,1044 694.3,1123.6 758.7,1104.6 778.2,1140.9 771.8,1094.9 819.1,1095.6 715.9,1131.4 787.3,1108.4 817.7,1074.1 787.5,1099.4 766.1,1099.1 810.7,1112.1 719.9,1106.6 757.5,1124.4 745.3,1219.9 774.4,1138.7 757.1,1165.2 811.9,1088.3 793.8,1155.9 781.2,1088.5 809.5,1064.6 720.8,1159.7 856.9,1059.6 804.1,1063.9 697,1091.2 692.2,1173.1 769.9,1065.9 762.9,1072.1 748,1086.1 785.2,1032 827.1,1072 771.8,1123.9 752.8,1081.5 821.5,1099.8 762.5,1092 792.3,1046.5 788.5,1172.5 766.8,1123.9 761.9,1153.7 753.9,1156.7 739.4,1128.5 707.1,1133.7 805.9,1054 782.2,1114 746.5,1117 747.5,1126.4 738.3,1033.4 682.9,1149.7 756,1106.5 771.6,1136.4 726,1089.3 749.5,1113.5 782.2,1013.8 762.1,1141.9 781.3,1058.8 761.5,1044.4 777.5,1140.7 711,1194.4 767.8,1180.1 793.4,1060.5 722.5,1186.9 795.4,1149.2 789.7,1086.7 790.3,1090.7 738.2,1101.8 733.5,1076.1 750.7,1074.6 760.4,1104.9 752.3,1004.3 726,1107.9 748.1,1139.6 673.5,1137.1 815.2,1033.5 784,1112.3 707.1,1143.2 813.4,1081.1 753.3,1116.1 786.7,1070.7 732.2,1111.1 775.8,1127.2 740.7,1166 713.6,1131.8 769.7,1090.7 749.1,1089.6 819.8,1106 759.1,1093.3 697.1,1137.1 714.3,1086.4 726.8,1108.3 768.9,1027.9 772.5,1036.9 692.7,1160.7 781.4,1053.1 716.8,1121.2 781.5,1075.6 762.8,1043.8 687.4,1109.5 684,1180.2 782.9,1087 795.9,1072.2 707,1132.5 693.1,1124 763,1099.6 795.1,1114.3 769.7,1063.6 754.2,1118.9 799.5,1142.3 695.1,1136.3 846.5,1115 836.2,1051.1 759.6,1132.2 768.1,1094.2 786.3,1083 746.6,1142.2 779.4,1184.4 711.5,1160.6 777.3,1182 748.8,1156.4 701.9,1176.5 696.8,1162.1 712.7,1164.7 777.3,1064.5 783.1,1037.1 710.3,1139.7 736.4,1193.6 705.4,1152.2 790.7,1067.5 779.6,1120.3 773.5,1107.1 750.7,1145.6 725.3,1160.4 705.6,1086.8 789.7,1073.6 829.6,1053 788.2,1002.8 800.2,1110.1 745.7,1204 749.1,1215.8 812.3,996.2 780.7,1068.4 762.8,1075.1 765,1114.4 844.4,1123.6 823.6,1070 784.8,1171.2 808.2,1038 810.6,1031.1 765.7,1116.7 759.7,1092.9 801.9,1114 783.4,1085.3 769.1,1092.8 752.2,1107.5 778.2,1063.5 765.2,1085.1 755.9,1128 767.5,1110.5 790.8,1027.7 732.8,1108.8 706.7,1201.7 753.6,1157 783.4,1174 801.9,1130.9 768.4,1137.1 785.1,1112.4 785.9,1101.8 767.8,1096.9 741,1044.4 774.1,1127.6 787.6,1106 700.2,1091.7 721.9,1042.8 712.5,1110.8 797.6,1071.9 793,1040.6 755.2,1105.6 824.6,1145.4 775.3,1131.4 737.5,1147.9 709.5,1188.3 814.5,1132.8 714.5,1148.9 755.7,1090.6 758.3,1117.4 787,1083.1 744.3,1127.7 821.9,1001.9 770,1105.8 786.4,1086.1 766.3,1062.8 784.4,1199.7 727.1,1133.6 722.5,1082.7 814.9,1144.1 777.4,1140 734.1,1185.7 796.7,1092.7 789.5,1075 802.4,1030.6 793.1,1145.4 802,1165.2 819,994.2 771.7,1056.2 754.2,1110.3 720,1185.8 816.2,1130.1 679.5,1120.1 691.4,1124 726.6,1089.4 733.3,1132.4 813,1050.5 734.3,1050.2 842.1,1081.4 721.2,1114.5 708,1127.1 810.7,1063.3 806.8,1165 796.4,1076.9 704.3,1095.2 793.6,1095.4 736.5,1146.2 770,1129.2 777.3,1080 768.8,1093.1 758.4,1029.2 774.5,1107.5 754.1,1172.3 676.4,1113.9 689.9,1108.4 736.8,1181 730.6,1064.3 673.6,1137.3 730.7,1139 802.8,1100.6 816.9,1086.9 695.8,1156.6 717.6,1124.5 819.8,1049.9 784.5,1109 747.3,1123.9 773.6,1046 725.6,1137 780.2,1112.1 758.6,1149.1 796.4,1040.8 751.1,1195.6 759.2,1117.9 845,1059.5 819.6,1095.4 725.7,1138.6 782.5,1124.8 780.9,1059 751.5,1122.6 770.9,1180.1 815.1,1113 798.5,1059 764.2,1116.4 803.2,1053.6 826.3,997.1 793.2,1167.1 834.9,1017.9 764.9,1088.5 818,1056 767.2,1037 767.9,1058 821.6,1118.5 823,1081.2 755.1,1150.4 732.7,1129.6 781.8,1124.8 790.1,1112.2 714.9,1118.5 727.7,1051.4 744.2,1162.8 847.5,1065.9 810.7,1148.1 741.5,1093.7 723.2,1054.7 722.8,1110.2 732.3,1046.2 811.5,1112.2 835.6,1109.2 683.4,1170 754,1074.7 773.4,1055.9 742.2,1087.6 758,1134.9 838,1065.6 763.7,1170 796.1,1124.3 846.8,1047.1 823.3,1157.1 822,1131.2 766.4,1069.5 844.7,1086.4 750.6,1152.9 834.9,1125.8 762.1,1132.1 746.1,1078.1 755.9,1091.3 798.9,1085.2 762.3,1134.8 784.8,1063.6 784.6,1116.6 774.1,1132 743.8,1181.6 730.3,1141.1 720.8,1178.2 718.6,1087.6 708.2,1126.6 785.9,1130.2 779.8,1140.5 815.6,1105.9 775.7,1048.7 747.4,1047.2 737.6,1200.2 760.3,1168.6 736,1130.6 774.2,1133.6 748.5,1080.1 800.6,1087.9 765.4,1055.2 758.4,1083 688.9,1172.7 796,1123 760.6,1116.7 754.7,1141.2 753.1,1172 756.5,1143.1 849.4,1097.8 752,1207.2 790.1,1092.5 736.3,1049.5 817.9,1150.1 692.5,1185.2 762.6,1131.5 768,1101.9 705.7,1101.5 792.7,1110.6 762.7,1067.8 708.9,1159 739.4,1141 794.9,1120 699.8,1122.6 774,1111 724.5,1117.8 765.1,1104.7 768.6,1110.2 753.8,1115.7 750.6,1136.7 799.5,1124.3 767.5,1128.6 749.9,1110.4 697.9,1088.3 728.6,1111.1 773.3,1068 796.8,1101.4 792,1018.2 786.8,1087.1 710.9,1168.2 735.2,1126.5 764.2,1105.9 712.5,1182.9 778.2,1164.1 754.8,1146.3 720.8,1175.7 753.3,1070.7 735.3,1178.1 717.8,1172.9 821.3,1090.5 829.2,1073.7 785.7,1112.9 781.7,1122 802.2,1137.4 828.8,1021.5 798,1100.1 704.8,1211.9 691.9,1143.3 759.7,1160.6 808.5,1083.3 776.2,1099.8 749.4,1156.1 792.6,1082.6 736.6,1113 833,1012.5 789.2,1061 804.8,1018.2 704.8,1112.7 789.8,1012.2 820.6,1148.2 744,1116.2 741.7,1149.9 753.2,1105.5 752,1148.8 856.3,1041.5 794,1111.3 703.2,1159.5 711.7,1115.9 724.9,1128.4 786.7,1095.4 757.3,1079.8 730.8,1080.3 789.3,1042.8 772.7,1066.1 760.9,1146.2 713.5,1107.3 769.3,1111.3 791.5,1058.7 803.5,1102.2 722.1,1101.4 741.9,1151.5 766.5,1090.1 784.5,1088.3 776.6,1077.3 789,1019.3 792.9,1148.4 776.9,1093.2 689.4,1135.2 797.6,1021.8 821.8,1056.3 743.8,1163.8 845.1,1035.1 768.4,1172.5 720.4,1138.8 723.6,1077.9 757.5,936.4 691.2,996.2 744.3,988.1 755.5,993.6 745.3,997.7 691.2,1037.5 625.8,1067.1 675.9,1069.1 748.3,1014 625.8,1067.1 636,1085.5 625.8,1090.2 644.2,1102.9 655.4,1114.1 616.6,1165.6 609.1,1181.1 608.1,1205 635,1200.9 643.2,1198.8 627.3,1229.5 615.8,1291.1 690.6,1285.2 771.4,1254.4 667.7,1246.8 685,1246.8 696.3,1244.8 714.7,1254 675.9,1071.2 671.8,1077.4 651.4,1229.5 688.1,1231.5 772.8,1230.5 865.3,898.6 804.5,935 815.7,937.4 851.5,934 868.2,942.1 895,937.4 934.2,949.7 915.8,968.5 897.4,968.1 901.5,980.9 1003.6,981.9 970.3,989.1 906.2,1002.8 906.2,1008.9 918.8,1006.4 925.4,1004.4 959.3,1016 897.4,1029.3 913.7,1035.4 913.7,1042.6 893.3,1051.8 886.2,1055.9 819.8,961.9 845.3,971.1 861.7,976.2 876,976.2 814.7,971.1 888.2,991.5 920.9,1080.4 898.4,1075.3 906.6,1097.8 896.4,1118.2 891.3,1166.2 869.8,1139.6 804.5,1223.3 819.8,1217.2 829,1213.1 803.5,1237.6 878,1125.3 847.4,1170.3 825.9,1200.9"/>
</g>
<rect x="390.5" y="773.5" width="774.0" height="581.0" fill="none" stroke="#000" stroke-width="3"/>
<path d="M467.9 1354.5v-21.5M622.7 1354.5v-21.5M777.5 1354.5v-21.5M932.3 1354.5v-21.5M1087.1 1354.5v-21.5M390.5 1269.1h21.5M390.5 1103.9h21.5M390.5 938.7h21.5" fill="none" stroke="#000" stroke-width="3"/>
<clipPath id="cD"><rect x="1540.5" y="773.5" width="774.0" height="581.0"/></clipPath><g clip-path="url(#cD)">
<polyline class="s" marker-start="url(#k)" marker-mid="url(#k)" marker-end="url(#k)" points="1852.6,1138.8 2163.9,1013.2 1719.9,1147.7 1954.6,1072 2070.4,986.8 1853.8,1079.1 1910.2,1174 1832.6,1102 1834.3,1123.4 1845.8,1190.9 1814.8,1208.8 1876.4,1175.6 1864.9,1150.9 1950.3,1102.1 1983.8,1064.8 1835.2,1102.7 1828.6,1167.5 1795.1,1149.8 1860.6,1104.9 1854.8,1171 1916,1096.6 1745.1,1175.8 1972.7,1051.9 1910.2,1031.2 1937.4,1113.8 1991.7,1057.8 1733.4,1162 1860.8,1115.6 1789.3,1116.5 1918.4,1095.6 1873.2,1177.9 1923.1,1139.3 2028,1011.3 2055.1,1101.2 2054.2,1017 1939.7,1118.6 1984.2,1059 1965.5,1113.7 1819.9,1148.6 2032.1,1011.3 1911.7,1130.1 2009.4,1088.7 1857.8,1121.7 1749.7,1082.2 1994.5,1104.8 1781.6,1128.5 2007.2,1067.5 1928.6,1016.6 2118.1,1000.7 1733.5,1180.3 1793.9,1144.1 1947.9,1098.5 1956.4,1071.1 2093.4,1076.8 1878.3,1139.7 1894.4,1046.3 1979.6,1031 2066.8,1041.8 1744.3,1197.5 1807.7,1131 1868.2,1173.1 1854.4,1168.2 1892.5,1071 1999.6,1033.8 1851.8,1068.6 1961.4,1037.3 1892.4,1031.6 1870.6,1055.2 1989.2,1114.5 1998,1094.9 1743.8,1115.6 2033.7,1112.8 1880.9,1110.4 2009.3,1104.5 1816.6,1096.9 1828.6,1127.3 1786.7,1125 2010.5,977.4 1996.3,1076 2097,974.6 1899.3,1056.2 1907.7,1041.9 2046.2,1012.6 1828.2,1121.2 1942.7,1050.3 2025,988.1 2026,1068.6 1875.9,1057.9 1826.1,1213.9 1820.6,1008 1910.2,1098.9 1864.2,1107.4 1959.9,958.4 1962.5,1172.1 1997,995.8 1980,1034.5 2088.7,1050.5 1992.3,1123.7 1937.6,980.5 1779.1,1168.5 1986.6,1151.1 2033.6,1126.4 1947,1064.8 1873.1,1144 1770.1,1141.9 1849.9,1055.7 1969.5,1199.4 2045,1152.8 1949.6,1040.8 1844.8,1157.4 2022.4,1021.6 1795.4,1165.2 2109.6,932.7 1942,1111.2 2047.6,1054.6 1979.5,1100.3 2111.1,1052.2 2008.7,1086.4 1932.8,1081.9 2068.3,1101.6 2016.7,1084.7 1947.6,1054.7 1771.9,1061.7 1905,1166.5 1847.8,1086.9 1988.5,1044.7 2010.7,1086.2 2019.9,1101.9 1876.6,1146.8 1892.4,1022.4 1875.7,1117.8 2017.2,987.4 1804.1,1181 1981.7,1130.2 1856.1,1045.6 1801.5,1228.1 1955.1,1087.5 1998.4,1103.4 1987.9,1023.4 1754.5,1100.3 1986.7,1022.6 1941.8,1077.3 1939.4,1091.2 1872.1,1209.2 1958.3,1087.8 2120,992.2 1761.4,1204 1805.9,1076.5 1940.8,1087.3 1951.3,1144.8 1680.8,1163.6 1797.4,1195.2 1898.3,1033.4 1881.8,1087.7 1890.6,1023.2 1699.9,1155.5 1789.6,1148 1908.7,1111.5 2120.4,1051.9 1842.2,1147.6 1773.4,1149.9 1958.7,1081.7 2127.7,1078.5 1841.1,1017 1838.2,1203.6 1992.4,1147.7 2007.5,1077.7 1911.3,1013.4 1766.1,1113 1796.3,1214.1 2128.2,1026.7 1942.9,1106.9 1921.9,1030.9 1953.4,1028.6 1991.9,1059 2065,1084.6 1903.9,1022.6 1967.5,1028.3 1815.3,1045.8 1845.7,1087 1928.9,1103.8 2119.8,1018.8 1878.2,1061.4 2099.6,987.2 1912.4,1093.2 2061.5,991.4 1896.6,1090.4 1814.2,1149.6 1832.8,1201.2 1817.2,1078.2 1967.8,1142.2 1999.8,1075.5 1772.2,1233.6 2035.3,965.5 1945.1,1031.6 2032.6,1128.7 1800.6,1174.3 1807.8,1115.7 2049.6,1080.1 1707.7,1173.1 2030.4,1066.9 2032.7,1083.7 2042,1001.2 1999.2,1050.7 1859.2,1138.8 1940.4,982.1 1940.2,1117.4 1897.1,1108.7 1816.4,1168.7 1995,1100.4 1783.3,1230.3 1874.9,1194.6 1909.8,1036.3 2073.5,1067.2 2000,1056.7 2007.2,1033.5 1876.2,1084.5 2032.3,996.7 1907.8,1129.6 1729.7,1150.3 1819.9,1079.8 2039.5,1076.4 1946.9,1001.1 2069.7,1101.2 1857.1,1178.5 2112.9,968.1 1866.2,1128.3 1900.7,1094.4 2000.4,1014.9 2059.6,1019.2 1995.5,1066.7 1909.9,1071.2 1931.5,1061.5 2022.3,1087.1 1865.1,1216.7 1904.3,1125.1 1836.5,1184.5 2041.2,1089.1 1927.2,1141.1 2005.5,1196.1 1937.6,1155.9 1962.3,1114.4 2059.2,1114.5 1791.7,1199.8 1951.9,992.5 1857.2,1203 1938.3,1117.7 2064.5,1069.2 1968.2,1037.4 1993.6,1106.6 1816.6,1126 1880.8,1172.6 2001,1108.6 1902.3,1168.5 1760.9,1179.2 1952.5,1091.5 2003.2,1009.6 1903.7,1182.2 1901.1,1145.2 1862.4,1159 1870.3,1023.8 1875.1,1156 2020.1,1015 1890.9,1162 1834,1217.8 1906.2,1078.3 1914.1,1165.3 2150.8,1051.1 2012.2,984.2 1788.8,1131.1 1834.8,1145.9 1857.7,1119.4 2017.1,1008.2 1891.7,1081.9 1817.9,1184.4 1842.8,1158 1953.8,1156.6 1967,1029.2 2034.3,1008.5 1788.5,1108.6 2086.1,1017 1981.1,1043.5 1697.6,1241.8 1803.7,1069.3 1954.5,1066.4 1887.9,1197 1941.2,1004.3 1986.1,1033.6 1820.8,1148 2084.6,1043.7 1856.5,1020.1 1946.4,1064 1852.7,1089.6 2007.8,1025.2 1893.9,1055.2 1938.3,1044.2 1937.1,1040.9 1812.3,1039.3 1825.8,1130 1832.6,1134.9 1834.2,1057.7 1774.9,1132.7 1943.6,1072.6 1790.2,1110.1 1852.4,1205.1 1905.9,1175 1779.1,1105.3 1993.1,1027.9 1817.5,1040.9 1844.9,1211.2 1752.4,1174.6 1956.5,1028.3 1889.7,1036.6 2015,1042.7 1952.9,1036.8 1910.8,1070.2 1753.8,1134.9 1945.9,1074.9 2038.8,1113.2 1973.6,983.6 1850.2,1135.7 2067,991.9 1911,1148.6 1842.6,1088.8 2110.7,990.2 2062.1,1091.3 1932.2,1072.9 1721.1,1191 1952.4,1101.5 1840.6,1031.6 1894,1110.2 1965.3,1103.3 1790.9,1201.7 2040.5,1054.5 1800.8,1161.5 1829.1,1191.3 2046.2,979.4 1790.8,1078.8 1973.5,1034.2 2107.4,991.9 1946.9,1020.4 1848.6,1076.3 1822,1040.7 1937,1230.9 2068.6,1098.4 1772.1,1138.8 1782.4,1205.4 1802.2,1086.5 2058,1042.2 1939.2,1110.9 1691.5,1189.2 1863.2,1070.4 1971.5,1065.6 1986.2,1026.8 2086.2,1074.3 1882.2,1127.4 1946.1,1210.7 1978.7,1022.9 1716,1184.8 2102.7,989.9 1758.8,1280 1861.6,1187.7 1718.2,1138.4 1849.5,1030.4 1760.8,1105.4 1720.4,1194.4 1907.7,1155.1 1888,1135.3 1906.7,1058.8 1932.6,995 1931.8,1109.4 1873.2,1156.5 2037.2,992.7 2010.1,1071.5 1912.2,1058.9 1963.6,1023.6 1874.2,1107.7 1975.1,1068.2 1941.3,998 2004.5,1001.9 2024.6,1050.5 1886.4,1074.3 1777.9,1132.5 1826.6,1153.7 1719.6,1204.9 1930.5,1066.2 1716.6,1203 1957.6,1123.7 1867.9,1145.3 1895.8,1164 2096.6,1062.1 1903.9,1004.6 1850.7,1074 1762.6,1193.1 1940.4,1107.9 1707.6,1167 2000.1,1016.6 1852.2,1151.7 1836.2,1151.5 1956.4,1103.8 1825.4,1127.5 1885.8,1165.4 1934.9,1100.4 1734.3,1229.8 1803.6,1140.8 2091,1075.1 1836.5,1138.7 1949.7,1062.9 1975.5,1104.8 1813.2,1081.8 2026.9,1065.4 2067.4,954.7 1902.7,1164.6 1907,1186.8 1880.7,1056.1 1840.8,1180.7 1914.7,1096.4 1732.7,1152.2 1907.9,1067.8 1773,1064.9 1865.6,1091.4 2053.8,980.3 1918.5,1080.3 1979.4,974.6 2016,1049.2 2130.1,1013.2 1900.5,1033.8 1952.5,1025.1 2060.8,990.2 1786.3,1094.8 1772,1127.1 1683.7,1201.4 1823.9,1052 1860.1,1151.9 2014.7,1046.4 1892.7,1050.6 1922.6,1025.2 1887.4,1183.5 1762.6,1236.4 1931.7,1036.5 1870.6,1179.4 1990.9,1034.5 1805,1105 2022.2,963.7 1910.7,1173.1 2000.9,1071.4 1849.1,1214.4 2011.4,973.8 1979.3,1142.6 1819.4,1085 1817.7,1089.3 2077.4,989.7 1964,1123.7 2151.7,1066.6 1906.5,1074.5 2049.4,1063.9 1746.3,1059.2 1870.1,1089.1 1903.8,1202 1791.1,1157.4 1981.3,1010.9 1875.1,1022.7 1900,1057.3 2119.9,1065 1873.5,1076.8 1948.7,1011.7 1980.8,1075.4 1961.7,1116.6 1968,1078.8 1769,1211.5 1927.1,1131.8 1837.1,1045.9 2000,1041.4 1854.7,1082.5 2112.5,1015.2 2075.8,984 1978.9,1059.1 1707.5,1193.7 1825.9,1196.3 1879.2,1199.3 1894.4,1191 1888.3,1074.2 1921.3,1108.9 1947.3,1042.5 2126.2,1085.1 2103.9,1000.7 1870.8,1094.6 1959.9,956.4 1940,1067.9 1835.2,1203.2 1820.2,1121.2 1962.8,1107.4 1889.9,1188 1829.9,1169.9 1883.3,1157 1829.4,1103.3 2030.4,1097 1975.3,1018.9 1885.3,1104.4 1779,1191.3 1904,1113.2 1803.3,1093.9 1935.4,1004.9 1919.6,1093.2 1765.4,1135.2 1811,1183.4 1698.2,1199.1 1952.6,1045.1 1847.2,1029.6 1985.9,1041.2 1869.2,1032.9 1881.8,1152.9 1997.5,1137.9 1740,1265.1 2067.4,973.5 1934.5,1038.7 1980.3,1206.2 1856.1,1172.2 1993.7,1172.3 2042.8,968.4 1991.3,969.6 1920.7,1075.1 1901.4,1016.2 1886.9,1196 1885,1087.8 2056.5,1080.3 1821,1078.8 1981.1,1037.2 1728.2,1158.1 1736.5,1231.4 1835.3,1112.2 1834.6,1142.9 1655.5,1242.9 1895.1,1148.9 1927.4,1097.2 1917.5,1136.7 1912,1124.3 1909.8,1166.3 1809.1,1161.8 1985.8,1067 1911.5,1091.7 1934.3,1046.1 1884,1144.5 2018.9,1121.9 1769.8,1200.9 1932.4,1058.2 1960.3,1150.7 1994.2,1125.6 1995.1,1098.9 1866.1,1008.3 1807.5,1009.2 1848.4,1160.2 1809.9,1225.3 1892.8,1131.1 1847,1097.5 1945.9,1218.2 1862.6,1148.8 1895.3,1022.9 1851.8,1121.8 1847.1,1192.4 2035.7,1105.9 2027.5,1042.6 1979.4,1063.9 1829.6,1155.4 1905.3,1071.8 1804.4,1129.7 1869,1024.1 1850.3,1137.2 1732.7,1209.3 1795.4,1145.9 1854,1231.7 1933.6,1102 1949.5,1026.5 1959,1079.7 1979.2,1029.7 1679.7,1147.3 2130.5,1084.6 1934.8,1150.7 1920.3,1148.3 1945.9,1051.3 1919.2,1098.6 1824.1,1137.4 1786.5,1080.2 1772.8,1173.1 1976.8,1045 1728,1112.7 1818,1063.1 2005.9,1009.9 1862,1168.2 1954.6,1174 1750,1133.1 1816.9,1134.9 2015.2,1083.7 1870.7,1117.2 2018.9,988.2 1805,1165.1 1937,1149.7 2013.7,1044.8 2057.7,962.7 2001.4,972.9 1838.3,1165.4 1884.6,1100.4 1874.5,1043.6 1899.7,1026.3 1763.3,1186.9 1752.8,1117.9 2024.8,1047.2 2000.4,1051.6 1948.7,1133 1858,1118.1 1923.9,1112.6 2078.6,1058.3 1864.5,1130 1900,1193.1 1895.5,1074.3 1844.9,1136.8 2112.1,1001 1772.9,1117.7 1924.8,1140.8 2065.4,1135.7 1986.2,1126 1770.8,1107.6 1868.5,1094 1923.9,1072.1 1753.1,1266.2 2068.3,1072.9 1940.8,1078.3 1931.2,1097.2 2039.6,946.2 1917,1096.4 1780.8,1072.9 1868.5,1196.4 1988,1080.5 1823,1234.1 1799.7,1097.3 1903.1,1101 1806.1,1125.2 2026.3,1052.1 1778.5,1077.6 1929.5,1036.3 2033.9,1129 1977.1,1069.2 2044.8,1058.3 1822.1,1074 1697.3,1157.4 1900.7,1084.9 1872.4,1019.8 2047.8,1009.9 1960.5,1102.4 1823.9,1149.2 1946.8,1075.4 1997.4,1012.7 1864.9,1130.4 1931,1089.7 1899.3,1120.8 2129.8,1085.1 1838.7,1149.7 1876.6,1172.4 2018.1,966.4 1854.1,1056.4 1987.9,994.7 1951,1157.2 1826.6,1199.6 2126.2,990.5 1921.5,1085 1874.1,1051.1 2044,1021.2 1775.7,1187.4 1847.3,1109.1 1805,1070 1852.2,1119.6 1926,1147.7 1796.3,1168.2 1959.2,1052.8 1796.5,1129.4 2000.5,1027 1813.8,1049.1 1851.9,1077 1887.7,1126.1 1924.2,1169.3 1906.2,1092.9 1726.3,1181.7 1872.5,1046.3 1902.7,1155.1 1873.2,1200.5 1996.8,1135.6 1951.7,1171.6 1933.6,1104.5 1985.2,1086.6 1995.6,1128.9 1927.8,1122 1996.1,1009.2 1893.7,1000.2 2077.1,1069.9 1869.9,1064 1871.6,1099.8 2041.9,965.2 1999.5,1068.4 2005.8,1033.1 1923.2,1126.5 2048.3,966.3 2071.5,1091.1 2105,938 1909.5,1178.3 1961.9,1036.6 1861.3,1042.2 1880.7,1171.8 1956.4,1023.3 2006.6,1144.4 1936.7,1024.7 1924,1100.3 1766.8,1106.7 1869,1125.7 1873.5,1159.1 2005.8,1069.9 1912.2,1040 1810.1,1063.2 1864.9,1039.6 2076.1,1046.8 1959,1024 2004.1,1096.9 1962,1058.9 2078.2,1048.4 1867.2,1075.5 1805.7,1114 1811.6,1150.4 1989.5,1029.8 2151.6,1003.6 1923.9,1106.2 1892.3,1056 2030,1168.4 1948.7,1088.7 1994.5,1153.6 1848.6,1244.2 2008.7,1118.1 1989,1074.7 1972.5,1009.6 1650.2,1230.6 2067.6,1060.2 1951.3,1140.2 1839.4,1215.4 2006.8,1114.8 2058.8,1029.9 1791,1174 1968.2,1161.4 2006,1087.3 1932.6,1005.6 1833.7,1152.2 1956.6,1107.8 2013.5,964.5 1992,1074 2010.1,1000.8 1798.5,1190.2 1909.3,1053.2 1986.9,1123.4 1945.9,1101.6 2128.8,1023.9 1952,1102 1817.2,1067.8 1989,1007.3 1811.1,1064.8 2028.2,1014.1 1939.7,1115.3 2015,981.2 1894.4,1069.3 1875.5,1107.8 1911.1,1075.2 1843,1069.5 1817.3,1188.1 1961.9,1107 1889.7,1071.6 1823.4,1188.1 1816.4,1149.8 1884.6,1052.5 2034.5,1100.6 1937.4,1123.1 1939.9,1113 1799.1,1140.9 1860.2,1127.6 2047.4,990.4 1838.3,1219.6 1926.4,1110.8 2074.1,1090.1 1986.8,1061.3 2026.8,1128.9 1750.6,1161.4 2080,992.6 2072.3,1035.8 1859.1,1025.3 1939.3,1152.3 1858.1,1140.2 1973.3,1116.2 1773.7,1055.4 2086,1072.6 2043.7,1061 1993.7,1001.9 1963.9,985.8 1860.8,1034.1 1867.9,1190.6 1828.8,1204.7 1800.1,1135.5 2092.8,1013.2 2046.6,998.8 1959.1,985 1768,1083.2 2012.1,1071.2 2004.4,1139.8 1883.9,1141.5 1789.9,1060.1 1969.7,1140.3 1787.6,1176.4 1840.5,1155.1 1872.9,1139.9 1939.2,1141.3 1741.3,1219 2001.7,989.6 1920.4,1043.8 2035.8,1042.2 1941.1,966.9 1710.5,1201.9 1941.8,1156.9 2007.2,1083.6 1727.5,1192.1 1984.6,969.1 1917.4,1042.4 1941,1063 1879.3,1160.3 1966.8,1063.2 1921.5,1081.4 1806.3,1191.5 1894,1080 1807.1,1116.2 1892.5,1144.2 1758.8,1104.6 2010,1069.7 2117.4,1005.9 1753.5,1124.6 1775.5,1132.6 1855.6,1099.8 1869.5,1064.8 1925,1155.4 1733.7,1140.8 1997.7,1094.2 1828.1,1212 1839.8,1125.4 2063.4,1080.5 1847.9,1135.6 1688.4,1149.8 1857.9,1139.1 1812.4,1181.6 1834.7,1221.2 1717.5,1223.7 1722.7,1205.5 1874.3,1108 1875.3,1048.9 1908.5,1143.3 1838.5,1091.8 1847.8,1105.6 2010.6,1101.6 1973.6,1016.7 2075.6,988.8 1955.6,1154.4 1803.6,1110.6 1871.5,1063.6 1945,1122.1 1928.9,1111 2106.1,1052.8 1806.9,1187.3 1993.1,1138.7 2049.2,1118.5 2036,1087.8 1797.7,1210.7 1920,1134.4 1840.1,1147.3 1800.1,1187.4 1970.3,1149.9 1891.1,1063.3 1995.5,1093 1963.4,1153.9 1953.1,1097.2 1833,1114.2 1844.8,1172.2 1909.2,1044.3 1985.8,1079.7 1811.6,1049.7 1936.3,1123.2 2044.9,1061.7 1912.4,1019.8 1973.2,1076 2018.5,965.4 1989.3,1108.3 1939.5,1000.7 1835.1,1169.2 1848,1044.9 1848.2,1163.4 2017.6,1042.5 1879.8,1112.5 1807.5,1167.7 1793.7,1167 2042.4,1056.2 1912.6,1038.5 1878.2,1010.6 2013,989.7 1972.9,1073.7 1909.2,1127.5 1928.9,1128.5 1870.7,1149.6 1980,1095.2 1760.3,1198.1 1903.5,1195.2 2022,1026.2 1905.9,1104.1 1749.1,1147.8 1922.1,1001.6 2042.8,1111.8 2019.2,994.4 1861.2,1118.5 1781.5,1187.1 1940.3,1122.2 1733.4,1136.5 1859.3,1103.2 2057.8,1069.6 1864.1,1077.2 1820.9,1111.1 1880.4,1059.6 1913.5,1119.4 2013.7,1011.8 1977.9,1104.3 1963.4,1072 1835.1,1148 1991,1147.3 1876.3,1120.3 1894.4,1008.7 2143.5,1085.7 1780.5,1139 1875.2,1027.2 2006.9,1130.6 1765.8,1140.9 1954.4,1153.6 1871.9,1183.1 1986.6,1130 1920.2,1060.8 2039.4,1048.8 2074,1022.9 1963,1098.1 1860.7,1169.9 1737,1117.2 1916.3,1128.1 1848.5,1115.5 1831.8,1146.2 1915.8,1139.7 1857.9,1106.1 1979,1073.4 1885.9,1054.3 1912.4,1098.8 1938.4,1099.8 1988.2,1031.4 1969.7,1181.7 1977.9,1006 2005.2,1114 1841.4,1078.3 1906.8,1123.8 1844.5,1076.8 1821.2,1057.6 1982.3,1141.8 1903.5,1145.4 1774.3,1088.5 1920.2,1102.6 1921.8,1158.1 1814.6,1070.7 1903.5,1047.7 1969,998.5 1894.5,1138.7 1947.3,1026.6 1919.2,1027 1997.3,1019.7 2007.8,1044.4 1866.9,1165.7 1967.3,1055.7 1909.8,1171.1 1900,1127.7 1896,1029.5 1839.3,1051.7 1926.7,1049.7 2017.9,1077.5 1835.6,1143.8 1771,1131 1878.1,1057.3 1792.4,1212.5 1906.8,1080.4 1745.3,1192.9 1984.7,983.1 2010.4,1070.3 1736.5,1132.8 1800.6,1155.6 1734.3,1190.6 1990.1,1130.8 2076.6,1018.1 1700.7,1151.4 1921.1,1125.5 1833.3,1058.5 2027.1,1005.1 2003.4,1118.6 1905.1,1133.1 2049.6,1076.5 2059.3,1037.1 2042.9,1024.6 2003,1130.7 2053.2,984 2019.7,1035.7 1745.7,1167.4 2023,987.3 1686,1149.6 1916.2,1132.1 1979.3,1003 1821.9,1149 2093.3,1107.8 1930.6,1132.1 1767,1175.5 2017.9,1046.8 2092.4,1041.3 2020.5,1030.4 1880,1080.7 1733.8,1153.2 1745,1145.9 1797,1129.3 1975.8,1036.2 2046.3,1072.1 1873.1,1072.6 1949.1,1027.4 1940.6,1096.3 1869,1087.8 1977.3,1041.6 2002,1013.3 1989.5,1018.8 1780.8,1185.5 2112.9,1013.8 1945,1096 1715,1173.5 2071.5,973.3 1833.2,1198.4 1851.7,1092.7 1951,1123.9 1868.3,1160.5 1766.1,1129.5 1711.9,1197 2049,1062.5 1869.9,1165.6 1770.2,1110.3 1739.1,1212.3 2072.9,1019.3 1845.6,1088.9 1777.8,1178.9 1884.1,1151.8 1741.4,1265.5 1824.2,1129.7 2023.4,978.3 2013.4,1099.3 1865,1091 1816.1,1113.6 1875.2,1039.9 1899.6,1168.5 1923.3,1117 2063.4,1103.3 2017,1092.7 1960.5,1150.5 1708.9,1104.7 1924.9,1166.7 1963.5,1100.4 1793.2,1082.4 1858.6,1131.1 1991.6,1128.4 1822.6,1198.8 2069.2,1022.1 1890,1209.7 1947.9,1144.3 1981.2,1008.8 1799.9,1090.9 1997,1026.5 1849.8,1168.5 1881.6,1137.2 2032.7,1107.1 1825.2,1176.7 1983.9,1056.3 1877.3,1117.4 1944.1,1122.1 1975.4,979.5 1955.6,1119.7 1811.1,1191.1 1772.7,1205.7 1843.1,1205 1922.5,1236.4 2002,984.4 1930.7,994.8 2071.9,1056.8 1826.5,1189.6 1906.6,1117.3 1977.3,1081.2 2016,958.3 1844.6,1092.1 1890,1049.5 1995.8,1032.1 1817.5,1232.8 1812.7,1100 1850.4,1192.4 1798.5,1174.9 1953.2,1152.4 1919.3,1100.2 1726.6,1123.9 1925.1,1155.9 1970.5,1085.3 1909.9,1012.2 2004,1054.6 2067.9,973.6 1737.8,1227.6 1878.2,1073.9 2012,1144.3 1863.7,1081 1980.1,1088 1941,1034 1828.5,1222.1 1968.4,1023.1 1920.1,1096 1991,979.9 1913,1096.4 1871.1,1075.9 1766.3,1172.8 2017,1107.2 1852.1,1220.3 1909.3,973.4 1836.2,1168.2 2103.2,1112.4 1716.3,1203.4 1965.2,1070.5 1799,1168.7 2008.3,1076.3 1846.1,1145.2 1990.2,1063.1 1899.4,1145.5 1873,1170.8 1731,1173 2005.9,989.8 1840.8,1120.2 1855.1,1161.6 1841.7,1059.8 1921.2,1115.8 2083.9,976.3 1860.5,1223.1 1920.1,1143.7 1940.9,1044 1776.1,1095 1856.5,1141.6 1988.9,1046.9 1861.7,1148.3 1829.8,1124.7 2068.6,1053.7 1844.4,1195.4 1975.8,1061.6 1993,995.4 1948.2,1179.5 2042,1116.6 1718.2,1174.8 2060.9,1065.1 1839.4,1130.5 1954.9,991.4 1851.3,1128.1 1894.7,1113.8 2060.2,968.2 1903.9,1172.7 1972.1,1042.5 1891.3,1080.8 1811,1151.3 1779.9,1115.4 2034,1077.3 1741.4,1103.7 1913.6,1171.1 1911.2,1030 1837.5,1154 1944,1055.7 2018,1112.1 1733.4,1195.4 1820.2,1123.8 1935.1,1046.9 1829.4,1184.4 1993.5,1021.8 1807.9,1135.4 1952,1190.1 1855.2,1068.6 1764.8,1183.7 1872.6,1055.3 2039.7,1001.5 1961.1,1221.8 1940.2,1095.9 1931.2,1094.7 1741.1,1151.2 1842,1069 1994.2,1103.9 1906.8,1098.4 1874.7,1115.6 1768.2,1151.9 1999.2,987.1 1851.6,1109.9 1984.8,1052.6 1856.9,1185.4 1903,1156.5 1820.6,1180.8 1876.6,1083.8 1936.6,1115.8 1634.6,1179 1954.4,1102.9 2044.2,1007.2 1936.6,1167.1 2090.3,1000.4 1966.6,1111.4 1925.6,997.1 1823.5,1203.7 1727,1148.6 2052.2,1038.8 2060.3,1067 1925.9,1103.5 1991.4,1118.7 1815.7,1053.2 1807.4,1147.9 1951.5,1156.5 1760.2,1218.1 1882.2,1052 1788.8,1126 1899.9,1108.5 1955.8,1130.5 2041.1,1049.2 1914.2,993.8 1791.2,1105.9 2031.3,1115.9 1750.5,1212.5 1748.2,1215.8 1906.8,1033.4 1954.4,1109.9 1850,1071.3 2099.8,1067.4 1742,1194.3 1926.1,1173.7 2066.7,1107.1 2059.7,1080.3 2080.2,1002.2 1743.2,1149.2 1924.1,1078.8 1752.5,1142.9 1797.9,1115.4 1789,1084 2003.4,1070.1 1846.6,1196.5 2050.4,1056.9 1782,1213.9 1901.5,1175.9 2055.5,988.8 2019.4,950.3 1943.7,1190 2040.3,1043.7 1843.3,1099.3 1903.6,1178.5 1871.3,1056.8 1987.3,1081.1 2043,1078.5 1872.9,1071 1888,1118.9 2037.9,1080.8 1820.8,1153.5 2098.6,982.3 1978,1084.2 1823.6,1185 1871.1,1081.1 1938.5,1043.6 1928.3,1095.8 1813.1,1146.3 2064.8,1100 1901.2,1117.5 1892.5,1018.3 1870.1,1178.1 2068.5,1064.9 1948.8,1020.1 2063.8,1030.2 1872.9,1168.7 1921.6,1151.4 1974.6,1072 1922.1,1119.7 1800.8,1138.6 2030.8,1037.9 1798.5,1127.8 1867.6,1115.6 2020.4,1066.7 2005.6,1043.5 1982.3,974.6 1970.3,1089.7 1904.8,1066.9 1912.3,1116.5 1901.5,1073.6 1953.6,1086.2 1795.5,1111.7 1920.1,1079.7 1851.6,1111.9 2011.4,1034.3 1920.2,1142.3 1826.7,1081.4 1889.8,1179.1 1731.5,1207.1 1979.9,1071.3 1958.3,1106.4 1968.2,1045.4 2065.4,1022.1 1788.8,1122.1 1858.3,1148.2 2089.2,1007.9 1798.5,1205.9 1785.9,1229.3 1850.3,1145.7 1945.5,1103.2 1955.9,1169 1726.1,1143.8 1973.8,1031.8 2054.7,1143.2 1943.8,1157.7 1853.2,1098.3 1938.6,1141.5 1740.1,1156.3 1950.9,1026.1 1741.4,1111.5 1841.9,1107.5 1768.1,1105.8 1795.8,1152.5 1879.3,1152.6 1884.7,1118.3 1994,1015.6 2081.8,932.2 2117.6,968.3 2000.1,1094.1 1705.6,1192.5 1889.9,1010.9 2015.2,1037.8 1753.1,1103.9 2061.5,1111.5 2039,1063.3 2097.8,999.8 1937.7,1016.5 2109.7,1119.8 2071.4,1028.8 1953.7,976.3 1831.7,1118.1 1867.9,1015.4 1833.8,1095.1 1955,1101.7 1947.9,1073.2 1877.9,1016.6 1823.4,1157.7 1669.2,1117.7 1716.7,1224.2 1803.9,1143.6 1895,1126 1877.8,1154.7 1814.8,1082 2094.5,980.5 1689,1219.7 2097.7,966.8 2046.2,1057.6 1888.2,1169 1907.6,1161.2 1763.3,1090.9 2036.8,1092.6 1648,1206.4 1873.1,1135.9 1958.9,1028.9 1656.2,1202.4 1805,1095.2 1829.3,1133.1 1987.8,1047.5 1837.7,1166.1 1902,1089.1 1856.6,1161 1869.7,1020.9 1737.2,1120.8 1972.2,992.1 1894.8,1036 1718.8,1199.5 2049.5,1020.6 2064.2,1069.9 1853,1178.7 1959.2,1107.6 2016,1068 1885,1150 1967.1,1153.1 1922,1154.5 1990.1,1135.2 1767.8,1131.4 1797.2,1076.4 2025.5,1148 1964.6,1041.9 1778.8,1168.5 1804.2,1174.2 2066.1,1104.9 1886.3,1060 1960.9,1173.8 1783.4,1181 1769.1,1120.8 1886.4,1089.8 1976.2,1097.4 1932.9,1094.2 1719.6,1162.5 1956,1184.5 1824.2,1164.2 1986.4,1061.7 1761.7,1216.1 1842.7,1139.7 2077,1087.3 1816,1075.7 1770.9,1133.9 1925,1067.3 2027.9,1028.5 1888,1231 1843.8,1122.5 1687,1273 1776.4,1208 1931.3,1060.5 1933.8,1009 1865.9,1047.3 1987.8,1161.8 2055.8,1102.7 1973.4,1044.6 1881.9,1183.5 1968.4,1013.1 1991.1,1055.7 1982.8,1049.1 1889.8,1146.4 1873.8,1066 1947,983.5 1916.4,1198.8 2001.6,1057.6 2033.1,1087.8 1889.4,1138.5 1980.5,1079 1981.8,1094.3 1763.9,1131.3 1850.8,1081.8 1916.8,1000.8 1823,1158.7 1886.7,1105.5 2008.1,1071.7 1836.2,1157.9 1845.3,1180.6 1817.8,1155.5 2015.9,1116.2 1969.3,1018.1 1884.1,1154.6 1889.3,1107.7 2060.6,1033.4 1820.2,1233.3 1923,1058.5 1897.2,1133.8 1918.5,1158.9 1922.3,1139.5 1899.9,1131 1818.9,1149.6 2057.4,1078.9 1759.9,1194.4 1976.8,1112.4 1844.9,1132.3 1728.8,1249.1 2130.2,1068.2 1975.9,1107.2 1823.4,1131.3 1891.3,1127.2 1971.4,1150.5 1894.5,1134.2 1817.9,1129.2 1940.3,1075.6 1993.2,1052.7 1860.7,1053.8 1850,1153.8 1885.9,1137.3 1923,1143.7 2074.9,1059.4 1957.4,1173.2 2024.4,1083.1 1814.7,1050 1821,1089.1 2044.5,966 1888.2,1042.7 1989.4,1085.3 1971.9,1124.8 1984.5,1015 1921.7,1205.6 1775.1,1124.6 1705,1175 1913.8,1006.7 1975.7,1050.3 1995.9,1133.6 1883.7,1220 1887.6,1205.3 1775,1109.6 1960.3,1018.2 1821.2,1148.3 1958.7,1058 1814.1,1143.7 1712.9,1225.9 1969.8,1103.6 2062.9,975.5 1769.8,1190.5 1812.6,1155.9 1865.7,1096.8 1869.5,1177.5 1869.6,1059.6 1947.8,1119.8 1998.4,1042.2 2031.4,1061.5 1854.4,1179.5 1881.6,1139.3 1983.6,1070.9 1952.6,1087.2 1740.1,1191.9 1803.2,1148.9 1824.3,1127 1736.9,1101.4 1857.6,1219 1930.3,1142.4 1756.8,1088.8 1903.7,1193.7 1919.1,1102.8 2009.6,1033.9 1911.2,1032.4 1843.7,1106.6 2063.8,1150.2 1748,1151.8 1952.5,1194.7 1763.3,1221.8 1879.8,1150.1 1979.5,1076.7 1907,1141.7 1947.7,1009.9 1787.2,1147.9 1793.4,1170.6 1741.5,1162.2 1960.1,1051.6 2066.6,996.8 1956.3,1177.4 1867.4,1087.8 1892.8,1092.1 1965.5,1030.4 1961.7,1080.6 1820.5,1208.3 1953.5,992.8 1815.5,1122.5 1980.5,1096.6 1980.2,1026.8 1945.4,982.3 1953.9,1073 1675.9,1157.8 1753.1,1142.1 1895.9,1071.4 1941.2,1101.8 1916.3,1034.9 1989.5,1034.2 2104.2,1039.7 1835.9,1093.6 1759.9,1118.6 1879.5,1140.7 1984.1,1063 1904.3,1208.3 1739.9,1264.5 1781.4,1127.8 1908,1145.3 1838.4,1119.1 2106.1,1068.8 1817.5,1184.3 1886.1,1175.6 2112.3,1092.6 1962.5,1113.2 1831.9,1128.3 1955.5,1140.5 1806.9,1170.3 1947.1,1151.9 1935.2,1008.1 1962.1,1187.6 2071.6,1102.7 1813.6,1217.3 1831.4,1132.9 1932.5,1047.6 1942.5,1151.9 1932.6,1044.3 1986.7,1001.6 1846.2,1103.7 1851.9,1144.9 1765,1227.7 1863.4,1187.2 1855,1059.6 2014.2,1076.3 1714.2,1132.9 1898.5,1066.4 1833.7,1143.8 1948.5,1142.1 1869.4,1115 1934.4,1161.7 2009.5,1032.6 1839.7,1038.3 1742.5,1168.7 1690,1174.1 1922.1,1138.2 1959.6,1047 1987,1067.2 2018.2,1084.1 1945.6,1049.1 1843.9,1137.3 1794.3,1193.9 2035.9,967 2021.2,1082 1885.9,1080.5 1867.5,1106.1 1958.9,1057.6 1916.8,1167.3 1914.6,1062.6 2021.5,1056.9 1900.5,1038.5 1918.1,1061.7 1934.6,1051.2 1893.4,1112.2 1898.5,1034 1972,1119.8 2099.3,1038.9 2006.3,1111.9 2025.6,1095.9 1852.3,1182.5 1847.1,1095.5 2071.4,1140.4 1887.5,1174.2 1766.2,1182.4 1931.4,1079.5 1836.5,1188.4 1927.5,1140.8 1823.4,1152.6 1914,1161.7 1882.7,1203.7 1853.3,1042 1914,1062.9 1968.1,1033.4 1944.9,1164 1692.4,1137.8 1962.7,1149.5 1887,1155.7 1890.2,1070.6 2000,1017.8 2047.7,1085.5 1997,1137.8 1939.9,1066.7 1993.2,1048.7 1951.3,1038.4 1979.8,1068.6 1957.4,1070.3 1730,1190.7 2008.1,1059.1 1866,1155.3 2000.3,1021.1 2029.5,1069.7 1643.3,1237.6 1904.4,1051.2 1994.2,1161.2 1968.3,1084.8 1922.2,1082.5 1992.8,1059.6 1928.4,1122.7 1799.1,1163.5 2001.3,1095.6 1884.2,1059.8 1886.2,1128.9 2057,1154.2 1995.2,984.9 1739.6,1155.5 1921.9,1090.9 1817,1131.5 2091,1005.8 1886.7,1058 1807.4,1096.9 2084.4,1055.4 1949.8,1002.1 1755.5,1133.1 1913.2,1008.4 1812.3,1234.9 2031.3,966.7 1854.1,1174.8 1949.8,995.7 2127,1019.2 1872.1,1040 1772.2,1182 1849.4,1126.3 1839.7,1085.6 2070.1,967.5 1819,1053.5 2087.1,1069.4 1871.4,1028 1883.4,1009.7 1962.1,1107.2 1720,1118.9 1889.2,1144.1 1760.2,1168.6 1842.4,1224.1 1900.9,1232 1893.6,1158.4 1891.7,1139.6 1996.9,1034.2 1983.6,1035.7 1664.8,1124.6 2062.5,1077.3 1873.6,1191.1 1977.6,1142.9 1961.8,1046.5 1948.7,1152 2062.7,1025.6 1922.8,1083.2 1981.7,1064.6 1925.2,1102.4 1887.1,1125.5 2061.1,1012 1856.3,1101.1 1776.5,1201.2 1879.6,1044.6 1855.1,1135.9 1855.3,1105.2 1842.4,1134.2 1940.4,1131.6 1755.6,1207.8 1885.6,1190.3 1949.2,1025.5 1859.8,1133.1 1841.6,1097.3 1917.2,1217 1849.9,1184.4 1819.5,1156.1 1850.9,1094.7 1914.1,1083.1 1864.8,1180 1786.1,1126.4 1837.9,1028.6 1984.1,1096.4 1805.4,1151.7 1847.9,1097.5 1941.3,1083.4 1963.4,1076.9 1798.5,1098.3 1752.2,1220.9 1687,1266.1 1865.7,1123.2 1856.6,1165.4 1809.9,1155.8 1951.7,1122.6 1924.8,1129.4 2017.9,1085 2000.5,1095.8 1863.7,1219.7 1818.8,1098.6 1822.9,1082.4 2002.5,1100.4 1853.7,1118.8 1993.1,1163.7 1814.1,1134.1 1747,1169.8 1917.6,1114.6 1909.3,1072.6 1814,1131.7 1907.8,1126.1 1875.3,1184.8 1979.6,1057.2 1957.5,1146.4 2096.2,1007.8 1965.9,1092.4 1864.5,1114.1 1984.6,991.7 1891.7,1102.1 1879.1,1101.7 1754.3,1143.7 1791.9,1130.6 1864.4,1109.4 1797.2,1114 1837.5,1152.8 2015.6,1038.2 1886,1039.2 1966.1,1112.4 1794,1159.9 1955.5,980.5 1852.9,1144.3 1692.4,1167.7 2005.3,1023.3 2104.1,1039.1 1990.3,1017.6 1833.5,1049.2 1952.5,1118.9 2040.7,1076.7 1923.7,1118.6 2010.3,1085.8 2079.1,1053.8 1834,1153 1952.7,1190.1 1773.1,1166.4 1913.9,1143.4 1919,1102.2 1956.2,1073.6 2108,1091.8 1903.2,1023.2 1869.8,1209.2 1870.7,1097.7 1843.2,1100.2 2051.4,982.1 1764,1270.8 1766.7,1169.7 1710.4,1145 2059.8,1054.6 2127.1,1040.7 2110.5,994.6 1751.7,1239.5 1994.7,1093.5 2080.6,1043.1 2082.6,1085.9 1921.6,1024.5 1844.8,1133.7 1896.2,1058.9 1757.3,1138.3 1805.6,1077.6 1930.1,1069.2 2002.7,1051.2 1920.2,1073.4 2024.6,1091.5 2043.2,1050.9 1908.3,1080 1862.7,1052.4 1921.5,1180.3 1766.6,1107.3 1838.2,1103.1 2001,1015.9 2053.1,1069.6 1853.1,1188.4 1802.4,1151.4 1814.3,1081.4 1909.8,1123.9 1982.6,1166 1902.6,1038.7 1983.2,1021.3 1926,1083.9 1882.2,1066.6 1705.5,1227.4 2067.4,987.4 2061.8,1078.6 1970.5,1121.5 2035.5,1000.9 1887.5,1147.1 2002.4,1063.8 1923.3,1132.4 1857.2,1138.6 1983.2,1068.1 1767.2,1091.3 2014.1,1057.5 1873.9,1159.1 2024,1134.4 1971.5,1100.2 1900.6,1162 1877.2,1162.2 1786.5,1139.4 1733.1,1238.8 1994.6,1075.2 2027.2,1049.7 2018.4,970.2 2073.2,1037.5 1798.8,1074.4 1934.3,1165.8 1842.5,1131.9 1819.6,1033.9 1865.5,1165.4 1836.9,1117.9 1763,1145.8 1901,1103.7 1917.9,1002.6 1969.1,1063.3 2008.6,1104.2 1917.9,1110.2 1763.9,1232.3 1958.4,1120.1 1855.6,1160.1 1834.8,1163.2 2123.9,1051.1 1950.3,1031.2 1761.8,1169.6 1979.3,1147.7 1995.1,1110.8 2011.7,1090.9 2126.8,1005.9 1717.6,1175.8 1971.2,1064.9 1823.4,1117.6 1892.4,1011.8 1840.3,1190.6 1917.4,1173.4 1835.6,1211.8 1954.7,1088.5 1731.1,1146 1881.3,1003.7 2056.8,1008.8 1798.3,1116.2 2056.8,1026.9 1695.4,1175.4 1735.6,1126.9 1906.8,1189.5 2077.6,1039 2080.8,1088.1 1764.2,1085.6 1870.5,1082.7 1960.1,1139.1 1955.6,1067.6 1952.5,1037.5 1989.1,1098.7 1910.5,1107.9 1906.5,1182.9 1923.6,1018.5 2051.5,1107.6 2082.3,984.5 1871,1152.1 1949.4,1076.8 1867.6,1242.4 1967.9,1036.2 1975.6,1088.2 2017.3,1013.4 1918.7,1048.1 1996.5,950.9 2065.7,1088.3 2007,1061.9 1994.6,1098.4 1951.8,1067.8 1739.8,1251.2 1728.2,1224.8 1934,1073.9 1883.4,1082.6 1717.1,1188.6 1831,1161.9 1891.5,1156.5 1901.5,1046.7 1873,1207.4 1901.3,1207.3 1744.4,1169.7 1893.4,1022.4 2114.9,1033.4 1859.9,1020.2 1988.7,1042.8 1866.2,1110.8 2022.7,1092.7 1838.5,1107.6 1837.3,1136.4 1980,980.4 1989.7,1120.2 2170.1,973.2 1914.8,1071 1748.5,1096.4 2035.4,1069.2 1758,1115.1 2004.3,1095 1871.3,1085.2 1853.9,1038.3 1877.4,1197.7 1799.8,1222.2 1951.5,1019.1 1875.2,1215.9 1798.7,1111.6 1974.6,1104.8 2069.9,994.6 1869.5,1031.3 1947.2,1077 1934.3,1070 2052.7,1046 1851.7,1167.5 1893.7,1041.2 2034,1074.3 1777.8,1095.4 2031.3,1075.2 1918.2,1215.5 1935.1,1021.9 1881.3,1129.8 2098.5,1058.3 1909.5,1120.2 2085.2,1023.2 1760.2,1098.4 2038,1082.1 1691.4,1202.4 1767.5,1165.5 1900.8,1106.7 1973.7,1053.1 1943.5,1108.7 1934.6,1056.2 2017.5,1060.7 1824.7,1093 1967.9,1087.6 1827.3,1120 1998.3,1028.6 1962.1,1001.1 1864,1045.7 1989.8,1093.1 1868.5,1031.5 1987.8,1073.2 1858.3,1179.4 2006.1,976 1987,1078.3 2064.2,1014.5 1932.7,1159 1920.7,1126.1 1787.7,1073.7 1900.3,1122.4 1835.9,1107.4 1895.8,1213.6 1856.1,1167 1934.7,1123.5 1952.8,1183.5 2066.4,1100.3 1822.2,1206.5 1810.9,1224.4 1974.8,1050 1881.6,1051.3 2015.3,1117.5 2031.9,1022.6 2017.2,1022.8 2033.1,1080.2 1815.6,1083 1801,1212.8 1814.9,1121 2017.4,1057.1 1903.1,1189.6 1881.1,1014.5 2082.7,1063.6 2155.5,1071.5 1963.1,1051.8 1969.1,1087 1713.2,1188.9 2056.4,1043.8 1997.3,1136.6 2038.4,967.8 1850.9,1157.6 1723.4,1193 2101.8,1052.3 2025.8,1098.7 1954.5,1103.3 1885.5,1033.3 1881.2,1028 1995.8,1152.8 1954.2,1081.5 1853.1,1110.3 1776.7,1119.7 2038,1009.2 1820.6,1212 1963.8,973.9 2029.2,1014.6 1746.1,1213 1855.4,1061.2 1789.6,1050.9 1935.5,1125.6 1900.2,1106.6 1928.7,1141.9 1907.4,1136.4 2075.4,965.4 1948.6,1117.4 1753.8,1217 1908.1,1032.7 1978,1089.9 1930.7,1117.7 2033.8,1148.4 1909,1097 1857.2,1160.8 1879.7,1049.6 1874.4,1152.9 1933,1143 1686.9,1223.1 1895.7,1174.2 1906.1,1172.8 2023.9,1005.2 1957.1,1057.2 1935.1,1100.2 2021.9,965.5 1979.7,1018.8 1871.6,1093.5 2047.5,974.6 1850.8,1188.6 1942,1161.1 1877.9,1089.8 1748.6,1233.9 1837,1064.5 1981.4,1009.2 1765.3,1036.2 1792.1,1153.5 1943.2,1151 1857.8,1075.1 2005.8,1047.3 1769.5,1118.7 1797.2,1208 1893.1,1064.6 1875.4,1162.1 1902.9,1200.6 1864.3,1142 1966.3,1194.6 1858.6,1035.8 2123.4,1029.2 1869.9,1106.1 2097.3,1035.6 1895.1,1042.7 1949.8,1116.9 1932,1073 1865.4,1155.6 1761.5,1157 1979.4,1126 1729.8,1217.8 1752.5,1161.8 1968.8,1049 2054.5,1058 1911,1112.9 2112.8,970.8 1958.7,1084.8 1972.8,982 1909.2,1168.3 2071.1,985.3 1961.6,1104.2 1934.7,1147.6 1920.1,1044.5 2036.2,1045.9 1801.1,1129.5 1933.3,1107.7 1800.6,1232.1 1935.7,1091.6 2030.9,1061.7 1869.7,1199.9 1950.3,1002.2 1815,1177.8 1805.1,1115.6 1913,1127.2 1989.1,1056.9 2004.4,1031 1825.2,1182.2 1934.8,1040.9 1878,1079.8 1935.3,1060.9 1944.3,1188.2 1976.6,1093.3 1995.7,1146.6 1841.2,1226.3 1714.7,1134.1 1856.9,1134.6 1831.5,1187.7 1962,1017 1750.3,1099.6 1973.5,1123.4 1986.4,1143 1742.4,1183.5 1936.6,1073.8 1686.8,1122 1818.7,1058.5 1807.3,1134.2 1919.7,1101.9 1798,1159.2 1888,1166.4 1752.6,1141.8 2100.4,1069.2 1791.4,1203.7 1862,1136.8 1867.8,1039.6 2030.5,1090.2 1904.9,1111.1 2027.7,1147.1 2084.9,969.8 1863.3,1085 1942.2,1115.4 1918.9,1172.4 1789,1070.2 1977.4,1175.3 2040.9,1069.3 1930.9,1122.4 1803.3,1223.7 1998.4,1037.9 1761,1176.4 1905.4,1027.3 1704.2,1213.7 1876.3,1138.5 2068,1062.6 1979.3,1128.4 1896.7,1205.7 1857.6,1082.2 1907.9,1112.9 2001.9,1003.8 1908.1,1186.9 2002.6,1049.3 1947.8,972.8 1768,1138.2 1897.3,1089.2 2039.6,994.4 1910.1,1078.6 1904.4,1057.8 1874.9,1039.3 1911.8,1086.3 1872.4,1210.8 1976.6,1144.4 1946.6,1109.6 2042,971.5 1903.5,983.8 1858.2,1041.4 1910,1029.9 2058.5,1042.2 2082.1,1048.5 1966.2,1020.4 2108.9,1001.8 1920.4,1151.9 1953.4,1162 2065.2,1093.4 2064,998.4 1978.9,1023 1833.7,1141.6 1852.2,1196.1 2037.8,1127.3 1920.7,1131.8 1804.8,1222.9 1991.7,1078.9 1918,1065.6 1801.3,1126.2 1831.7,1216 1898.5,1146 1948.7,1094.6 1841.4,1103.8 1989.3,1090.5 1780.4,1152.2 1805,1122.8 1878.1,1059.2 2089.5,1025.1 1755.4,1149.8 1998.5,1148.2 1785.6,1082.2 1879.3,1164.9 1862.5,1026.3 1927.5,1082.5 1748.1,1222.4 1952.2,1005.8 1836.8,1047.2 1905.7,1085.2 1887.8,1189.2 1718.4,1112.2 1891.7,1049.6 1952.2,1036.9 1884.8,1099.5 1941,1051.2 1991.7,1114 1963.6,1121.4 1883.9,1076.7 1931.5,1166.1 1992.3,1102.8 1788.1,1176.6 1856.3,1057.5 1918.7,1145.9 1817.3,1132.9 1744.7,1140.7 1797.5,1114.9 2137.1,1059.4 1988.6,1025.2 1880,1005.9 1772.4,1138 1992.9,1016.1 2015.9,1057.7 1990,1013.8 2084.4,1044.5 2053.1,1105.3 1941.6,1076.4 1674.3,1180.8 1806.8,1207.1 1957.5,1052.2 1974.8,1025.7 1938.9,1141 1868.1,1232.1 2010.7,1080.4 1984,1026.2 1848.2,1099.6 1942.3,1115.9 1769.9,1208 1786.8,1166.4 1958.5,1132.3 1828.4,1058.2 1995.4,1117.2 1909.5,1106.5 1941.8,1071.5 1830.9,1043.7 1971.3,1174.9 1860.3,1092.5 1935.5,1059.9 1829.6,1096.7 1900.4,1105.8 1800.8,1162.4 2117.3,961.1 1960,1053 1905.7,1078.6 2090,1063.5 1963.7,1092.2 2013.3,1092.6 1845.3,1121.5 1957.1,1108 2015.8,1086.8 1870.3,1122.5 1851.2,1150.4 1809,1167 1755.5,1147 1765.5,1122.8 1825.3,1057.3 1800.6,1148.7 1846.9,1087.8 2021.5,1136.8 2038.8,1003.5 1975.2,1018.8 1762.9,1184.5 1905.5,1215.5 1811.1,1179.3 1825,1187.5 2008.8,1068 1995.7,1136 1968.4,1023.8 1906.7,1149.8 1669.1,1203.3 2104.9,1017.7 1832.2,1153.5 1716.3,1136.3 1940.6,1120.3 2058.7,1051 1805.6,1212.2 1819,1206.5 2057.2,1078.2 1901.5,1098.4 2083.5,1063.3 1947.7,1120.2 1882,1111.3 2008.2,960.6 1792.3,1221.9 1999.4,1086.2 1973.6,1110.7 1969.2,1024 1972.2,1026.3 1863.9,1091.8 1868.6,1138.6 1947.3,1108 1778.8,1204.4 2097.2,1001.9 2073.2,1083.4 2011.8,1091.7 1708.5,1259.4 1817.3,1198.3 1988.1,1042 1917.6,1130.4 1866.4,1169.9 1944.2,1152.6 1927.5,1063.6 1968.8,1057.7 1909,1128.6 2133.3,991.1 2017.9,1037.4 2046.7,979.3 1772.4,1130.1 1761.1,1172.2 1837.8,1067.9 1891.8,1191.4 2033.7,1120.4 1858.2,1075.7 1818.7,1173.9 1967,1103.5 2008.7,1010.6 1834.1,1213.3 2045.6,1017.3 1981.1,1100.5 1969.9,1039.4 1851.1,1112.6 1869.3,1066.5 1990.4,1035 1873.9,1035.4 2092.6,984.1 1917.7,1136.9 1914.1,1125.8 1881.9,1158.9 1801.9,1215.1 1929.8,1189 1768.1,1144.2 1935.9,1140.1 1869,1183.1 1767.2,1093.1 1970.2,1044.2 2010.8,1044.5 1800.7,1227.2 1874.2,1168.1 1725.7,1200.1 1932.1,1083.9 2028.3,1112.7 1921.6,1079.9 1943.3,1066.5 1907.9,1008.8 1921.5,1105.5 1962.5,998.8 1933.2,1039.7 1824.8,1086.5 2016.7,1061 2069.4,1010.1 1889,1107.4 1902.6,1147.9 1909.2,1100.9 1837.6,1112.9 1812.1,1055.2 1953.1,1088 2062.5,1033.8 1824.5,1224.3 1876.7,1109.4 1836.6,1208.9 1948.7,1067.4 1737.2,1204.5 1967.3,1097.1 1834,1169.8 1818.9,1183.6 2025.3,1060.8 1896.4,1068.5 2059.5,1059.9 1873.7,1175.5 2113,1027.3 1778,1149.2 1815,1129.3 2023.7,998.8 1940.9,1085 2025.1,1132.4 2074.5,1076.3 1893.1,1135.5 1894.6,1005.4 1787.8,1212.3 2079.8,1031.1 2046.1,1042.9 1979.7,1077.2 1745.1,1168.9 1914.9,1106.6 1715.7,1263.2 1931.5,1027.1 2023.4,1093.4 1931.4,1071.2 2046,1041.9 1915.4,1113.5 1854.8,1113.1 1911.5,1088.2 1720.7,1165.9 2047.6,975.2 1732.4,1146.8 1935,1137.6 1939.5,1182.1 2018.3,1068.3 2016.9,1104 1968.5,1087.1 1933.4,1064.4 1990.5,993.9 2008.7,1155.3 2014.5,1002.9 1803.6,1183.1 1910.4,1177.8 1790,1123.7 1818.4,1196.1 1926.3,1128.7 1813.6,1166.8 1807.5,1042.1 1956.2,1008.7 1843.7,1047.9 1859.6,1168.9 1881.4,985.8 1938.5,1074 2037.7,1023.9 1890.2,1117.3 1899.8,1134.5 2075.9,1106.2 2038.4,1045 1872.5,1152.6 1833,1106.6 2021.3,1107.4 1742.3,1138 1971,1124.5 1755.4,1175.9 1938.6,1138.3 1894,1190.1 1968.4,1115.4 1810.7,1121.9 1837.8,1136.5 1953.1,1099.2 1871.9,1022.4 1831.7,1058.4 1772.1,1154.9 1920.6,1041 1763.4,1104.8 2007.7,1029.9 1795.9,1107.2 1915.6,1112.4 1861.3,1072.3 1900.8,1129.4 1838,1134.6 1859.1,1013.1 1873.5,1102.4 1863.6,1102.6 1942.5,1014.4 2091.4,1065.9 1815.8,1076.7 1973.6,988.7 2032.2,1016.7 1894.8,1126.1 1845.9,1192.1 1865.4,1102.9 2052.4,1067.9 1738.5,1128.9 1701.9,1203.8 1737.2,1280.6 1784.7,1104.1 1943.1,1112.1 2066.9,1011.5 1853.6,1025.2 1831.9,1185.7 1733.3,1199.3 2110.1,993.6 2055,1149.8 1966.7,1050 1774.9,1214.1 1816.3,1142.8 1957.4,1106.7 1983.6,1016 1918,1017.7 1999.5,1098.6 1930,1109 1901.3,1018.8 1708.2,1204.9 1912.4,1037.5 2012,1059.6 1969.2,1046.3 1793.6,1198.5 1966.4,1192.8 1992.2,1034.2 1981.3,1096.5 1974.8,1084.2 2070.6,1031.3 1804.6,1090.5 1878.3,1114.5 2084.3,1056.3 1868.2,1065.9 2131.7,1089.5 1786.5,1168.3 1834.7,1156.2 2026.6,1099.8 1756.4,1212.3 1993.4,1115.7 1934.7,1008.3 2036.5,1078.1 2084,1033.1 1795.1,1123.3 1820.8,1160 1942.6,1143.1 1905.8,1110 1747.8,1221.6 1878.2,1117.2 1907.5,1153.4 1783,1128.8 2103.7,990.3 1882.6,1093.8 1880.1,1051.3 1912.5,1116.1 1995.5,1189.8 1803.1,1083.1 1966.9,1177.9 2016.9,1007.1 1775.8,1213.5 2028.9,1103.7 1881.3,1163.8 1995.3,1021.6 1923.1,1183.7 1899.4,1060.3 2045,1134.7 1869,1150.5 1968,1077 2099.4,1046.6 1837.7,1157.8 1916.8,1011.4 2039.5,1019.4 1760.2,1076.8 1820.8,1221.2 1885,1147 1776.8,1100 1851.5,1173.6 1850.8,1123.5 2071.8,1108.4 1847.8,1208.8 2008.4,982.2 2057.8,1028.4 1718.4,1149.2 1864.3,1226.4 1808,1173.1 1882.6,1108.7 1862.3,1086.3 1925.6,1001.5 1744.4,1174.1 1891,1084.7 1992.7,1034.7 2039.7,1027.1 1988.2,1071.3 1879.4,1112.5 1995.2,1029.9 2175.7,1032.6 2038.5,1121.7 1948,1119.1 2046.9,1096.9 1806,1151.1 2021.9,1048 1868,1056 1726.2,1198.3 1820.9,1056.7 2023.7,999.2 2022.9,1062.1 1845.5,1120.5 2023.3,1076.8 1840.8,1085.6 1867.9,1108.7 1972.5,1134.1 2012.2,1110.5 1978.1,1049.3 2057.9,1015 1944.5,1165.1 1754.3,1140.3 1826.4,1093.7 1865,1087.1 1862.3,1061.7 1896,1073.7 1765.8,1146.6 2091.8,1114.4 2034.5,1127.1 1922,1081.5 1900.8,1099.2 1946.3,1093.9 1851.4,1018.2 1781.6,1163.2 1980.5,974.7 1734.8,1200.4 1853.6,1103.4 1852.8,1168.5 1820.6,1102 1955.3,1027.2 1928.4,1057.9 1813,1126.2 1839.4,1229.6 1983.8,1070.5 1885.6,1064.9 1747.8,1182.3 1868.3,1100.3 1747,1160.9 1835.2,1167.2 2029.9,1058.9 1831.6,1141.1 1819.4,1156.2 1979.9,978.9 2037.8,1018 1929.3,1101.4 1999.7,954.9 1954.2,1050.9 1847.4,1062.2 1824.6,1029 1931.2,1115.8 1841,1053.3 1956.8,1082.5 2018.8,1030.1 1834.7,1024.9 1970.9,1084.7 1783.9,1155.6 1787.9,1234.6 2123.2,1015.7 1688.2,1126.1 1893.8,1159.1 1794,1119.4 1964.5,1105.5 1934.9,1114.3 2024.8,1054.1 1955.7,1129.8 2031.1,1008.3 1908.7,1154.5 2074,1039.1 1692.9,1128.9 1932.2,1044.5 1965.4,1047.2 1893.3,1042.8 1924.4,1162.7 1795.7,1147.1 1671.9,1138.9 1937,1111.1 2019.2,1052.6 1842.7,1078.8 1930.7,1134.5 2113.7,1026.8 1934.1,836.4 1926.5,936 1886.5,946 1937.1,950.7 1745.2,958.5 1833,967 1840.2,973.2 1894.3,966 1916.7,968.1 1868.3,975.8 1881,978.3 1831,982.4 1806.5,986.4 1820.1,984.4 1822.8,990.5 1768.3,989.5 1767.7,1001.8 1858.1,985.4 1857.5,992.6 1885.1,991.5 1868.7,993.6 1907.5,985.4 1856.1,1005.8 1790.7,1015.4 1841.2,1014 1692.7,1026.7 1723.4,1027.7 1769.1,1031.4 1802.4,1031.4 1807.5,1031.4 1827.9,1030.3 1812.6,1039.5 1796.3,1048.7 1801.4,1049.7 1657.4,1054.8 1756.8,1052.2 1748.7,1058.9 1777.9,1058.9 1779.9,1061 1823.8,1056.9 1711.1,1068.1 1700.3,1069.1 1791.1,1068.1 1639,1089.2 1590.6,1122.9 1606.4,1125.3 1634.5,1139.2 1580.8,1152.9 1570.6,1160.1 1644.1,1160.7 1658,1168.2 1660.1,1105.3 1650.3,1112.7 1662.9,1122.9 1676.4,1131.9 1677.2,1103.9 1688.6,1105.3 1692.1,1112.1 1695.6,1131.1 1673.7,1150.9 1673.7,1159 1668.6,1185.2 1681.9,1177.4 1682.9,1187.6 1671.7,1205.4 1685.4,1206 1668.6,1212.1 1667.6,1217.2 1640.5,1219.7 1616.2,1232.1 1627.4,1233.6 1649.2,1232.5 1638,1239.7 1631.9,1244.8 1661.5,1243.8 1654.3,1250.9 1656.4,1260.1 1574.7,1262.6 1598.8,1264.8 1624.3,1266.2 1642.1,1264.8 1636.6,1275.4 1674.4,1264.2 1677.2,1284.6 1688.2,1305 1716,1265.2 1726.2,1254 1731.9,1278.5 1737,1272.4 1744.2,1266.2 1750.3,1260.1 1763.6,1248.9 1763.6,1256 1764.6,1281.1 1774.8,1271.9 1782,1277.5 1791.1,1280.1 1777.5,1288.7 1804.4,1296.4 1835.7,1305.4 1786,1254 1793.2,1263.2 1807.5,1248.9 1820.8,1264.2 1825.9,1264.2 1827.9,1251.9 1844.2,1256 1848.3,1247.9 1854.4,1241.7 1877.9,1242.7 1896.3,1254 1897.3,1247.9 1898.3,1239.7 1905.5,1230.5 1877.9,1230.5 1929,1211.1 1934.1,1222.3 1685,1232.5 1687,1235.6 1676.8,1240.7 1695.2,1247.9 1707.4,1231.5 1709.5,1241.7 1719.7,1239.7 1736,1237.6 1741.1,1240.7 2196.5,816.6 2017.8,827.2 1934.5,836.4 1988.2,847 2213.8,869.4 2215.2,884.3 2222.4,893.9 2143.4,889.4 2154.6,900.7 2167.3,896.2 1992.7,894.6 2064.4,896.6 2106,902.7 2106,904.8 2047,912.9 2275.5,908.4 1958.2,921.5 2009.2,922.1 2019.2,919.1 2132.8,917.4 2167.9,918 2099.9,925.6 2144.8,926.2 2165.2,927.2 2178.1,926.2 2256.7,928.2 2008.6,934 2080.7,936.4 2094.4,937.4 2133.2,931.3 2126,936.4 2105.2,942.5 2195.8,936.4 2214.8,931.9 2219.9,934 2287.7,936.8 2153.6,941.9 2223.4,947.6 2182.2,948.1 2193.4,952.7 2209.7,954.2 2192.4,957.9 2260.8,955.8 2115.8,951.7 2144.4,951.7 2156.6,952.7 2168.9,959.9 2284.9,975.8 2174,975.2 2191.4,974.2 2183.2,982.4 2180.1,984.4 2144.4,988.5 2224,996 2209.7,997.1 2243.4,1009.9 2160.7,998.7 2166.9,1003.8 2179.1,1003.8 2193.8,1004.8 2187.3,1007.9 2189.3,1015 2135.2,1016 2158.1,1018.7 2168.9,1019.1 2218.3,1021.6 2145.4,1024.8 2157.7,1036.1 2181.6,1037.1 2196.5,1034.4 2190.3,1041.6 2210.8,1050.8 2187.3,1055.5 2158.7,1049.7 2138.3,1049.7 2120.9,1049.7 2297.1,1064 1938.6,951.3 1949.4,949.7 1967.8,950.7 1954.5,952.7 1930,936.4 2014.7,946.6 2033.1,946.6 2048.4,945.6 2080.1,950.7 2117.9,968.1 2136.2,960.9 2142.4,972.1 2134.2,982.4 2121.9,992.6 2125,1001.8 2111.7,1000.7 2300,1093.7 2226.1,1107 2212.8,1132.9 2181.1,1158.6 2143.8,1172.9 2120.9,1072.7 2131.1,1074.3 2146.4,1073.3 2156.6,1072.3 2127,1086.1 2158.7,1090.6 2154.6,1094.7 2105.6,1075.3 2103.6,1090.6 2091.3,1086.5 2093.3,1114.1 2082.1,1109 2070.9,1105.9 2112.7,1119.8 2118.9,1119.8 2127,1125.3 2106.6,1131.5 2086.2,1119.2 2068.8,1121.3 2068.8,1129.4 2080.1,1132.5 2079.1,1138 2057.6,1116.2 2042.3,1128.4 2034.1,1130.4 2035.2,1136.6 2019.8,1146.8 2016.8,1159 2044.8,1159 2045.4,1165.2 2078.4,1159.4 2079.5,1182.5 2057.2,1195.2 2021.9,1179.4 2022.9,1201.5 2010,1195.8 2005.5,1187.6 1994.3,1185 1991.3,1168.2 2001.5,1166.2 1975.9,1171.3 1971.9,1177.4 1956.5,1189 1934.1,1190.7 1971.2,1203.5 1978,1206.6 1990.6,1216.8 1945.9,1209.1 1945.3,1221.3 1946.7,1232.1 1930,1211.1"/>
</g>
<rect x="1540.5" y="773.5" width="774.0" height="581.0" fill="none" stroke="#000" stroke-width="3"/>
<path d="M1617.9 1354.5v-21.5M1772.7 1354.5v-21.5M1927.5 1354.5v-21.5M2082.3 1354.5v-21.5M2237.1 1354.5v-21.5M1540.5 1223.5h21.5M1540.5 1092.5h21.5M1540.5 961.5h21.5M1540.5 830.5h21.5" fill="none" stroke="#000" stroke-width="3"/>
<g>
<text transform="translate(468.9 661.3) scale(0.9750 1)" style="font-size:45.5px" text-anchor="middle">1.6</text>
<text transform="translate(623.2 661.3) scale(0.9750 1)" style="font-size:45.5px" text-anchor="middle">1.8</text>
<text transform="translate(777.4 661.3) scale(0.9750 1)" style="font-size:45.5px" text-anchor="middle">2.0</text>
<text transform="translate(931.7 661.3) scale(0.9750 1)" style="font-size:45.5px" text-anchor="middle">2.2</text>
<text transform="translate(1085.9 661.3) scale(0.9750 1)" style="font-size:45.5px" text-anchor="middle">2.4</text>
<text transform="translate(1617.9 661.3) scale(0.9750 1)" style="font-size:45.5px" text-anchor="middle">1.6</text>
<text transform="translate(1772.2 661.3) scale(0.9750 1)" style="font-size:45.5px" text-anchor="middle">1.8</text>
<text transform="translate(1926.4 661.3) scale(0.9750 1)" style="font-size:45.5px" text-anchor="middle">2.0</text>
<text transform="translate(2080.7 661.3) scale(0.9750 1)" style="font-size:45.5px" text-anchor="middle">2.2</text>
<text transform="translate(2234.9 661.3) scale(0.9750 1)" style="font-size:45.5px" text-anchor="middle">2.4</text>
<text transform="translate(468.9 1410.2) scale(0.9750 1)" style="font-size:45.5px" text-anchor="middle">1.6</text>
<text transform="translate(623.2 1410.2) scale(0.9750 1)" style="font-size:45.5px" text-anchor="middle">1.8</text>
<text transform="translate(777.4 1410.2) scale(0.9750 1)" style="font-size:45.5px" text-anchor="middle">2.0</text>
<text transform="translate(931.7 1410.2) scale(0.9750 1)" style="font-size:45.5px" text-anchor="middle">2.2</text>
<text transform="translate(1085.9 1410.2) scale(0.9750 1)" style="font-size:45.5px" text-anchor="middle">2.4</text>
<text transform="translate(1617.9 1410.2) scale(0.9750 1)" style="font-size:45.5px" text-anchor="middle">1.6</text>
<text transform="translate(1772.2 1410.2) scale(0.9750 1)" style="font-size:45.5px" text-anchor="middle">1.8</text>
<text transform="translate(1926.4 1410.2) scale(0.9750 1)" style="font-size:45.5px" text-anchor="middle">2.0</text>
<text transform="translate(2080.7 1410.2) scale(0.9750 1)" style="font-size:45.5px" text-anchor="middle">2.2</text>
<text transform="translate(2234.9 1410.2) scale(0.9750 1)" style="font-size:45.5px" text-anchor="middle">2.4</text>
<text transform="translate(372.0 37.4) scale(0.9750 1)" style="font-size:45.5px" text-anchor="end">1.03</text>
<text transform="translate(372.0 134.0) scale(0.9750 1)" style="font-size:45.5px" text-anchor="end">1.02</text>
<text transform="translate(372.0 230.6) scale(0.9750 1)" style="font-size:45.5px" text-anchor="end">1.01</text>
<text transform="translate(372.0 327.1) scale(0.9750 1)" style="font-size:45.5px" text-anchor="end">1.00</text>
<text transform="translate(372.0 423.7) scale(0.9750 1)" style="font-size:45.5px" text-anchor="end">0.99</text>
<text transform="translate(372.0 520.3) scale(0.9750 1)" style="font-size:45.5px" text-anchor="end">0.98</text>
<text transform="translate(372.0 616.9) scale(0.9750 1)" style="font-size:45.5px" text-anchor="end">0.97</text>
<text transform="translate(1524.0 92.9) scale(0.9750 1)" style="font-size:45.5px" text-anchor="end">1.08</text>
<text transform="translate(1524.0 209.6) scale(0.9750 1)" style="font-size:45.5px" text-anchor="end">1.04</text>
<text transform="translate(1524.0 326.4) scale(0.9750 1)" style="font-size:45.5px" text-anchor="end">1.00</text>
<text transform="translate(1524.0 443.1) scale(0.9750 1)" style="font-size:45.5px" text-anchor="end">0.96</text>
<text transform="translate(1524.0 559.8) scale(0.9750 1)" style="font-size:45.5px" text-anchor="end">0.92</text>
<text transform="translate(375.5 787.2) scale(0.9750 1)" style="font-size:45.5px" text-anchor="end">1.2</text>
<text transform="translate(375.5 951.2) scale(0.9750 1)" style="font-size:45.5px" text-anchor="end">1.1</text>
<text transform="translate(375.5 1115.1) scale(0.9750 1)" style="font-size:45.5px" text-anchor="end">1.0</text>
<text transform="translate(375.5 1279.1) scale(0.9750 1)" style="font-size:45.5px" text-anchor="end">0.9</text>
<text transform="translate(1524.5 846.1) scale(0.9750 1)" style="font-size:45.5px" text-anchor="end">1.2</text>
<text transform="translate(1524.5 976.0) scale(0.9750 1)" style="font-size:45.5px" text-anchor="end">1.1</text>
<text transform="translate(1524.5 1105.9) scale(0.9750 1)" style="font-size:45.5px" text-anchor="end">1.0</text>
<text transform="translate(1524.5 1235.8) scale(0.9750 1)" style="font-size:45.5px" text-anchor="end">0.9</text>
<text transform="translate(1524.5 1365.7) scale(0.9750 1)" style="font-size:45.5px" text-anchor="end">0.8</text>
<text x="778.0" y="722.0" text-anchor="middle">Voronoi volume</text>
<text x="1927.0" y="722.0" text-anchor="middle">Voronoi volume</text>
<text x="778.0" y="1471.2" text-anchor="middle">Voronoi volume</text>
<text x="1927.0" y="1471.2" text-anchor="middle">Voronoi volume</text>
<text transform="translate(263.0 469.8) rotate(-90)">Diameter,<tspan dx="3.9"> (</tspan><tspan font-style="italic" dx="0.7">i</tspan><tspan dx="2.7">+</tspan><tspan font-style="italic" dx="-0.3">j</tspan><tspan dx="1.7">)</tspan><tspan dx="2">/</tspan><tspan dx="0.7">2</tspan></text>
<text transform="translate(1408.0 469.8) rotate(-90)">Diameter,<tspan dx="3.9"> (</tspan><tspan font-style="italic" dx="0.7">i</tspan><tspan dx="2.7">+</tspan><tspan font-style="italic" dx="-0.3">j</tspan><tspan dx="1.7">)</tspan><tspan dx="2">/</tspan><tspan dx="0.7">2</tspan></text>
<text transform="translate(290.0 1221.3) rotate(-90)">Diameter,<tspan dx="3.9"> (</tspan><tspan font-style="italic" dx="0.7">i</tspan><tspan dx="2.7">+</tspan><tspan font-style="italic" dx="-0.3">j</tspan><tspan dx="1.7">)</tspan><tspan dx="2">/</tspan><tspan dx="0.7">2</tspan></text>
<text transform="translate(1435.5 1220.5) rotate(-90)">Diameter,<tspan dx="3.9"> (</tspan><tspan font-style="italic" dx="0.7">i</tspan><tspan dx="2.7">+</tspan><tspan font-style="italic" dx="-0.3">j</tspan><tspan dx="1.7">)</tspan><tspan dx="2">/</tspan><tspan dx="0.7">2</tspan></text>
<text x="415.0" y="72.0" text-anchor="start">(A)</text>
<text x="1568.0" y="72.0" text-anchor="start">(B)</text>
<text x="415.0" y="824.3" text-anchor="start">(C)</text>
<text x="1568.0" y="824.0" text-anchor="start">(D)</text>
<polyline class="s" marker-start="url(#k)" marker-mid="url(#k)" marker-end="url(#k)" points="446.8,446.8 446.8,446.8"/>
<text x="471.4" y="459.7" text-anchor="start">Others</text>
<polyline class="s" marker-start="url(#g)" marker-mid="url(#g)" marker-end="url(#g)" points="446.8,485.5 446.8,485.5"/>
<text x="471.4" y="498.4" text-anchor="start">FCC</text>
<polyline class="s" marker-start="url(#r)" marker-mid="url(#r)" marker-end="url(#r)" points="446.8,523.9 446.8,523.9"/>
<text x="471.4" y="537.5" text-anchor="start">HCP</text>
<polyline class="s" marker-start="url(#b)" marker-mid="url(#b)" marker-end="url(#b)" points="446.8,562.8 446.8,562.8"/>
<text x="471.4" y="576.7" text-anchor="start">BCC</text>
<polyline class="s" marker-start="url(#k)" marker-mid="url(#k)" marker-end="url(#k)" points="2167.1,453.1 2167.1,453.1"/>
<text x="2189.4" y="466.2" text-anchor="start">Others</text>
<polyline class="s" marker-start="url(#g)" marker-mid="url(#g)" marker-end="url(#g)" points="2167.1,491.7 2167.1,491.7"/>
<text x="2189.4" y="505.6" text-anchor="start">FCC</text>
<polyline class="s" marker-start="url(#r)" marker-mid="url(#r)" marker-end="url(#r)" points="2167.1,530.7 2167.1,530.7"/>
<text x="2189.4" y="544.8" text-anchor="start">HCP</text>
<polyline class="s" marker-start="url(#b)" marker-mid="url(#b)" marker-end="url(#b)" points="2167.1,569.2 2167.1,569.2"/>
<text x="2189.4" y="584.0" text-anchor="start">BCC</text>
<polyline class="s" marker-start="url(#k)" marker-mid="url(#k)" marker-end="url(#k)" points="593,810.2 593,810.2"/>
<text x="619.6" y="823.5" text-anchor="start">Others</text>
<polyline class="s" marker-start="url(#g)" marker-mid="url(#g)" marker-end="url(#g)" points="593,848.4 593,848.4"/>
<text x="619.6" y="862.9" text-anchor="start">FCC</text>
<polyline class="s" marker-start="url(#r)" marker-mid="url(#r)" marker-end="url(#r)" points="593,886.9 593,886.9"/>
<text x="619.6" y="901.8" text-anchor="start">HCP</text>
<polyline class="s" marker-start="url(#b)" marker-mid="url(#b)" marker-end="url(#b)" points="593,924.9 593,924.9"/>
<text x="619.6" y="940.9" text-anchor="start">BCC</text>
<polyline class="s" marker-start="url(#k)" marker-mid="url(#k)" marker-end="url(#k)" points="2156.9,1304.4 2156.9,1304.4"/>
<text x="2177.5" y="1319.4" text-anchor="start">Others</text>
</g>
</svg>
</body>
</html>
